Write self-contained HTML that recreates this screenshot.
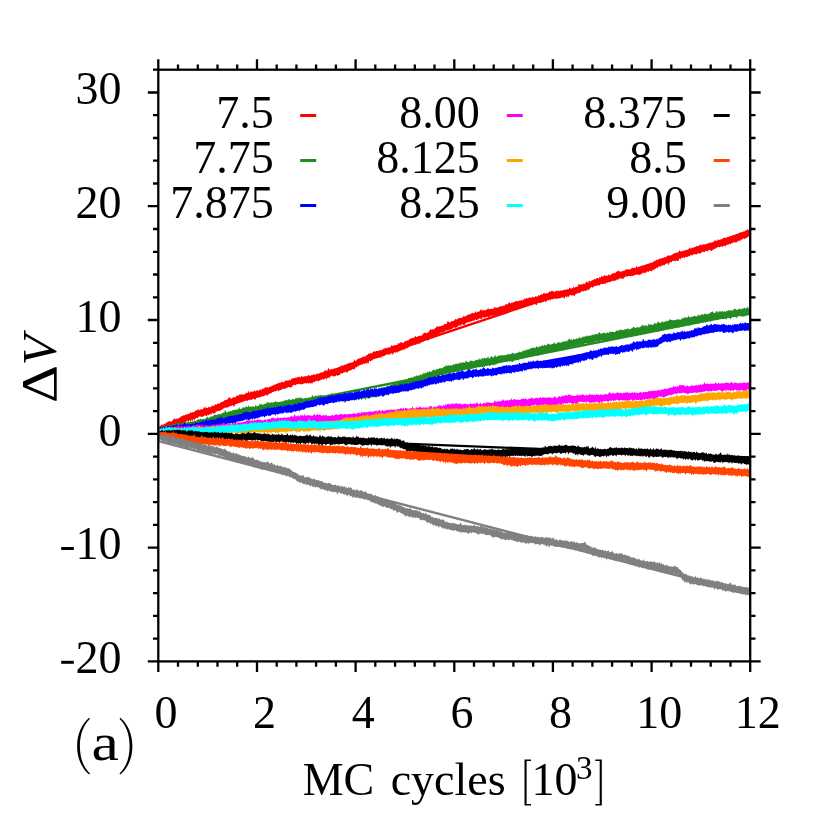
<!DOCTYPE html>
<html><head><meta charset="utf-8"><title>chart</title>
<style>
html,body{margin:0;padding:0;background:#fff;}
body{width:831px;height:831px;overflow:hidden;}
svg{display:block;will-change:transform;}
text{font-family:"Liberation Serif",serif;fill:#000;}
</style></head><body>
<svg width="831" height="831" viewBox="0 0 831 831">
<rect x="0" y="0" width="831" height="831" fill="#fff"/>
<defs><clipPath id="c"><rect x="158.3" y="69.7" width="591.9" height="591.7"/></clipPath></defs>
<g clip-path="url(#c)" fill="none" stroke-linejoin="bevel" stroke-linecap="butt">
<path d="M157.8 426.9l.7-.4l.7 .2l.7-.2l.7-.9l.7-1l.7 .5l.7-.3l.7-.2l.7-.3l.7-.6l.7-.2l.7-.7l.7-.1l.7-.9l.7-.7l.7 .8l.7-.9l.7 .3l.7 .5l.7-.6l.7-.8l.7-1.2l.7 .3l.7-1.5l.7 1l.7 .7l.7-1.6l.7 .8l.7-.5l.7-.2l.7-.1l.7-1.8l.7 .9l.7-1l.7-.2l.7-.3l.7-.8l.7 .8l.7-1.3l.7 .2l.7 .1l.7-.4l.7-.3l.7-.1l.7-.1l.7-.8l.7-1.1l.7 1.1l.7-.4l.7-.3l.7-.3l.7 .2l.7-1.2l.7-.2l.7-.8l.7 .7l.7-1.1l.7-.5l.7 1.1l.7-.1l.7-.9l.7 0l.7 .6l.7-.7l.7-.4l.7-1.2l.7-.2l.7 .1l.7 .2l.7 .5l.7 0l.7-.6l.7-1l.7 .8l.7-.1l.7-.3l.7-1.8l.7 1l.7 .3l.7-1.2l.7 .2l.7-.9l.7-.2l.7 .8l.7-1.9l.7 .5l.7 0l.7-.5l.7 .4l.7-1.4l.7-.1l.7-.2l.7-.7l.7 .3l.7-.9l.7-.6l.7-.2l.7 .2l.7-.2l.7-1l.7-.9l.7-.6l.7 .3l.7 .8l.7 .3l.7-.2l.7-.9l.7-.3l.7 0l.7 0l.7 .2l.7-1.4l.7-.6l.7 .2l.7 0l.7-.5l.7-1.1l.7 .8l.7-1.5l.7 1.3l.7-.2l.7 .1l.7 0l.7-.3l.7-.2l.7-1.5l.7 .7l.7-.6l.7-.2l.7-1.9l.7 2.2l.7-.4l.7-1.1l.7 .7l.7-.5l.7 .1l.7 .1l.7-2l.7 2.1l.7-1l.7-.4l.7-.1l.7 .1l.7 .6l.7-1l.7-.6l.7 .3l.7 .5l.7-2l.7 .9l.7-.3l.7 .3l.7-2.1l.7 .2l.7 .6l.7-.5l.7-.1l.7 .9l.7-1.5l.7 .7l.7-.7l.7-.2l.7-.9l.7 .3l.7-.5l.7-.6l.7 .1l.7-.3l.7-.5l.7-.1l.7-.7l.7 .3l.7-1.1l.7 .5l.7 0l.7-.8l.7 .1l.7-.6l.7 .7l.7 .1l.7-.8l.7-1.5l.7 1.1l.7-.6l.7-.3l.7 .5l.7-.2l.7-1.2l.7 1.1l.7-.5l.7-1.3l.7-.8l.7 1.1l.7-1.3l.7 .5l.7-.2l.7-.4l.7 .3l.7-1l.7 .3l.7-.1l.7-.9l.7 1.5l.7-.4l.7-1.5l.7 .7l.7 .3l.7 .2l.7-1.2l.7 .8l.7-.4l.7 .3l.7-1.1l.7 .8l.7-1.2l.7 0l.7 1l.7-.1l.7-1l.7 .3l.7 0l.7-.6l.7-.4l.7 .6l.7-.4l.7 .3l.7-1.3l.7 .5l.7-.7l.7 1l.7-.7l.7-1.6l.7 1.1l.7-.3l.7-.5l.7 .3l.7-.4l.7-2.3l.7 1.9l.7-2.2l.7 1.2l.7 .2l.7-1.6l.7-1.9l.7 2.1l.7 .4l.7-.7l.7 .3l.7-.5l.7 .2l.7-.4l.7 0l.7 0l.7-.1l.7 0l.7-.2l.7-.3l.7-.9l.7 .2l.7-.8l.7-.7l.7 .8l.7-2.3l.7 1.5l.7-.2l.7-1.1l.7 .3l.7-.4l.7 0l.7-.1l.7-1l.7-.7l.7 .8l.7-.4l.7-.2l.7-1.1l.7 1l.7-.4l.7 0l.7-1.8l.7-1.1l.7 1.9l.7-.9l.7-.4l.7-1.1l.7 .1l.7-.7l.7-.2l.7 .3l.7-.8l.7 .1l.7-1.2l.7 .1l.7-.1l.7 0l.7-.1l.7-.4l.7-1.2l.7 .2l.7-.7l.7-1.2l.7 1.2l.7-1.9l.7 .7l.7 0l.7 .3l.7-1.5l.7-.1l.7-1.6l.7 1.3l.7 .1l.7-.7l.7-.1l.7 0l.7 .3l.7-1.3l.7 .6l.7-.2l.7-.4l.7 0l.7-.2l.7-.8l.7-.6l.7 .1l.7-.8l.7 .9l.7-.9l.7 .3l.7-.9l.7 .6l.7-.4l.7-.1l.7-.6l.7-2l.7 1.2l.7 .3l.7-.6l.7 .1l.7-.5l.7-.1l.7 .1l.7-.1l.7-1.3l.7-1l.7 .8l.7-.1l.7-1.5l.7-.1l.7 1.3l.7 0l.7-.6l.7-.1l.7-1.8l.7 .6l.7-.1l.7-.6l.7-.1l.7 0l.7-.8l.7-.8l.7 .1l.7-1l.7 .3l.7-.2l.7-.4l.7 .6l.7-1.5l.7-.9l.7 1.2l.7-.1l.7-.2l.7-1l.7 .7l.7-.9l.7 .2l.7 .2l.7-.5l.7-.7l.7-.6l.7-1.4l.7 .4l.7-.5l.7 .4l.7 .2l.7-.2l.7-1.1l.7 .3l.7-1.4l.7-1.3l.7-.4l.7 .8l.7-.8l.7 .9l.7-1.3l.7 .8l.7-1.4l.7-.4l.7-.6l.7-1l.7 .5l.7 .7l.7-1.4l.7 .4l.7 0l.7-.5l.7 .1l.7-.6l.7 .1l.7-1.2l.7-.2l.7-.1l.7 0l.7-.7l.7-2.2l.7 .6l.7 .5l.7 .8l.7-.8l.7-.8l.7 .1l.7-.3l.7-.3l.7 .1l.7-.8l.7-1.1l.7 .1l.7 .7l.7-1l.7-.2l.7-.3l.7-.2l.7 0l.7-.2l.7-.2l.7-.3l.7-.3l.7-1.7l.7 1.2l.7 .2l.7-1.4l.7 .8l.7-1.2l.7-.2l.7-.4l.7 0l.7-.4l.7 .2l.7-1.2l.7 .4l.7-.8l.7 .8l.7-.5l.7-.3l.7-1.5l.7 1.8l.7-.6l.7-.8l.7 .4l.7-1.1l.7 1l.7-2.2l.7 .4l.7-.6l.7 1.5l.7-.8l.7 0l.7 .3l.7-.2l.7-.1l.7-.7l.7-.4l.7-1.3l.7 1.6l.7 .3l.7-.5l.7-.3l.7-.1l.7 .5l.7-.4l.7-.6l.7-1.4l.7 1.1l.7-.9l.7 .9l.7-.5l.7-.1l.7 .1l.7-.7l.7-.3l.7-.8l.7 .8l.7-.2l.7-.5l.7 0l.7-.2l.7 .1l.7-2l.7 1.2l.7-.8l.7 .4l.7-1.5l.7-1l.7 1.1l.7 .7l.7-1.2l.7 0l.7 .3l.7-.6l.7-.2l.7 .2l.7-1.1l.7 0l.7-.4l.7 .7l.7-.6l.7 .6l.7-1.1l.7 .2l.7 0l.7-.4l.7 .3l.7-.4l.7-.7l.7-1.1l.7 1l.7-.8l.7-.6l.7 .9l.7-1.1l.7 .8l.7-1.3l.7 .7l.7-.1l.7 .1l.7-1.6l.7 1.4l.7-.2l.7-.4l.7 .1l.7-1.4l.7 1l.7-.3l.7-.2l.7-1.5l.7 1.2l.7-.9l.7-.2l.7-.3l.7-.5l.7 .8l.7-2.1l.7 .5l.7-.1l.7 1l.7-.6l.7-.5l.7 .2l.7-.2l.7-1.5l.7-.1l.7 .5l.7-1.1l.7 .2l.7 0l.7 .2l.7 .8l.7-.1l.7-.6l.7-1.1l.7 .9l.7 .4l.7-1.2l.7 .4l.7 .6l.7-1l.7 .3l.7 .1l.7-.2l.7-.3l.7-.5l.7-.3l.7 .6l.7-.1l.7-.8l.7 .3l.7-.5l.7 .5l.7-2.2l.7 1.1l.7 .1l.7 .4l.7-1.1l.7 .7l.7-2.3l.7 2l.7-.9l.7-.3l.7-.1l.7 .2l.7-.4l.7-2.3l.7-.3l.7 1.1l.7-.7l.7 0l.7-.3l.7 .6l.7-1.5l.7 1l.7-.7l.7-.3l.7-1.7l.7-.1l.7 1l.7 .3l.7-2.7l.7 1.3l.7 .2l.7-.4l.7-.8l.7-.1l.7-.5l.7 .1l.7-1.2l.7 .8l.7-.7l.7-.7l.7-.2l.7 .8l.7-.5l.7-1.1l.7 .8l.7-.9l.7-1.2l.7 .6l.7 .8l.7-1.3l.7-.7l.7 .5l.7 .4l.7-.7l.7 .8l.7-.3l.7-1.9l.7 1.4l.7 0l.7-.3l.7-1.1l.7-.3l.7 .4l.7-1.3l.7 .5l.7-.4l.7 .1l.7-1.5l.7 .7l.7-1.7l.7 .3l.7 .4l.7 .6l.7-.2l.7 .3l.7-.6l.7 .1l.7-.7l.7 .3l.7-.4l.7-.8l.7-.7l.7 .7l.7-.7l.7 .6l.7-.3l.7 .1l.7 .1l.7-.5l.7-1l.7-.3l.7 .5l.7-.1l.7-.3l.7 .8l.7-1.2l.7-2l.7 2.5l.7-.6l.7-.8l.7 .8l.7-.3l.7-.9l.7 .3l.7-1.3l.7 .9l.7 0l.7-.1l.7-.4l.7-.5l.7-.5l.7 .3l.7-.9l.7 .3l.7 .1l.7-.8l.7 .4l.7-1.1l.7 .7l.7-.3l.7-.6l.7-3.2l.7 2.8l.7-1.1l.7-1.5l.7 .7l.7-.3l.7-.7l.7 .2l.7-1.5l.7 .8l.7 0l.7-.5l.7-.5l.7-.1l.7 .2l.7-1.1l.7 .9l.7-1.2l.7 0l.7-.4l.7-.5l.7-.4l.7 .2l.7 .3l.7-.4l.7-.3l.7-.3l.7-.9l.7 .1l.7-.9l.7 0l.7 .3l.7-1l.7 .7l.7-.8l.7-.1l.7-2l.7 1.2l.7 0l.7 .1l.7-.3l.7 .1l.7-1l.7 .5l.7-.3l.7-.4l.7 .1l.7-.9l.7 .8l.7-.8l.7-.6l.7-1.2l.7 1.1l.7 .3l.7-1.2l.7 .2l.7 0l.7-.2l.7-.9l.7 .4l.7-.7l.7-.7l.7 .5l.7 .1l.7-.8l.7-.2l.7-.7l.7 .7l.7-.1l.7-.6l.7-.1l.7-.2l.7 .3l.7-.1l.7-.3l.7 0l.7-.8l.7-.2l.7 .5l.7-1.5l.7 .5l.7 .5l.7-.4l.7-.1l.7 0l.7-.6l.7-1.1l.7-.7l.7 .1l.7 .5l.7 .3l.7-1.9l.7 .2l.7 .9l.7-.5l.7-.2l.7 0l.7-.3l.7-.8l.7-.4l.7-.6l.7 .2l.7 .7l.7-.4l.7-.4l.7-.8l.7 .7l.7-.3l.7-1.4l.7 .8l.7-.4l.7 .3l.7-1.2l.7-.9l.7 1.3l.7-.3l.7-.6l.7-1.4l.7 1l.7-.1l.7-.6l.7-.9l.7-.1l.7-.3l.7-.2l.7 .3l.7 .1l.7-1.2l.7 .1l.7 .3l.7-.6l.7-1.4l.7 .6l.7-1.4l.7 1l.7-.4l.7-.3l.7 .1l.7-1.3l0 7.6l-.7 1.8l-.7-.8l-.7-.6l-.7 1.2l-.7-.3l-.7 .8l-.7 .3l-.7 .3l-.7 .5l-.7-.6l-.7 .2l-.7 .9l-.7 .1l-.7-.1l-.7 2.2l-.7-1.2l-.7-.3l-.7 1.3l-.7-.1l-.7 1.2l-.7-.5l-.7 .6l-.7-.5l-.7 .1l-.7 .2l-.7 .7l-.7-.3l-.7 .9l-.7 .8l-.7-1l-.7 .3l-.7 1.1l-.7-.3l-.7 0l-.7 .3l-.7 1.5l-.7-.6l-.7-.3l-.7 .4l-.7 1.1l-.7-.8l-.7 .2l-.7 .1l-.7 .1l-.7 .7l-.7-.3l-.7-.1l-.7 .5l-.7 .4l-.7 .3l-.7 .6l-.7 .1l-.7 .6l-.7 1l-.7-1.1l-.7 1.9l-.7-.6l-.7-.2l-.7-.8l-.7 .1l-.7 1.4l-.7 0l-.7-.4l-.7 .5l-.7-.4l-.7 1.4l-.7 0l-.7-.6l-.7-.2l-.7 .9l-.7 .8l-.7 0l-.7 .5l-.7-.1l-.7-.7l-.7 .8l-.7 .2l-.7 1l-.7-1.1l-.7 .9l-.7-.8l-.7 .5l-.7 .5l-.7 .5l-.7-.3l-.7 .1l-.7 .5l-.7 1l-.7-.7l-.7 .7l-.7 .3l-.7 .2l-.7-.5l-.7 .7l-.7 .8l-.7-.9l-.7 .5l-.7 .1l-.7-.3l-.7 2.2l-.7-1.4l-.7 .1l-.7 2.3l-.7 .1l-.7 .1l-.7-1l-.7 2l-.7-1.8l-.7 .8l-.7-.1l-.7-.1l-.7 .1l-.7 1.7l-.7-.5l-.7 0l-.7 .6l-.7 3.1l-.7-2.9l-.7 .6l-.7-.1l-.7 .5l-.7 .1l-.7 1.6l-.7-.9l-.7 .8l-.7-.3l-.7 1.2l-.7-1.1l-.7 2l-.7-1.3l-.7 .8l-.7-.2l-.7 1.9l-.7-.9l-.7 .4l-.7 .9l-.7-.2l-.7 .8l-.7 1l-.7-1l-.7 2l-.7-.2l-.7-.5l-.7 .4l-.7-.6l-.7 1.8l-.7-1.1l-.7 .5l-.7 .3l-.7 1.1l-.7-.7l-.7 .8l-.7-1l-.7 1.5l-.7-1l-.7 1.1l-.7 .7l-.7-.4l-.7 1.1l-.7-.8l-.7 .4l-.7-.5l-.7 .2l-.7 .2l-.7 .3l-.7 .5l-.7-.6l-.7 .7l-.7 .6l-.7-.5l-.7 .5l-.7 0l-.7-.3l-.7 0l-.7 0l-.7 .8l-.7-.4l-.7-.2l-.7 .6l-.7 .7l-.7 .1l-.7 1.6l-.7-.3l-.7-1.2l-.7 1.2l-.7-.1l-.7-.5l-.7 .3l-.7 .8l-.7 .5l-.7-.9l-.7 1.5l-.7-.4l-.7 1.7l-.7-1.6l-.7 1.1l-.7-.4l-.7-.1l-.7 .7l-.7 0l-.7 .9l-.7-.3l-.7 0l-.7 .2l-.7 .6l-.7-.4l-.7 1.3l-.7 0l-.7-.4l-.7 .6l-.7 .2l-.7-.1l-.7-.4l-.7 .3l-.7 .7l-.7 1l-.7-.9l-.7 .9l-.7-.6l-.7 1l-.7-.6l-.7 .4l-.7 .3l-.7 .3l-.7 .7l-.7 .6l-.7-.7l-.7 .2l-.7 .5l-.7 .6l-.7 2l-.7-1l-.7 .4l-.7 .2l-.7 1.3l-.7-.6l-.7-.1l-.7 .7l-.7 .3l-.7-.6l-.7 .4l-.7 .1l-.7 .9l-.7 .1l-.7 1l-.7-.6l-.7 0l-.7 .7l-.7 .3l-.7 .2l-.7 1.2l-.7 1.1l-.7-1.6l-.7 1.3l-.7-1l-.7 .7l-.7-.7l-.7-.1l-.7 .5l-.7 1.2l-.7 .5l-.7-1.3l-.7 2.1l-.7-1.7l-.7 .2l-.7 2.2l-.7-.5l-.7-1.1l-.7 .8l-.7-.9l-.7 .9l-.7 .3l-.7 .2l-.7-.1l-.7 .2l-.7-.2l-.7 .9l-.7-.3l-.7-.6l-.7 .9l-.7-1l-.7 1l-.7 0l-.7 0l-.7-.3l-.7 1.5l-.7-.6l-.7-.1l-.7 .7l-.7-.5l-.7 .6l-.7 1.1l-.7 .8l-.7-1.3l-.7 .4l-.7 .6l-.7 0l-.7 .3l-.7-.2l-.7 1l-.7 .1l-.7-1.1l-.7 .9l-.7-.3l-.7 1.1l-.7 1.3l-.7-.3l-.7-1.4l-.7 .4l-.7 .2l-.7-.2l-.7 1l-.7 .7l-.7-1.7l-.7 .5l-.7-.1l-.7 2.1l-.7-1.3l-.7 .2l-.7 .1l-.7 1.3l-.7-.2l-.7-.1l-.7 .2l-.7 0l-.7 .2l-.7 .4l-.7 .9l-.7 .1l-.7 .4l-.7 0l-.7-.8l-.7 .9l-.7 .3l-.7-.8l-.7 1.2l-.7 1.4l-.7-1.5l-.7-.2l-.7 .9l-.7 .9l-.7 .2l-.7-.9l-.7-.1l-.7 1.1l-.7-.7l-.7 .9l-.7 0l-.7 .6l-.7-.5l-.7 2l-.7-1.4l-.7 .4l-.7 .1l-.7 1.7l-.7 0l-.7-.6l-.7 1l-.7-.1l-.7-.5l-.7-.3l-.7 .6l-.7 1.9l-.7-.7l-.7 .3l-.7-.6l-.7 0l-.7 .9l-.7-.8l-.7 .1l-.7 .4l-.7 .4l-.7-.1l-.7 1.4l-.7-.7l-.7-.4l-.7 .6l-.7 0l-.7-.1l-.7 1.2l-.7-1l-.7 0l-.7 .1l-.7 2l-.7-.6l-.7 .1l-.7-.4l-.7 .2l-.7 .7l-.7 .5l-.7-.1l-.7 .2l-.7-.3l-.7 .4l-.7 .4l-.7 .8l-.7-.6l-.7 .3l-.7 .4l-.7 1.2l-.7-1.1l-.7 .4l-.7 .9l-.7-.4l-.7 .1l-.7 .2l-.7 .6l-.7 .7l-.7 1l-.7-.1l-.7 .4l-.7-1.1l-.7 .1l-.7 2l-.7-1.3l-.7 .6l-.7-.1l-.7 1.4l-.7-.3l-.7 .7l-.7 .5l-.7 .1l-.7-.1l-.7-.5l-.7 .5l-.7 .7l-.7 .3l-.7 .5l-.7-.1l-.7 2.2l-.7-1.2l-.7-.7l-.7 1.3l-.7-.8l-.7 .6l-.7 .2l-.7 .8l-.7-.1l-.7 1l-.7 0l-.7-.1l-.7 .8l-.7-.5l-.7 .8l-.7 1.1l-.7-.8l-.7 .6l-.7 .3l-.7 .7l-.7 .1l-.7 .5l-.7-.1l-.7 .5l-.7 0l-.7 1.9l-.7-1.2l-.7 1.3l-.7-.7l-.7 1.6l-.7 1.2l-.7-1.1l-.7 2l-.7-2l-.7 .5l-.7 .1l-.7 .5l-.7 .2l-.7 1.6l-.7-1l-.7 1.3l-.7-.5l-.7 1.5l-.7 .6l-.7-1l-.7 1.2l-.7-.9l-.7 1.3l-.7-.7l-.7 1l-.7-.3l-.7 .5l-.7-.2l-.7 .8l-.7 .3l-.7-.5l-.7 .8l-.7 .2l-.7 .2l-.7 .7l-.7-.1l-.7 1.8l-.7-1.5l-.7 .2l-.7 2.5l-.7-1.4l-.7 .2l-.7 1l-.7-.2l-.7 .3l-.7 .3l-.7 .3l-.7 .3l-.7 .1l-.7 1.5l-.7-1.2l-.7 .4l-.7 1.6l-.7-1.5l-.7-.2l-.7 2.2l-.7-1.4l-.7 2.5l-.7-1.9l-.7-.1l-.7 1l-.7 .9l-.7-1.1l-.7 .5l-.7 .2l-.7-.3l-.7 .4l-.7 .3l-.7 1l-.7 0l-.7 .2l-.7 .2l-.7-.2l-.7 2.1l-.7-1.4l-.7 .8l-.7-.4l-.7 .7l-.7-.1l-.7 .3l-.7 .1l-.7 0l-.7 .9l-.7-.5l-.7 .4l-.7 .7l-.7 1.1l-.7-1l-.7 1.7l-.7-1l-.7 .4l-.7 2.7l-.7-1.6l-.7 2l-.7-1.3l-.7-.1l-.7 .9l-.7 .5l-.7-.7l-.7 .2l-.7 .7l-.7 .4l-.7-.1l-.7 .4l-.7 .1l-.7 .5l-.7 1.2l-.7-.8l-.7 1.5l-.7-.6l-.7 1l-.7 1.7l-.7-.7l-.7 .2l-.7-.3l-.7 1.1l-.7 0l-.7 1.1l-.7-.8l-.7 .9l-.7-.5l-.7 2.3l-.7-.9l-.7 .5l-.7-1.1l-.7 .7l-.7 .6l-.7-.2l-.7 .9l-.7-.1l-.7-.4l-.7 .8l-.7 1.2l-.7 .1l-.7 .1l-.7 1.1l-.7-1.1l-.7-.2l-.7 1.3l-.7-.4l-.7 .7l-.7-.4l-.7 .2l-.7-.8l-.7 .1l-.7 .7l-.7 .2l-.7 1.8l-.7-1l-.7 .7l-.7-.1l-.7 1.8l-.7-1.8l-.7 .8l-.7-.1l-.7 1.3l-.7-1l-.7-.1l-.7 .8l-.7 .7l-.7-.6l-.7 .7l-.7 1.3l-.7-.8l-.7-.3l-.7 .4l-.7 0l-.7 .2l-.7 1l-.7 0l-.7-.5l-.7 1.8l-.7-.4l-.7 0l-.7 .3l-.7-.7l-.7 .5l-.7 .7l-.7-1.2l-.7 .4l-.7 0l-.7 .4l-.7-.4l-.7 0l-.7 .6l-.7 .2l-.7 .5l-.7 0l-.7-.8l-.7 .6l-.7 .2l-.7-.7l-.7 .4l-.7-.1l-.7 .4l-.7 1.1l-.7-.6l-.7-.4l-.7 .2l-.7 .6l-.7 1.2l-.7 .5l-.7 .6l-.7-.5l-.7-.2l-.7-.1l-.7 .6l-.7 .1l-.7 .4l-.7-.2l-.7 1.5l-.7-.5l-.7 .3l-.7-.6l-.7 .3l-.7 .9l-.7-.2l-.7 .9l-.7-.7l-.7 2.1l-.7-1l-.7-.7l-.7 .3l-.7 .7l-.7 .4l-.7-.5l-.7 .4l-.7 .4l-.7 .3l-.7 .3l-.7 .8l-.7 .4l-.7 0l-.7 .2l-.7 .7l-.7 .8l-.7 .4l-.7-.6l-.7-.5l-.7 1.2l-.7-.1l-.7 .7l-.7-.3l-.7 .3l-.7 .1l-.7 .4l-.7 .3l-.7 .4l-.7-.3l-.7 .4l-.7 .4l-.7-.4l-.7 .9l-.7 1.7l-.7-1l-.7-.2l-.7-.5l-.7 .9l-.7 .6l-.7-.7l-.7 0l-.7 1.1l-.7-.4l-.7 0l-.7 1.3l-.7-1.5l-.7 .3l-.7 0l-.7 .2l-.7 1l-.7-.3l-.7 .2l-.7 .6l-.7 .3l-.7 .3l-.7 .2l-.7 .6l-.7-.3l-.7-.4l-.7 1.9l-.7-1.1l-.7 .7l-.7 1.3l-.7 1l-.7 .2l-.7-2.1l-.7 1.2l-.7 0l-.7 .4l-.7-.6l-.7 .9l-.7 1l-.7-1.1l-.7 1.9l-.7-.6l-.7-.4l-.7-.1l-.7 .5l-.7 .8l-.7 .3l-.7 1.4l-.7-.6l-.7 1.3l-.7-.4l-.7 .3l-.7 .6l-.7-.4l-.7 0l-.7 .8l-.7-.3l-.7 2l-.7-.5l-.7 .7l-.7 .1l-.7-1.1l-.7 1l-.7 1.8l-.7-2l-.7 .8l-.7 .8l-.7 .4l-.7-.7l-.7 1.4l-.7-.2l-.7-.7l-.7 .4l-.7 .5l-.7 .1l-.7 1l-.7-.6l-.7 .5l-.7-.6l-.7-.2l-.7 .3l-.7 .1l-.7 1.3l-.7 .3l-.7-.4l-.7 .6l-.7 .6l-.7 1.8l-.7-2.2l-.7 2.4l-.7-1.4l-.7 0l-.7 2.4l-.7-1.9l-.7 .3l-.7 1.8l-.7-1.7l-.7 .4l-.7 .2l-.7 1.1l-.7 .5l-.7 .5l-.7-.9l-.7 1.6l-.7-1l-.7 .9l-.7 .3l-.7 .1l-.7 .9l-.7 .4l-.7 .2l-.7 1.1l-.7-.7l-.7-.1l-.7 .9l-.7-.3l-.7 .8l-.7 1.1l-.7-.8l-.7 .4l-.7 1l-.7 .4l-.7-.4l-.7 0l-.7 .1l-.7-.2l-.7 .4l-.7 .3l-.7 0l-.7 .3l-.7 1.1l-.7-.5l-.7 .2l-.7-.1l-.7 1.5l-.7-.8l-.7 .1l-.7 .8l-.7-.5l-.7-.1z" fill="#ff0000" stroke="none"/>
<line x1="158.3" y1="428.6" x2="750.2" y2="231.0" stroke="#ff0000" stroke-width="2.4"/>
<path d="M157.8 428.1l.7-.3l.7 .1l.7-.9l.7 .7l.7-1.2l.7-.1l.7 0l.7 .3l.7-1.2l.7 .7l.7-.9l.7-.2l.7 .8l.7-.1l.7-1.3l.7 .8l.7-1.1l.7 .9l.7 .2l.7-.4l.7-.9l.7 .4l.7-.5l.7 .1l.7-.1l.7-.8l.7 .4l.7-1.8l.7 1.8l.7-.5l.7 .3l.7-.7l.7 .6l.7-.9l.7 .8l.7-.2l.7-.5l.7 .5l.7-1.9l.7 1.6l.7-.1l.7 .2l.7-1.1l.7 .5l.7 .3l.7-.6l.7 0l.7 .7l.7-2.8l.7 2.5l.7-.2l.7-1.2l.7 .8l.7-.7l.7-.6l.7 .2l.7-1.1l.7-.4l.7 .6l.7 0l.7-1.1l.7 .9l.7-.3l.7 .3l.7-.8l.7 .3l.7 0l.7-.2l.7-.5l.7-1.3l.7-.4l.7 1.2l.7 .2l.7-.7l.7-.2l.7-1l.7 .7l.7-.2l.7-.5l.7-.9l.7 .2l.7-1.1l.7 .8l.7 0l.7-.4l.7-.1l.7-.8l.7 .9l.7-.4l.7-.4l.7-.2l.7-.2l.7-.6l.7-.2l.7 .2l.7-2.6l.7 .3l.7 1.9l.7-.1l.7 0l.7-.7l.7 0l.7-.6l.7 .3l.7-.1l.7-.8l.7 0l.7-.6l.7-.1l.7 .6l.7-.6l.7-.4l.7 .8l.7-1.1l.7 .8l.7-3.1l.7 1.8l.7 .4l.7 0l.7-.5l.7-.6l.7-.5l.7-.1l.7 .5l.7-.1l.7-1.5l.7 .6l.7 .5l.7-.9l.7-1l.7 1.7l.7-.2l.7-.3l.7 .3l.7-.4l.7 0l.7-.1l.7 .7l.7-.8l.7-1.7l.7 2.1l.7-.4l.7-.8l.7 .8l.7-1.4l.7-1.6l.7 1.6l.7-1l.7 .8l.7 .3l.7-.3l.7-.6l.7-.5l.7 .7l.7-.8l.7-1.8l.7 1.5l.7-1.4l.7 1.7l.7-1l.7 .4l.7-.7l.7 .7l.7-.3l.7 0l.7-.4l.7 .1l.7-1.3l.7 .6l.7 .6l.7 .1l.7-.5l.7 .2l.7 .1l.7-.1l.7-.3l.7-.3l.7 .1l.7-.1l.7-1.1l.7 .9l.7-.6l.7-.8l.7 .2l.7 .5l.7-.3l.7-1.1l.7 .3l.7 .2l.7 .4l.7 .1l.7-.9l.7-.5l.7 1.1l.7-.4l.7-.1l.7-1.5l.7 .2l.7 .8l.7-1.2l.7 0l.7 1.3l.7-1.4l.7 .2l.7-.1l.7 1.2l.7-.7l.7 .8l.7-.2l.7-.7l.7 0l.7-.4l.7 1l.7-.4l.7-.6l.7 .1l.7-.4l.7 .4l.7-.2l.7-1.4l.7-.9l.7 1.1l.7 .5l.7-.2l.7-.9l.7-.1l.7 .7l.7-.3l.7-.1l.7-1.9l.7 2.2l.7-.5l.7-1.2l.7 1l.7 0l.7 .2l.7-.5l.7 .6l.7 0l.7-.3l.7 .2l.7-.3l.7-.9l.7 .2l.7 .3l.7-.1l.7-.4l.7-1.6l.7 1.7l.7-1.6l.7 1.5l.7-.8l.7 .4l.7 .3l.7-1.3l.7 .8l.7-.5l.7 .3l.7 .7l.7-1.6l.7 1.3l.7 .4l.7-.9l.7 .5l.7-.1l.7 0l.7 .8l.7-.3l.7-1.6l.7 .8l.7 .3l.7 .3l.7-.2l.7-.2l.7 0l.7-1.3l.7 .1l.7 .2l.7 .4l.7-.2l.7 .2l.7-.5l.7 .2l.7-2.3l.7 1l.7-1l.7 1.4l.7-1l.7 1.1l.7 .1l.7-1l.7 .3l.7-.3l.7-.6l.7 .1l.7 .9l.7 0l.7-.7l.7-1.5l.7 .5l.7 1l.7-.1l.7-.5l.7-.3l.7-.3l.7 1l.7-1l.7 .1l.7 .1l.7 .1l.7-.7l.7-.1l.7 .6l.7 0l.7-1.3l.7 .5l.7-.2l.7-.1l.7-.8l.7 .1l.7-.6l.7 0l.7-.3l.7 .4l.7-.4l.7-.1l.7-.6l.7-1.5l.7 1.3l.7-.4l.7 .1l.7-.7l.7-.6l.7 .4l.7-.5l.7-.5l.7-.8l.7-.2l.7 1l.7-.5l.7 0l.7-.8l.7 .6l.7-.5l.7-2.3l.7 1.5l.7 0l.7-.2l.7-.5l.7-1.4l.7 .7l.7 .3l.7-1.2l.7 .3l.7-.1l.7-.1l.7-.3l.7-1.7l.7 .5l.7-.5l.7 .6l.7-1.8l.7 1.4l.7-.4l.7 .1l.7-1.7l.7 .5l.7 .2l.7-1.4l.7 .4l.7 .6l.7-1.6l.7 1.6l.7-1.2l.7-.5l.7 0l.7 .6l.7-1.4l.7 .8l.7-2.6l.7 1.8l.7-.8l.7 0l.7 0l.7-1.6l.7 1.1l.7-.5l.7-1.2l.7 1.2l.7 0l.7-.2l.7-1.2l.7-.4l.7-.9l.7 .8l.7 .6l.7-1.5l.7 0l.7 .2l.7-1l.7 .7l.7-.4l.7-1.2l.7 .9l.7-.4l.7 .5l.7-.4l.7-1.2l.7 .3l.7-1.4l.7 .8l.7-1.1l.7-.2l.7 .8l.7-.9l.7 .2l.7 0l.7 .4l.7-.8l.7 .4l.7 0l.7-1.4l.7 .4l.7 .5l.7-1.3l.7 .5l.7-.6l.7 .5l.7-.7l.7 .7l.7-1l.7-.7l.7 1l.7-1.2l.7 1.2l.7-.9l.7-.5l.7 .9l.7-.4l.7-2.1l.7 1l.7 .8l.7 .2l.7-.2l.7-.3l.7-.5l.7-1.1l.7 .9l.7-.9l.7 1.2l.7-.1l.7-.3l.7-.5l.7-.2l.7-.8l.7 .7l.7-.2l.7-.5l.7-1.6l.7 1.8l.7-.4l.7 .1l.7-1.1l.7-.5l.7 1.4l.7-1.8l.7 .7l.7 .2l.7 0l.7 0l.7-1l.7-1.1l.7 2.4l.7 0l.7-1l.7-1.3l.7 .4l.7 0l.7 .7l.7 0l.7-1.6l.7-.8l.7 1.7l.7 .4l.7-.9l.7-1l.7 1l.7-.2l.7-1.1l.7 .3l.7 .4l.7 0l.7-.9l.7 .7l.7 .1l.7-.9l.7 .7l.7-.4l.7-.1l.7-1l.7 .5l.7 .2l.7-.2l.7-.2l.7-.5l.7 .3l.7-1.5l.7 .3l.7 1.2l.7-.3l.7 0l.7-.6l.7-.1l.7-.4l.7-.3l.7 .5l.7-1.4l.7 1l.7-.1l.7-.4l.7-1l.7 .7l.7-1.8l.7 1.1l.7 0l.7-.7l.7-.6l.7 .3l.7-.2l.7-.3l.7 0l.7-1.2l.7 .8l.7-1.2l.7-.2l.7 .6l.7-.2l.7-.9l.7 1l.7-.3l.7-1.7l.7 .8l.7 .6l.7-.5l.7-.4l.7-.2l.7 .1l.7-.7l.7-.1l.7-.6l.7 1.3l.7-.8l.7-1.3l.7 1.3l.7 0l.7-.5l.7-1.3l.7-.2l.7 .5l.7 .4l.7 .3l.7-.1l.7-.7l.7-.1l.7 .1l.7-1.3l.7 0l.7 1.3l.7-.1l.7-.4l.7-.6l.7-1l.7 .7l.7 0l.7 .2l.7-.2l.7-.3l.7-.5l.7 .1l.7-.4l.7-.2l.7 .2l.7-.5l.7 .4l.7-.1l.7-1.9l.7 .5l.7-1.7l.7 2.2l.7-1.1l.7 .3l.7 .4l.7-.2l.7-1.3l.7 1.1l.7 0l.7-.5l.7-.7l.7 .2l.7 .5l.7-1l.7-.9l.7 .8l.7 .1l.7 .1l.7-.6l.7-.7l.7-.4l.7 .9l.7-1.2l.7 .6l.7-.4l.7-1l.7 1.3l.7-.7l.7-.8l.7 .9l.7-.3l.7-.3l.7-.4l.7-.4l.7 .9l.7-1.8l.7 1.4l.7-.8l.7-.5l.7 .1l.7 .5l.7-.6l.7-1.3l.7-.5l.7 1.5l.7 .2l.7-.1l.7-.4l.7 0l.7-.4l.7-.4l.7 1.2l.7-.3l.7 0l.7-1.2l.7 .8l.7 .4l.7-1.5l.7 .8l.7-1.3l.7 .9l.7-.7l.7 .5l.7 .1l.7-.2l.7 .4l.7-.9l.7-1l.7 .1l.7 0l.7 0l.7 .6l.7-1.8l.7 .8l.7-1.1l.7 1.5l.7-.5l.7 .1l.7-.1l.7-1l.7 .6l.7-.5l.7 .2l.7-.5l.7-1l.7 1.9l.7-.4l.7-.3l.7-.4l.7-.2l.7-.7l.7-.2l.7-.7l.7 .1l.7 1.2l.7-.2l.7-.5l.7-1l.7 1.3l.7-.1l.7-.3l.7-.2l.7-.5l.7-.6l.7-1.4l.7 1.4l.7-.5l.7-.5l.7 1.6l.7-1.2l.7-1l.7 1.9l.7-.4l.7-2.4l.7 1.8l.7-1.2l.7 .2l.7 .4l.7 .3l.7-.3l.7-.2l.7-.6l.7-1.3l.7 1l.7 .1l.7-.3l.7-1.1l.7-.8l.7 .5l.7 .9l.7-.2l.7-.1l.7-.6l.7-1.3l.7 1.7l.7-.3l.7 0l.7-.8l.7 .2l.7-.9l.7 .9l.7-1l.7 .3l.7-.9l.7-1.1l.7 1.3l.7 0l.7 0l.7 .4l.7-.6l.7 .4l.7-.5l.7 .2l.7-.6l.7 .2l.7-.7l.7 .9l.7-.5l.7 .6l.7-.4l.7 .1l.7-2l.7 .9l.7 .1l.7-1.5l.7 .7l.7-.8l.7 1.2l.7-1.3l.7 .6l.7-2l.7 1.5l.7 .1l.7 .3l.7-.5l.7-.6l.7 .7l.7-.7l.7 0l.7-.9l.7 1.1l.7-.6l.7 1.1l.7-2l.7 .7l.7-1.6l.7 1.6l.7-.2l.7-.4l.7-.9l.7-.2l.7 .4l.7 .7l.7-1.6l.7 .2l.7 .1l.7 .6l.7-.1l.7-.8l.7 .4l.7-.5l.7-.1l.7-1.4l.7 .2l.7-.4l.7-.4l.7 1.7l.7-.2l.7 .1l.7-.7l.7-1.2l.7 .1l.7 1.4l.7-.2l.7-1.8l.7 1.7l.7-.9l.7 0l.7 .3l.7-.6l.7 1l.7-.6l.7-.4l.7 .9l.7-.7l.7-.5l.7 .3l.7-.8l.7 .1l.7 .3l.7-.1l.7-.4l.7 .6l.7-.5l.7 0l.7-1l.7-.7l.7 .7l.7-.3l.7 1.1l.7 0l.7-.5l.7-.8l.7-.5l.7 1.3l.7-.8l.7 .6l.7-1.4l.7 1.5l.7-1.6l.7-.3l.7 .8l.7 .5l.7-1.2l.7 .6l.7-2.4l.7 3l.7-.3l.7-1.7l.7 1.3l0 6.8l-.7-.5l-.7 1.5l-.7-.8l-.7 .5l-.7 0l-.7 .2l-.7 .7l-.7-1l-.7 .7l-.7 .6l-.7-.6l-.7 .2l-.7 .7l-.7-1.5l-.7 .9l-.7-.8l-.7 1.1l-.7-.8l-.7 .7l-.7 2l-.7-2l-.7 .5l-.7-.1l-.7-.1l-.7 .6l-.7-.7l-.7 .8l-.7 .2l-.7 1.8l-.7-2.3l-.7 1.3l-.7-1.2l-.7 .1l-.7 1.1l-.7 1l-.7-1.1l-.7 .1l-.7 .2l-.7 .2l-.7-.2l-.7-.1l-.7 0l-.7-.2l-.7 .2l-.7-.2l-.7 1.5l-.7-.4l-.7 0l-.7 .1l-.7-.3l-.7-.5l-.7 .2l-.7-.1l-.7 1.4l-.7 .5l-.7-1.2l-.7 2.8l-.7-2.2l-.7-.3l-.7 1.3l-.7-1l-.7 .4l-.7-.2l-.7 .6l-.7 1.6l-.7-1.1l-.7-.2l-.7 1.5l-.7-1.5l-.7 .3l-.7 .7l-.7 .1l-.7 .3l-.7 .6l-.7 .3l-.7-1l-.7 .5l-.7 .7l-.7-.5l-.7 .3l-.7-.1l-.7 0l-.7 1.1l-.7-.9l-.7 .4l-.7-.2l-.7 2.7l-.7-2.5l-.7 1.2l-.7-.3l-.7-.6l-.7-.1l-.7 .3l-.7 1.2l-.7-.7l-.7 .1l-.7 1.6l-.7-.2l-.7-.8l-.7 .5l-.7 1.1l-.7-.3l-.7-.4l-.7 1l-.7-.9l-.7 .3l-.7 .1l-.7 .1l-.7 .3l-.7-1l-.7 1.5l-.7-1l-.7 .8l-.7 .4l-.7-.8l-.7 0l-.7 .3l-.7 .4l-.7 0l-.7 .8l-.7-1l-.7 .4l-.7 .6l-.7-.4l-.7 .4l-.7 .8l-.7-.6l-.7 .1l-.7 .1l-.7 .6l-.7-.8l-.7 2.8l-.7-1.9l-.7-.4l-.7 .9l-.7 .9l-.7-1.2l-.7 1l-.7 .7l-.7-.7l-.7-.1l-.7-.2l-.7 .9l-.7-.3l-.7 .9l-.7-.9l-.7 2.1l-.7-1.4l-.7 1.2l-.7-.7l-.7-.3l-.7 1.7l-.7-.3l-.7 0l-.7-1.1l-.7 .3l-.7 2.2l-.7-.6l-.7-1.1l-.7 .3l-.7 1.2l-.7 .1l-.7 .1l-.7-.7l-.7 1.1l-.7-.5l-.7-.4l-.7 .7l-.7 .1l-.7 1.6l-.7-1.2l-.7-.7l-.7 .2l-.7 .4l-.7-.2l-.7 1.2l-.7-.2l-.7 .1l-.7 .4l-.7 .1l-.7-.9l-.7 .2l-.7 .3l-.7 1.2l-.7-.2l-.7 .2l-.7 .2l-.7-.8l-.7 .4l-.7 .9l-.7-.5l-.7-.3l-.7 .9l-.7 0l-.7 .2l-.7-.6l-.7 0l-.7 1.2l-.7-.4l-.7-.4l-.7 .5l-.7 1.1l-.7-1.2l-.7 .4l-.7 .4l-.7-.3l-.7 .1l-.7 0l-.7 .4l-.7-.4l-.7-.1l-.7 .3l-.7 .3l-.7-.6l-.7 1.1l-.7-.1l-.7-.2l-.7 .5l-.7-.5l-.7 .4l-.7-.1l-.7 .2l-.7 .8l-.7 .2l-.7-.1l-.7 0l-.7 .2l-.7 1.8l-.7-1.7l-.7 .5l-.7-.3l-.7 1.2l-.7-.9l-.7 .1l-.7-.2l-.7 .4l-.7 .3l-.7 .2l-.7 .5l-.7 .2l-.7 .2l-.7 .6l-.7-.3l-.7-.4l-.7 .3l-.7 1.1l-.7-.7l-.7 0l-.7 .4l-.7-.1l-.7 1.5l-.7 0l-.7-.7l-.7-.6l-.7 .4l-.7 .2l-.7 1.1l-.7-.3l-.7-.2l-.7 .7l-.7-.5l-.7 .7l-.7-.2l-.7 1.3l-.7 .2l-.7-.6l-.7 0l-.7 .1l-.7 .7l-.7-.3l-.7 1.6l-.7-.9l-.7 .8l-.7-.1l-.7-.1l-.7-.1l-.7 .7l-.7-.2l-.7-.4l-.7 .9l-.7-.2l-.7 .6l-.7-.5l-.7 1.1l-.7-.3l-.7-.3l-.7-.5l-.7 .1l-.7 .5l-.7 .6l-.7 .1l-.7-.6l-.7 1.2l-.7 .5l-.7-1.1l-.7 .9l-.7 .4l-.7-1.1l-.7 .6l-.7 1.8l-.7-1.2l-.7-.5l-.7 2.6l-.7-1.4l-.7 1.3l-.7-.9l-.7-.6l-.7-.1l-.7 .3l-.7 .1l-.7 .5l-.7 .7l-.7 0l-.7 .2l-.7 0l-.7-.6l-.7 1.2l-.7 .6l-.7-.3l-.7-.1l-.7 .4l-.7 .1l-.7 .8l-.7 .9l-.7-1.3l-.7 .6l-.7 .4l-.7 .5l-.7-.2l-.7 0l-.7 .3l-.7 1.3l-.7-1.1l-.7 .6l-.7-.3l-.7 .8l-.7-1l-.7 1.1l-.7 .1l-.7 1l-.7 .2l-.7-.8l-.7 .1l-.7-.3l-.7 .4l-.7-.6l-.7 .6l-.7 .2l-.7-.3l-.7 .3l-.7 .2l-.7 .2l-.7-.2l-.7 .4l-.7-.3l-.7 .1l-.7 1.1l-.7-.7l-.7 0l-.7 .4l-.7-.3l-.7 1l-.7 .2l-.7 1.4l-.7-1.3l-.7 .8l-.7 1.2l-.7-1.8l-.7 .6l-.7 .5l-.7-.6l-.7 1.2l-.7 .5l-.7-.7l-.7-.7l-.7 .5l-.7 .8l-.7-.7l-.7-.7l-.7 2.3l-.7-.3l-.7-1.3l-.7 1.5l-.7 .3l-.7-.7l-.7 .4l-.7-.7l-.7 1.3l-.7-1.5l-.7 .5l-.7 .2l-.7 .1l-.7 .3l-.7-.1l-.7 1l-.7-.7l-.7 .9l-.7 .2l-.7 .5l-.7-.9l-.7 1.9l-.7-.7l-.7-.3l-.7-.2l-.7-.2l-.7 .5l-.7-.3l-.7-.1l-.7 1.8l-.7-.4l-.7-.3l-.7 2.5l-.7-2.3l-.7 .7l-.7-.9l-.7 .3l-.7 .1l-.7 1.2l-.7 .3l-.7-.4l-.7 .2l-.7-.5l-.7 1.7l-.7-.6l-.7-.3l-.7-.2l-.7 .2l-.7 1.6l-.7-1.3l-.7 2.1l-.7 0l-.7-1.5l-.7 0l-.7 .9l-.7 2.1l-.7-2.4l-.7 .4l-.7 .2l-.7 .9l-.7 .3l-.7-.2l-.7 0l-.7 .4l-.7 0l-.7 1.5l-.7 .2l-.7-.1l-.7-.4l-.7 .1l-.7 .3l-.7 .4l-.7-.1l-.7 1.7l-.7-1.4l-.7 1.1l-.7-.3l-.7 1.2l-.7 0l-.7-.6l-.7 .8l-.7-.2l-.7 0l-.7 1.5l-.7-.9l-.7 1l-.7-.8l-.7 .3l-.7 .5l-.7-.2l-.7 .7l-.7 .4l-.7 1.4l-.7-1l-.7 1l-.7-.2l-.7 1.2l-.7-.6l-.7-.7l-.7 1.1l-.7 1.1l-.7-.4l-.7-.1l-.7-.2l-.7 .5l-.7 .5l-.7 0l-.7 1.1l-.7-.8l-.7-.2l-.7 1.4l-.7-.7l-.7 .4l-.7 1.3l-.7-.6l-.7-.1l-.7 1.5l-.7 .7l-.7-1.4l-.7 .8l-.7 .3l-.7 0l-.7 .1l-.7-.1l-.7 .6l-.7 .1l-.7 .6l-.7 1.1l-.7 .1l-.7 .4l-.7-1.5l-.7 1.1l-.7-.2l-.7 .8l-.7 0l-.7 1.2l-.7-1.4l-.7 1.3l-.7 .3l-.7 .8l-.7-.6l-.7 1l-.7 0l-.7 1.3l-.7-1.2l-.7 .7l-.7-.7l-.7-.6l-.7 2.5l-.7-1.8l-.7 .3l-.7 1.3l-.7 .5l-.7-.9l-.7 .4l-.7 1.1l-.7-.3l-.7-.9l-.7 .3l-.7 .5l-.7-.3l-.7-.1l-.7-.3l-.7 1.2l-.7 .8l-.7-1.1l-.7 1l-.7-.1l-.7-1l-.7 .6l-.7 1.3l-.7-.1l-.7-1.3l-.7 .5l-.7 0l-.7 .6l-.7 1.1l-.7-1.8l-.7 .4l-.7 .8l-.7 0l-.7-1l-.7 .2l-.7 1.6l-.7-.8l-.7-.2l-.7 1.3l-.7-1.1l-.7-.3l-.7 .6l-.7 .6l-.7-.6l-.7 .2l-.7 1.3l-.7-1l-.7 .7l-.7-.2l-.7-.6l-.7 .2l-.7 2.1l-.7 0l-.7-1.8l-.7-.1l-.7 .5l-.7-.6l-.7 .4l-.7 .5l-.7-.1l-.7-.5l-.7 0l-.7 .2l-.7 .3l-.7-.4l-.7-.1l-.7 1.2l-.7-1.7l-.7 .4l-.7 .8l-.7-.9l-.7 .4l-.7-.1l-.7 .8l-.7-.5l-.7 0l-.7 .5l-.7 2.6l-.7-2.3l-.7-.1l-.7 1l-.7-.3l-.7 1.6l-.7-2.1l-.7-.1l-.7 .6l-.7-.2l-.7 .9l-.7 .7l-.7-.9l-.7-.9l-.7 .5l-.7 .1l-.7 .3l-.7-.1l-.7 .1l-.7-.2l-.7 .7l-.7 0l-.7 .1l-.7 1.4l-.7-.8l-.7-.3l-.7 1l-.7-.5l-.7 .7l-.7-.5l-.7 .3l-.7-.2l-.7 .8l-.7-.3l-.7-.5l-.7 .6l-.7-.5l-.7 .1l-.7 .8l-.7-.7l-.7-.2l-.7 .8l-.7-.3l-.7 .7l-.7-.8l-.7 .1l-.7 .9l-.7 .2l-.7 .3l-.7-.2l-.7 .3l-.7-.6l-.7 .6l-.7-.7l-.7 .6l-.7-.1l-.7-.3l-.7 .2l-.7 .4l-.7 1.2l-.7-1.1l-.7 .7l-.7-.1l-.7-.3l-.7 .5l-.7 .4l-.7-.6l-.7 1.3l-.7 1.5l-.7-1.4l-.7-.3l-.7-.2l-.7 .9l-.7 .5l-.7-.4l-.7-.7l-.7 .7l-.7-.7l-.7 .7l-.7 1.3l-.7-1.9l-.7 .7l-.7 .7l-.7-.3l-.7-.8l-.7 1.2l-.7 .8l-.7-.4l-.7-.5l-.7 1.2l-.7-1.2l-.7 1.3l-.7 .7l-.7-1.3l-.7 .5l-.7 .2l-.7 .8l-.7-.5l-.7 .5l-.7 .3l-.7 .5l-.7-.3l-.7 .8l-.7-.7l-.7 .3l-.7 .8l-.7-.7l-.7 .2l-.7-.1l-.7-.8l-.7 .6l-.7 1.1l-.7-1.3l-.7 1.7l-.7-1.5l-.7 1.2l-.7 .9l-.7-1.9l-.7 2.3l-.7-.6l-.7-.9l-.7 .5l-.7 .2l-.7 .5l-.7-.4l-.7 1.7l-.7-1.3l-.7 1.4l-.7-1.2l-.7 .8l-.7 .8l-.7-.4l-.7 1.1l-.7-.5l-.7-.1l-.7-.2l-.7 .7l-.7-.8l-.7 .4l-.7 .3l-.7 .4l-.7-.4l-.7 .1l-.7 1l-.7 .6l-.7-.9l-.7 .6l-.7 .1l-.7 0l-.7 .3l-.7 1l-.7-.1l-.7-.6l-.7 .4l-.7 1.1l-.7-.5l-.7-.2l-.7 1.1l-.7 .4l-.7-.5l-.7 .1l-.7 0l-.7 .9l-.7-.4l-.7 .7l-.7 1.9l-.7-1.8l-.7 .4l-.7 .1l-.7 .1l-.7 .7l-.7 .3l-.7 .2l-.7-.3l-.7 1.1l-.7 .2l-.7-.9l-.7 .3l-.7 .8l-.7-.7l-.7-.3l-.7 2.8l-.7-1.6l-.7 .2l-.7-.3l-.7 .7l-.7 .3l-.7 .6l-.7 .4l-.7-.8l-.7 2.5l-.7-1.1l-.7-.5l-.7 .4l-.7-.5l-.7 .5l-.7 .7l-.7-1l-.7 .1l-.7 .6l-.7-.2l-.7 .5l-.7-.2l-.7-.6l-.7 .3l-.7 1.4l-.7-.6l-.7 .7l-.7-.9l-.7-.4l-.7 .7l-.7 .1l-.7 .9l-.7-1.1l-.7 0l-.7 .7l-.7 .4l-.7 .8l-.7 .6l-.7-.8l-.7-.4l-.7 0l-.7-.1l-.7 .6l-.7 .8l-.7 0l-.7 .6l-.7-.9l-.7 1.2l-.7-1.4l-.7 .6l-.7-.7l-.7 .6l-.7 .5l-.7-.1l-.7-.5l-.7 .5l-.7-.1l-.7 0l-.7 .9l-.7-.8l-.7 .4l-.7-.3z" fill="#228b22" stroke="none"/>
<line x1="158.3" y1="429.8" x2="750.2" y2="312.0" stroke="#228b22" stroke-width="2.4"/>
<path d="M157.8 427.9l.7 0l.7 .1l.7-.2l.7-.2l.7-.3l.7 0l.7-.4l.7 .2l.7-.1l.7-.2l.7-.3l.7 .1l.7-.2l.7-.4l.7 .2l.7-.6l.7 .1l.7 .6l.7-.4l.7-.5l.7 .7l.7-.9l.7-.2l.7 .4l.7-.7l.7 .8l.7-1.9l.7 1.6l.7 0l.7-.2l.7 .1l.7 .3l.7-2.5l.7 2l.7 .2l.7-.9l.7-.1l.7-1.7l.7 1.2l.7 .3l.7 1.1l.7-1.1l.7-.3l.7 1.2l.7-1l.7 .7l.7-.2l.7 .1l.7-.5l.7-.6l.7 .7l.7 0l.7-.3l.7-2l.7 1.8l.7-1.5l.7 1.4l.7-.6l.7 .6l.7-1.7l.7 .4l.7 .5l.7-.9l.7-1.4l.7 1.7l.7-1.3l.7 1.2l.7-2l.7 .7l.7-1.7l.7 1.9l.7-.3l.7-.3l.7-.4l.7 .1l.7 .2l.7 .2l.7-1.3l.7 .7l.7 .3l.7-.6l.7 .2l.7 0l.7-1.3l.7 .5l.7-.6l.7-1.1l.7 0l.7 1.7l.7-1.5l.7-1.1l.7 2.4l.7 0l.7-.2l.7 0l.7-1.5l.7 1l.7-.3l.7-.7l.7-.5l.7-.1l.7-.6l.7 .9l.7-.5l.7-.2l.7-.1l.7-.1l.7-.2l.7 .2l.7-1l.7 .9l.7-.6l.7-.2l.7 .3l.7-.5l.7-.7l.7 .7l.7-.3l.7-.3l.7 .1l.7-.5l.7-.9l.7-.7l.7 .7l.7-1.1l.7 1.2l.7-2.1l.7 1.4l.7 0l.7 .5l.7-.2l.7-.2l.7-.5l.7 .6l.7-.4l.7-1.9l.7 .8l.7 .2l.7 .5l.7-1l.7 .7l.7-.9l.7 0l.7-.9l.7 1l.7-.4l.7-.6l.7 .9l.7-.5l.7-1.1l.7 .5l.7 .1l.7-.1l.7-1.1l.7 .6l.7-.4l.7-.8l.7-.2l.7 1.3l.7-.6l.7-.2l.7-.1l.7-.3l.7 .5l.7-.2l.7-.8l.7 .2l.7 .6l.7-.1l.7-1.3l.7 1l.7-.7l.7-.2l.7 .2l.7-1.1l.7 .5l.7 .9l.7-.5l.7 0l.7-1.2l.7 1l.7-.5l.7-.5l.7 .3l.7-.2l.7-.2l.7-.7l.7 .5l.7 .2l.7-.5l.7 .9l.7-.3l.7 .2l.7-1.1l.7 .2l.7-1.2l.7 .7l.7 .5l.7-.1l.7-.7l.7-1.3l.7 .6l.7-.6l.7 .8l.7-.1l.7 0l.7-.8l.7 .4l.7-1.5l.7 .6l.7-.2l.7-.5l.7-.5l.7 .2l.7 .5l.7-1l.7 .6l.7-.2l.7-.8l.7 0l.7 .5l.7-.4l.7-.3l.7-.5l.7 .4l.7-.4l.7-.3l.7-1.1l.7 .2l.7 0l.7-.1l.7-.6l.7-.1l.7 .5l.7-.6l.7 .5l.7 0l.7-.5l.7-.2l.7-.4l.7 .4l.7-.2l.7-.5l.7-.6l.7 .2l.7 .2l.7-.4l.7-.2l.7-1l.7 1.6l.7-.2l.7-.5l.7 .2l.7-.8l.7-.3l.7 .2l.7 .1l.7-1l.7 .5l.7 0l.7-.3l.7 .8l.7-.6l.7 .3l.7-.8l.7 .1l.7-1.4l.7 .7l.7 .7l.7-.4l.7 .5l.7-1.4l.7 .3l.7 .1l.7-.2l.7 .3l.7-.7l.7 .3l.7 .6l.7-.8l.7-.2l.7 .4l.7-2.8l.7 2.2l.7-.2l.7 .2l.7-1.6l.7 .7l.7 .7l.7-.2l.7-.8l.7 .6l.7-.3l.7-.9l.7-.2l.7 .5l.7-.1l.7-.2l.7-1.1l.7 0l.7-.6l.7 1.5l.7-.2l.7-1.4l.7 1.3l.7-.8l.7 .2l.7 .5l.7-.6l.7-1.4l.7 1.5l.7-1.6l.7 1.9l.7-.1l.7-.1l.7-1.5l.7 .7l.7 .2l.7-.6l.7-.7l.7 1.1l.7 .2l.7-.9l.7-.1l.7 .4l.7-.4l.7-.9l.7 1l.7-.8l.7-.2l.7 .3l.7-1.5l.7 .5l.7-1l.7 1.2l.7 .2l.7-.9l.7 .8l.7-1l.7 .2l.7 .6l.7-.4l.7 0l.7-.2l.7 0l.7-1.3l.7 .7l.7-1l.7-.1l.7 .7l.7 .5l.7-.8l.7-.5l.7-.1l.7 .5l.7-.2l.7-.2l.7 .4l.7-.6l.7-.3l.7 0l.7 .1l.7-1.8l.7 1.3l.7-.9l.7 .4l.7-.5l.7-.6l.7 .4l.7-.8l.7 .7l.7-.3l.7-.8l.7 .7l.7-.7l.7 .8l.7-1l.7 .1l.7 .1l.7-.9l.7 .1l.7-1.1l.7 1l.7-.4l.7-.6l.7-1l.7 .1l.7 .3l.7-1l.7 .8l.7 .2l.7-.8l.7 .2l.7-.5l.7-.8l.7 .8l.7 0l.7 .1l.7-.3l.7-1.5l.7 .6l.7-.1l.7 .4l.7-.1l.7-.1l.7-1.6l.7 1.2l.7-.6l.7 .5l.7-1.4l.7 .9l.7-.2l.7-.2l.7-.2l.7-.5l.7-.3l.7 1l.7-2.1l.7 1.9l.7-.5l.7-.7l.7 .1l.7-1.2l.7 1.5l.7-.1l.7-.4l.7-.5l.7-.4l.7-.3l.7-.1l.7-.2l.7 .9l.7-1.4l.7 .2l.7-.4l.7 .1l.7 .8l.7 .4l.7-.5l.7 .1l.7-.3l.7-.7l.7-1l.7-.4l.7-.3l.7 1l.7 .7l.7 .2l.7-.7l.7-.5l.7-.4l.7 .8l.7-.7l.7 .3l.7-1.5l.7 2.2l.7-.3l.7-.2l.7 .2l.7-.2l.7-1.3l.7 1l.7 0l.7-1.1l.7-1.9l.7 1.8l.7-.2l.7 1.2l.7 0l.7-.5l.7-.6l.7 .2l.7 .1l.7 .7l.7-.1l.7-.3l.7 .2l.7-1.4l.7 .2l.7 .6l.7 0l.7 0l.7-.9l.7 .7l.7-.8l.7 .4l.7-1l.7 .2l.7-.3l.7 .7l.7-.8l.7 .1l.7-1.1l.7 .4l.7-.4l.7 .6l.7-.5l.7-.8l.7 .5l.7 .9l.7-1.4l.7 .9l.7-1.2l.7 1.2l.7 .2l.7-.6l.7-.2l.7-.2l.7-.4l.7 .9l.7-1l.7 .2l.7 .1l.7-.9l.7 1.1l.7-1.8l.7-.4l.7 1.3l.7-.1l.7-.6l.7 .5l.7-1.1l.7-.3l.7 .7l.7-.4l.7 .3l.7-.6l.7 .6l.7-1l.7-1.1l.7 1.5l.7-1l.7-.1l.7 .2l.7 .3l.7-1l.7-.4l.7 1.3l.7-.1l.7-.6l.7 .1l.7-1.8l.7 2.1l.7-1l.7 1.1l.7-.8l.7-.1l.7 .8l.7-.3l.7 0l.7-.8l.7 .6l.7-.4l.7 .3l.7 .5l.7-1.5l.7 1.1l.7 0l.7-.5l.7 .5l.7-.9l.7-.4l.7 1.1l.7-.1l.7 .1l.7 .3l.7-.8l.7-.1l.7-.4l.7-.9l.7 .9l.7 0l.7-.4l.7-.9l.7 .8l.7-.6l.7 .5l.7-.9l.7-.1l.7-.1l.7 .4l.7-.8l.7 .6l.7-.1l.7-.3l.7-.3l.7 .3l.7-1.1l.7-.3l.7-.2l.7-.4l.7 .6l.7 0l.7-.3l.7 0l.7 .3l.7-1.2l.7 .1l.7-1l.7 .8l.7-1.2l.7 1.1l.7-.5l.7-.2l.7-.2l.7 .3l.7-.8l.7-.6l.7 .7l.7-1.1l.7-.2l.7 .4l.7-1.1l.7 .7l.7-.4l.7 .4l.7-1.5l.7-.7l.7 .6l.7-.2l.7 .6l.7 0l.7-2l.7 2l.7-.8l.7-.6l.7 .7l.7 0l.7-1l.7-.7l.7 .9l.7-.7l.7-.9l.7 .9l.7-.5l.7-.1l.7-.5l.7-.4l.7-.3l.7 .8l.7-.3l.7-.3l.7 .4l.7-1.6l.7 1.4l.7-1.2l.7 .6l.7-1.1l.7 1.3l.7-.9l.7 .5l.7-.3l.7 .5l.7-.5l.7-.4l.7 .3l.7 .8l.7-.4l.7-.3l.7-.6l.7 .1l.7-1.1l.7 .2l.7 .5l.7-.3l.7 .1l.7-.1l.7-.5l.7-.6l.7 .7l.7-.6l.7 .3l.7-.2l.7 0l.7-.3l.7-1.2l.7 .8l.7-.4l.7-1.8l.7 .1l.7 .6l.7-.2l.7 .4l.7-.8l.7-.8l.7 1.3l.7-.7l.7 .1l.7-.6l.7 .8l.7-.1l.7 0l.7-2.6l.7 .2l.7 2.1l.7-.9l.7 .3l.7 .5l.7-.3l.7-.9l.7-.2l.7-.6l.7 .9l.7-.2l.7 .3l.7-1.3l.7 1.1l.7-.4l.7-.9l.7 .8l.7 .2l.7-.1l.7-1.4l.7 1.4l.7-.7l.7-1.5l.7 .8l.7-1.3l.7 .4l.7-1.4l.7-1.3l.7 .2l.7-.2l.7-1l.7 .3l.7 .6l.7-.6l.7 .5l.7-1.2l.7 .6l.7 .2l.7-1.1l.7 1.6l.7-.8l.7 .4l.7-.5l.7-1.6l.7 1.1l.7 .4l.7-.4l.7-.4l.7-.3l.7-.7l.7 .5l.7-.1l.7 .6l.7-1.3l.7 .2l.7-1.5l.7 1.6l.7 .3l.7-1.4l.7 1l.7 .5l.7-.6l.7 .2l.7-.9l.7 .6l.7-.2l.7-.7l.7 .7l.7-1.3l.7 .3l.7 .2l.7-.3l.7-.5l.7-1.7l.7 .9l.7-1.5l.7 1.7l.7-.8l.7-1.4l.7 1.5l.7-.8l.7 .5l.7-.1l.7-.1l.7-.6l.7-.6l.7 .1l.7-.6l.7-.3l.7 .4l.7-1.9l.7 .3l.7 1.1l.7-.1l.7-.6l.7 0l.7-.8l.7-.8l.7 1.8l.7-.2l.7-.4l.7-.7l.7 .1l.7 .1l.7 .4l.7 .1l.7-.1l.7-.1l.7 .2l.7 .4l.7-.1l.7-.5l.7-.3l.7 .7l.7-1.3l.7 .8l.7 .2l.7 .6l.7-.4l.7 .7l.7 0l.7-.9l.7 .6l.7-.3l.7-.1l.7 .9l.7-.2l.7-1.3l.7 1.1l.7-.5l.7-1l.7 .5l.7 .3l.7-.3l.7-.5l.7 .8l.7-.3l.7-.5l.7-1.2l.7 .4l.7 1.1l.7-1.2l.7 .6l.7 .1l.7-.3l.7-1.3l.7 .9l.7 .5l.7-.1l.7-.1l.7 .2l.7-.3l.7-1.2l.7 .1l0 7.3l-.7 .5l-.7-.4l-.7 1.5l-.7 0l-.7-.3l-.7 .1l-.7 .1l-.7 .1l-.7 .4l-.7-1.1l-.7 .4l-.7 .2l-.7 0l-.7 0l-.7 .2l-.7-.2l-.7-.2l-.7 1.2l-.7-.5l-.7 .6l-.7 0l-.7-.4l-.7 0l-.7 .7l-.7 1.1l-.7 .4l-.7-1.4l-.7-.1l-.7 .2l-.7 .3l-.7-.7l-.7 1l-.7-1.2l-.7-.2l-.7 1.5l-.7-.9l-.7 .8l-.7-.2l-.7 .6l-.7-1.5l-.7-.1l-.7-.2l-.7 .6l-.7-.8l-.7 .6l-.7-1l-.7 .4l-.7 .3l-.7-.7l-.7 .2l-.7 1.2l-.7-.9l-.7 2l-.7-.8l-.7-.6l-.7 .1l-.7-.1l-.7-.3l-.7 1l-.7-.2l-.7 1.4l-.7-.6l-.7-.7l-.7 .1l-.7 .6l-.7 1.5l-.7-1.2l-.7 .6l-.7 0l-.7 .2l-.7 .2l-.7 1.4l-.7-.9l-.7 .1l-.7 .2l-.7 .7l-.7 .6l-.7-.6l-.7 .1l-.7 1l-.7 0l-.7 .1l-.7-.3l-.7 1.3l-.7-1.3l-.7 .4l-.7 1l-.7 .2l-.7-.4l-.7 0l-.7 0l-.7 .9l-.7-.6l-.7 1l-.7-.4l-.7 .7l-.7-.5l-.7-.2l-.7 0l-.7 2.2l-.7-1.3l-.7-.8l-.7-.2l-.7 .4l-.7 0l-.7 .2l-.7 1l-.7-.5l-.7 .2l-.7-.1l-.7 .8l-.7-.2l-.7-.1l-.7 1.1l-.7 .3l-.7 .2l-.7-1.3l-.7 1.1l-.7 .3l-.7-.6l-.7 .3l-.7-1l-.7 .6l-.7 .3l-.7 .6l-.7 0l-.7 .7l-.7 .8l-.7-.3l-.7 .5l-.7 .6l-.7 .7l-.7 1.7l-.7-.8l-.7 .5l-.7 .2l-.7-.7l-.7 1.3l-.7-.6l-.7 .2l-.7-.4l-.7 .7l-.7 .1l-.7-1.1l-.7 .7l-.7 .8l-.7-.8l-.7 .5l-.7-.3l-.7-.3l-.7 .2l-.7 .5l-.7-.2l-.7 1l-.7-.9l-.7-.2l-.7 .4l-.7 1.3l-.7-1l-.7 1.2l-.7-.3l-.7-.1l-.7 1.5l-.7-2l-.7 .1l-.7 1.3l-.7-.8l-.7 1.1l-.7 1.8l-.7-1.4l-.7-.5l-.7 .1l-.7 .8l-.7 .9l-.7-.4l-.7 0l-.7-.1l-.7-.2l-.7 .3l-.7 1l-.7-.9l-.7 .6l-.7 .7l-.7-1.1l-.7 0l-.7 .9l-.7 .8l-.7 .2l-.7-.1l-.7 .6l-.7-.3l-.7 .2l-.7 1l-.7-1.6l-.7-.1l-.7 .7l-.7-.2l-.7-.4l-.7-.3l-.7 .5l-.7-.1l-.7 0l-.7 1.4l-.7-.8l-.7 0l-.7 .6l-.7 .1l-.7-.6l-.7 .2l-.7 .6l-.7-.4l-.7 .5l-.7 2.1l-.7-1.7l-.7 .3l-.7 .1l-.7 .3l-.7 .8l-.7-.1l-.7 1.1l-.7 .4l-.7-1.1l-.7 .5l-.7 0l-.7 1.7l-.7 .4l-.7-1.5l-.7 1.4l-.7-1.7l-.7 1.1l-.7-.4l-.7-.6l-.7 .2l-.7 1.5l-.7 .2l-.7-.7l-.7 .7l-.7 .9l-.7-.5l-.7-.3l-.7 .1l-.7 .4l-.7 1.8l-.7-1l-.7-.2l-.7 1.9l-.7-1.6l-.7 .9l-.7-.4l-.7 .4l-.7 .1l-.7 .4l-.7 0l-.7 .4l-.7 1.2l-.7-.9l-.7 .1l-.7 .1l-.7 .4l-.7 2l-.7-1.3l-.7 .1l-.7 .9l-.7-1.4l-.7 .4l-.7 1l-.7-.7l-.7 .1l-.7 .7l-.7-1l-.7 .6l-.7 1.5l-.7-1l-.7 .1l-.7-.1l-.7 .4l-.7 1l-.7-1l-.7-.2l-.7 1.9l-.7-1.1l-.7 .5l-.7 .6l-.7-.4l-.7-.9l-.7 1.7l-.7-1.7l-.7 .8l-.7-.4l-.7 .3l-.7-.2l-.7 .1l-.7-.1l-.7 .5l-.7-.2l-.7-.3l-.7 .9l-.7-.7l-.7-.2l-.7 .8l-.7-1.1l-.7 .8l-.7 .8l-.7-.8l-.7 .3l-.7-.6l-.7 .4l-.7-.2l-.7 .4l-.7-.5l-.7 .5l-.7 .5l-.7-.6l-.7 1.3l-.7-1.2l-.7 .6l-.7 .2l-.7-.4l-.7 .3l-.7 1.1l-.7-.9l-.7 1.2l-.7 .2l-.7-.8l-.7-.4l-.7 2.4l-.7-.9l-.7 0l-.7-.2l-.7 .4l-.7-.3l-.7 1.1l-.7-.2l-.7-.6l-.7 .4l-.7 .4l-.7-.2l-.7 1.6l-.7-1.5l-.7 .1l-.7-.3l-.7 2.2l-.7-1.2l-.7 .7l-.7-.7l-.7-.1l-.7 .1l-.7 .2l-.7 .6l-.7-1l-.7 .7l-.7 .6l-.7-.9l-.7 1.6l-.7-1.5l-.7 .8l-.7 .9l-.7-1.1l-.7 .2l-.7 .1l-.7 .1l-.7 .9l-.7 .3l-.7 .4l-.7-.8l-.7-.1l-.7 .9l-.7 .2l-.7-.7l-.7 1.4l-.7-.4l-.7-1l-.7 .1l-.7-.3l-.7 1.2l-.7-.5l-.7-.3l-.7 .3l-.7 .2l-.7-.2l-.7 .7l-.7 .1l-.7-.1l-.7-.5l-.7 1.1l-.7-1.1l-.7 .5l-.7-.3l-.7 1.4l-.7-1.4l-.7 .5l-.7 0l-.7 .2l-.7-.5l-.7 .1l-.7 1.1l-.7 .9l-.7-.6l-.7-.8l-.7 0l-.7 .2l-.7 .3l-.7 0l-.7 1.2l-.7-.5l-.7-.2l-.7 1.2l-.7-1.2l-.7 .4l-.7 .9l-.7 1l-.7-2.4l-.7 .7l-.7-.1l-.7 1.7l-.7-.2l-.7-.6l-.7 1l-.7-1.2l-.7 .4l-.7-.2l-.7 .3l-.7 .3l-.7-.2l-.7 1.5l-.7-1.6l-.7 2.3l-.7-.6l-.7-.6l-.7 .6l-.7-.9l-.7 1.1l-.7-1l-.7 .7l-.7-.6l-.7 .8l-.7 1l-.7 .1l-.7-1.3l-.7 .1l-.7 1.7l-.7-.6l-.7 .3l-.7-.8l-.7 1l-.7 .8l-.7-.9l-.7 .4l-.7 .6l-.7 .7l-.7-1l-.7-.2l-.7 .5l-.7 .9l-.7-.8l-.7 .4l-.7 .2l-.7-.1l-.7 .9l-.7-.4l-.7 .1l-.7 1.2l-.7-.8l-.7 1l-.7-.3l-.7-.1l-.7 .6l-.7 .9l-.7-.2l-.7 1.6l-.7-1.3l-.7 0l-.7 .6l-.7-.4l-.7 1.6l-.7-1.4l-.7 .2l-.7 .2l-.7 .1l-.7 1.4l-.7-1l-.7 .5l-.7 .1l-.7 .6l-.7 0l-.7 0l-.7-.1l-.7 .5l-.7 .7l-.7-.4l-.7 .9l-.7-.9l-.7 .7l-.7-1.1l-.7 1.1l-.7-.1l-.7-.4l-.7 .2l-.7 .4l-.7 0l-.7 .8l-.7-.2l-.7 .9l-.7-.9l-.7 .4l-.7 .4l-.7-.3l-.7 .6l-.7-.4l-.7 1l-.7-1.4l-.7 1.8l-.7-1.1l-.7-.6l-.7 1.4l-.7-.7l-.7 1.6l-.7 .4l-.7-1.1l-.7 .6l-.7-.5l-.7 .1l-.7 0l-.7 1.5l-.7 .7l-.7 0l-.7-1.6l-.7-.2l-.7 .7l-.7 .3l-.7 .3l-.7-.2l-.7 .4l-.7-.7l-.7 .6l-.7 .3l-.7 0l-.7-.3l-.7 0l-.7 .3l-.7 0l-.7 0l-.7-.6l-.7 2l-.7-.9l-.7 1.1l-.7-1.1l-.7 0l-.7 .1l-.7-.6l-.7 .4l-.7 .6l-.7 .1l-.7-.4l-.7 0l-.7 1.1l-.7-.3l-.7 .3l-.7-.3l-.7 1.3l-.7-.1l-.7-1l-.7 .5l-.7 .9l-.7-.1l-.7 1.1l-.7-1.4l-.7 .5l-.7 .3l-.7 0l-.7-.2l-.7-.1l-.7 .5l-.7 .1l-.7 .8l-.7-.5l-.7-.3l-.7 1.1l-.7 .2l-.7-1.4l-.7 1l-.7-.2l-.7 .6l-.7-.9l-.7 0l-.7 .3l-.7-.2l-.7 1.7l-.7-1.4l-.7 .1l-.7 .3l-.7 .7l-.7-.3l-.7 .7l-.7-.3l-.7 .9l-.7-1l-.7 0l-.7 .4l-.7 .1l-.7 .1l-.7-.1l-.7 .5l-.7 .3l-.7 .5l-.7-.4l-.7 0l-.7 .7l-.7 .4l-.7 .5l-.7 .7l-.7-1.9l-.7 .2l-.7 .4l-.7 .1l-.7 .6l-.7-.5l-.7-.4l-.7 .5l-.7 .3l-.7 1.7l-.7-1l-.7 0l-.7 .9l-.7-.1l-.7 0l-.7 .4l-.7-.4l-.7 .4l-.7 .1l-.7 .1l-.7 .2l-.7 0l-.7 0l-.7 .1l-.7 .7l-.7 .7l-.7 .3l-.7 .4l-.7-.7l-.7 .9l-.7-.3l-.7 .7l-.7-.4l-.7 1.9l-.7-1.5l-.7 .1l-.7 .4l-.7 .3l-.7 .6l-.7-.7l-.7 .4l-.7 .2l-.7-.3l-.7 1.3l-.7 0l-.7 .1l-.7-.4l-.7-.2l-.7 .3l-.7 .5l-.7-.7l-.7 1.4l-.7-2l-.7 .9l-.7-.3l-.7 .1l-.7 1.2l-.7-.2l-.7-.2l-.7 0l-.7 .2l-.7-.1l-.7 .5l-.7 .6l-.7-.3l-.7 0l-.7-.3l-.7 2l-.7-1.6l-.7 .2l-.7 0l-.7-.2l-.7 .4l-.7 .2l-.7 1.2l-.7-.2l-.7-.6l-.7 1l-.7-1.1l-.7 .2l-.7 .8l-.7-.1l-.7 1l-.7 .4l-.7-1.6l-.7 .6l-.7 .2l-.7-.1l-.7 0l-.7 .9l-.7 .1l-.7-.3l-.7 2l-.7-1.7l-.7 .3l-.7 1l-.7-.7l-.7 1.1l-.7-1.4l-.7 1.8l-.7-.7l-.7-.2l-.7-.1l-.7 .7l-.7 .5l-.7 .6l-.7-.8l-.7-.5l-.7 .8l-.7-.7l-.7 .3l-.7 .4l-.7 .3l-.7 .1l-.7 .8l-.7-.5l-.7 0l-.7 .8l-.7-.2l-.7 .1l-.7-.1l-.7 .7l-.7-.4l-.7 .9l-.7 1l-.7-.7l-.7-.3l-.7 .7l-.7 1l-.7-.6l-.7-.6l-.7 0l-.7 .8l-.7-.3l-.7-.1l-.7 .7l-.7-.3l-.7 .7l-.7-.5l-.7 .9l-.7 1.2l-.7-1.3l-.7 2l-.7-1.7l-.7 .3l-.7-.3l-.7 .1l-.7-.1l-.7 1.9l-.7-.6l-.7-.7l-.7 .7l-.7-.5l-.7 1.1l-.7 .8l-.7-1l-.7-.2l-.7 .3l-.7-.4l-.7 1l-.7-.4l-.7 1.1l-.7-1.1l-.7 1.2l-.7 1l-.7-1.8l-.7 .4l-.7 1.1l-.7 .2l-.7-.1l-.7-.4l-.7 0l-.7 .4l-.7 0l-.7 1l-.7 .1l-.7-.1l-.7 .4l-.7 .1l-.7 .6l-.7-.5l-.7 .1l-.7 .2l-.7-.7l-.7 .6l-.7 .5l-.7-.5l-.7 .4l-.7 .4l-.7 .2l-.7-.3l-.7 .7l-.7 .1l-.7-1.2l-.7 .3l-.7 .5l-.7-.3l-.7-.7l-.7 1.2l-.7-.4l-.7-.3l-.7 0l-.7 .9l-.7-.4l-.7-.3l-.7 1.6l-.7-.6l-.7-.3l-.7-.5l-.7 .9l-.7-.1l-.7-.4l-.7 2.6l-.7-2.6l-.7-.1l-.7 .3l-.7 0l-.7 .3l-.7 .4l-.7 .3l-.7-.7l-.7 .4l-.7 .1l-.7-.8l-.7 .6l-.7 .6l-.7-.9l-.7 .8l-.7 .5l-.7-1.2l-.7 .6l-.7-.2l-.7 0l-.7 0l-.7 .3l-.7-.1z" fill="#0000ff" stroke="none"/>
<line x1="158.3" y1="431.5" x2="750.2" y2="324.5" stroke="#0000ff" stroke-width="2.4"/>
<path d="M157.8 428.6l.7 0l.7-.2l.7-.1l.7 .4l.7-.7l.7 .8l.7-1l.7 .7l.7-.1l.7 .1l.7-1.4l.7 .5l.7 .3l.7-.3l.7-.4l.7-.5l.7 .9l.7-.5l.7 .5l.7-2.3l.7 2.5l.7-.3l.7-.3l.7 0l.7 0l.7-1.7l.7 1.4l.7-.7l.7-2.2l.7 2.4l.7 .6l.7-.8l.7 .3l.7-1.2l.7 1.6l.7-.6l.7 .7l.7-1l.7 1l.7-.8l.7-.1l.7 .6l.7-2.3l.7 1.5l.7-.6l.7 1.4l.7-.6l.7-.1l.7 .5l.7-1.3l.7-.5l.7 .9l.7 .5l.7-.5l.7-1l.7-.5l.7 1.3l.7-.4l.7 .2l.7 0l.7 0l.7-.1l.7 .4l.7-.2l.7 .5l.7 0l.7-.2l.7-.3l.7-.4l.7 .7l.7-.3l.7 .1l.7 .6l.7-.2l.7-.3l.7 .1l.7-.5l.7-.2l.7-.5l.7-.3l.7 .8l.7-.2l.7-.2l.7-.1l.7 .1l.7-.7l.7 .7l.7 .1l.7 .1l.7-1.7l.7 1.2l.7 .1l.7-2.1l.7 .9l.7-.3l.7 .9l.7 .3l.7 0l.7-1.4l.7 .4l.7 1l.7-.2l.7-1.4l.7 1.1l.7 .5l.7 0l.7-1l.7 .5l.7 0l.7-.6l.7 0l.7 0l.7 .5l.7-.6l.7-.1l.7-.7l.7 .9l.7-.1l.7-.4l.7-.5l.7 .7l.7-1l.7 .3l.7-.3l.7 .5l.7-2l.7 1l.7-.9l.7 .1l.7 .2l.7-.2l.7 .1l.7 1.1l.7-1.5l.7-.7l.7 1.9l.7-.2l.7-2l.7 1.5l.7-.3l.7-.2l.7-.4l.7 .3l.7-.5l.7 .4l.7-.4l.7 .3l.7 .7l.7-.4l.7 .4l.7 0l.7-.9l.7 .2l.7-.5l.7 1.1l.7-.2l.7-1.1l.7 .5l.7-.7l.7-.2l.7 .8l.7-1.4l.7 0l.7-.2l.7 0l.7-.4l.7 1.6l.7-.5l.7-.2l.7 .1l.7-1.8l.7 1.9l.7-.8l.7 .4l.7 0l.7-.6l.7 .4l.7 0l.7 .1l.7-.4l.7-.3l.7-.1l.7 .8l.7-.2l.7-.3l.7-.4l.7 .3l.7 .2l.7-1.1l.7 .3l.7-1.1l.7 1.1l.7-.1l.7-.3l.7-1.7l.7-.8l.7 2.7l.7-.7l.7 .5l.7-1l.7-.2l.7 1.3l.7-.3l.7-1.5l.7 1.2l.7-1.6l.7 1.1l.7 .6l.7-1l.7-1l.7 2.1l.7 0l.7-1.4l.7 .8l.7 .1l.7-.6l.7 .5l.7 .2l.7-.4l.7 .6l.7 .1l.7-.9l.7 0l.7-1.5l.7 2.2l.7-.9l.7-.2l.7-.4l.7 .1l.7 .8l.7-.9l.7 1.2l.7-1.3l.7 1.7l.7-.1l.7-1l.7 .4l.7 .4l.7 .1l.7-1.5l.7 1.4l.7-.2l.7 .8l.7-.6l.7 .5l.7 .1l.7-.6l.7-.1l.7-.4l.7-.3l.7 1.2l.7-.5l.7-1.2l.7 .6l.7-.4l.7-.5l.7 1l.7 .2l.7-1l.7 .7l.7-1.4l.7 .6l.7 .2l.7 .2l.7 0l.7 0l.7-.4l.7-.4l.7 .7l.7 .2l.7-.2l.7-.4l.7 .2l.7-.8l.7 .6l.7 .2l.7-.3l.7 .1l.7-.7l.7 .1l.7 .1l.7 .2l.7-.1l.7 .1l.7-.1l.7-.7l.7-.4l.7 .6l.7 .2l.7-.1l.7-1.7l.7 1.2l.7-.7l.7 .8l.7-.9l.7 0l.7 .9l.7-.8l.7 .5l.7-.4l.7-.3l.7-.2l.7 .1l.7-.1l.7-.2l.7 .6l.7-.2l.7 0l.7-1.5l.7 1.4l.7-1.2l.7 .9l.7-1.3l.7 1.2l.7 .2l.7-2.1l.7 .7l.7 1.3l.7-.2l.7-1l.7-.1l.7 .8l.7-.1l.7-.1l.7 .1l.7-.3l.7-.5l.7 0l.7-.4l.7 .9l.7-.6l.7-.6l.7 .5l.7-.2l.7 .4l.7-.2l.7-.5l.7 .8l.7-.2l.7-.4l.7-.1l.7 .4l.7-.7l.7-.2l.7 .4l.7-.3l.7-1.3l.7 .6l.7 .4l.7 .4l.7-2.2l.7 2.7l.7-1.3l.7-.4l.7 .4l.7-.1l.7 .6l.7 .5l.7-1l.7 .5l.7-1.1l.7 .7l.7-.2l.7-2.1l.7 2.1l.7 .4l.7-.1l.7-.2l.7-1l.7 .1l.7 .7l.7-.8l.7 .8l.7-1.9l.7 1.1l.7 0l.7 .4l.7 0l.7-.1l.7-.4l.7 .6l.7-.3l.7 .2l.7-.4l.7-.1l.7 .4l.7 .1l.7-1.2l.7-1l.7 1.3l.7-1.1l.7 1.5l.7 .5l.7-.4l.7-.7l.7 0l.7 .6l.7-.6l.7 .1l.7-1.2l.7 .7l.7-2.3l.7 2.5l.7-1.4l.7 .8l.7 .5l.7-.1l.7-1.1l.7-.1l.7 1l.7-2.4l.7 2.2l.7-1.7l.7-.2l.7 .2l.7-.8l.7 1.6l.7-.4l.7-1.1l.7 .2l.7 .1l.7-.1l.7 .8l.7-.9l.7-.4l.7 1.4l.7-2.1l.7 1.6l.7-.2l.7-.2l.7 .7l.7-.9l.7-.2l.7 1.3l.7 .2l.7-.8l.7 .4l.7-.8l.7 .5l.7-.5l.7 .9l.7-.2l.7-.3l.7 .8l.7-.5l.7-.7l.7-.1l.7 .3l.7 .4l.7-.4l.7 .6l.7-1.6l.7 1.3l.7-.4l.7-.1l.7-2.2l.7 2.6l.7 .6l.7-1.6l.7 1.4l.7-2l.7 1.7l.7 .1l.7 0l.7-1l.7-.4l.7 .5l.7 .4l.7-1.1l.7-.5l.7 .7l.7-.6l.7 .6l.7 0l.7 .2l.7-.4l.7 .4l.7 0l.7-.1l.7 0l.7-2.5l.7 .4l.7 1.6l.7-.7l.7 .1l.7-.7l.7 .7l.7-.6l.7-.2l.7 .7l.7-.8l.7-.1l.7-1.9l.7 1.4l.7 .9l.7-.7l.7 0l.7 .2l.7-.4l.7-.3l.7 1.1l.7-1.6l.7 .9l.7-.3l.7-1.9l.7 1.7l.7 .4l.7-.7l.7-.7l.7 .5l.7 .5l.7 0l.7-.3l.7 0l.7 .4l.7-.2l.7 .3l.7-.1l.7-1.3l.7 .1l.7 .6l.7-.7l.7 .1l.7 .1l.7-.2l.7 0l.7 1l.7-.1l.7-.3l.7-.7l.7 .3l.7 0l.7-.6l.7-.9l.7 .5l.7 1l.7-.1l.7-.2l.7-.8l.7 .5l.7-.7l.7 .6l.7-.1l.7 .2l.7-.2l.7-.6l.7-.7l.7 1.5l.7-.1l.7-1.5l.7 .8l.7 .5l.7-.8l.7 1l.7-.3l.7-.4l.7 .1l.7 .2l.7-.5l.7 .1l.7 .7l.7-.6l.7 .6l.7 .3l.7-.5l.7-1.5l.7 1.2l.7-1.7l.7 2.4l.7-.2l.7-.3l.7-1.2l.7 .3l.7-.7l.7 .8l.7 .2l.7-1l.7-.5l.7 1l.7-.9l.7-.3l.7 .1l.7-.2l.7-.2l.7 .9l.7-1.5l.7-.1l.7 .3l.7-.1l.7 .6l.7 .9l.7-.5l.7 0l.7 .3l.7 .1l.7 .1l.7-.3l.7 0l.7-1.2l.7 .5l.7 .6l.7-1.1l.7 .6l.7 .4l.7-.5l.7-.7l.7-.1l.7 .3l.7 .8l.7-.2l.7 .2l.7-.9l.7 .8l.7-.4l.7 .6l.7-1l.7-1l.7 1.7l.7-1.1l.7 1.2l.7-1.1l.7 .7l.7 .4l.7-.7l.7 .1l.7 .8l.7-2l.7 1.2l.7 .6l.7-1l.7 1.1l.7-1.5l.7 .7l.7 .4l.7 .1l.7-.4l.7-.3l.7 .4l.7-1.1l.7 .4l.7 .4l.7-.1l.7-.5l.7-.3l.7-1.6l.7 .4l.7 1.1l.7 .2l.7-.6l.7 .1l.7 .1l.7 .3l.7-.3l.7 .2l.7 .1l.7-1.8l.7 1l.7 0l.7 .8l.7-1.1l.7 .6l.7-.3l.7 .6l.7 0l.7-.9l.7 .6l.7-.4l.7 0l.7-.8l.7 1.2l.7-1.2l.7 .9l.7 .8l.7-1.3l.7 .9l.7-.4l.7 .3l.7-1.3l.7 1.2l.7 .4l.7-1.8l.7 .9l.7 .4l.7-.5l.7 .8l.7-.4l.7 .5l.7-.5l.7-1.2l.7 .7l.7 .7l.7-.7l.7 .7l.7-1.1l.7 .4l.7 0l.7-.5l.7 .5l.7-.2l.7-.1l.7-1.1l.7 0l.7 .3l.7 .1l.7-.3l.7-.8l.7 1.2l.7-1l.7 .1l.7 .5l.7-.2l.7-.1l.7 .3l.7-1.3l.7 .8l.7-.9l.7 .8l.7-.2l.7-.4l.7-.7l.7 .8l.7-.6l.7 .3l.7-1.4l.7 .7l.7 0l.7-.3l.7 .3l.7-.2l.7-1.1l.7 .4l.7 .2l.7-.9l.7 .3l.7-.1l.7-.6l.7-1.3l.7 1.3l.7-.4l.7 .3l.7 .3l.7-1.4l.7 1.1l.7-.1l.7-1.6l.7 0l.7 .1l.7 .1l.7 .3l.7-.8l.7 .5l.7 .1l.7 .8l.7 .1l.7 .1l.7-.8l.7-.1l.7 .8l.7 .1l.7-.3l.7 .3l.7-.9l.7-1l.7 1.6l.7-.1l.7-.5l.7-.1l.7 .3l.7-1.2l.7 .9l.7 0l.7-.4l.7-.4l.7 .7l.7-1.5l.7 1.4l.7-.5l.7-.6l.7 .7l.7-1.2l.7-1.5l.7 1.9l.7-.1l.7-.1l.7-.7l.7 1.1l.7-.1l.7-.2l.7 0l.7-1l.7 .9l.7 .1l.7-.7l.7 .6l.7 .1l.7-.9l.7-.7l.7 .9l.7 .5l.7 .1l.7-1.1l.7 .3l.7 .9l.7-.7l.7 .1l.7 .1l.7-.3l.7 .5l.7-.5l.7 .1l.7-.5l.7-.5l.7 .7l.7-.3l.7 .7l.7-.8l.7 1l.7-.2l.7-1.6l.7 .3l.7 1.1l.7 .1l.7 0l.7-.6l.7-.2l.7 .8l.7-.4l.7 .2l.7 .7l.7-1.1l.7 .9l.7-.8l.7 .4l.7-.1l.7 .2l.7 0l.7-1.1l.7 .1l.7 .7l.7 .2l.7-.3l.7 0l.7-.8l.7 .4l.7 .1l.7 .4l.7-.2l0 8.7l-.7-.7l-.7 .2l-.7-.3l-.7-1l-.7-.4l-.7 2.1l-.7-.5l-.7-.3l-.7 .2l-.7-.3l-.7 .5l-.7-.9l-.7 .1l-.7 .1l-.7-.3l-.7 2l-.7-2.1l-.7 .4l-.7 .3l-.7 .6l-.7-1.6l-.7 .2l-.7 0l-.7 .2l-.7 1.4l-.7-1.1l-.7 .4l-.7-.4l-.7 1.2l-.7-1.1l-.7 .1l-.7-.1l-.7 .2l-.7-.8l-.7 .1l-.7 1.2l-.7-.4l-.7-.4l-.7 .6l-.7 1.1l-.7-.5l-.7-.4l-.7-.4l-.7-.5l-.7-.2l-.7 .3l-.7-.2l-.7 .6l-.7 .3l-.7-.1l-.7 0l-.7 .4l-.7-.4l-.7-.2l-.7 .1l-.7 .9l-.7-.3l-.7-.1l-.7-.1l-.7 .6l-.7-.4l-.7 0l-.7-.6l-.7 .2l-.7 .6l-.7 .3l-.7-.2l-.7 .3l-.7-.2l-.7 .4l-.7-.1l-.7 .2l-.7 .5l-.7-.9l-.7 1.5l-.7-1.2l-.7 1.1l-.7-.2l-.7-.3l-.7-.4l-.7 .1l-.7 .9l-.7-.3l-.7 0l-.7-.3l-.7 .2l-.7 .2l-.7 .6l-.7-.2l-.7 1l-.7-1.3l-.7 .9l-.7-1.3l-.7 .2l-.7 .3l-.7-.9l-.7 .3l-.7 .1l-.7 .7l-.7-.4l-.7 .2l-.7 .1l-.7-.3l-.7 .1l-.7 .1l-.7 .9l-.7-.2l-.7-.3l-.7-.3l-.7 1.4l-.7-.5l-.7 .1l-.7 1.2l-.7-.7l-.7-.4l-.7 1l-.7-.3l-.7-.3l-.7 1l-.7 .2l-.7-.1l-.7 .8l-.7 .2l-.7 .4l-.7 .2l-.7-1.1l-.7 .1l-.7 .1l-.7 .1l-.7-.3l-.7 .3l-.7-.1l-.7 .9l-.7 .7l-.7-.3l-.7 .5l-.7 .9l-.7-.9l-.7 .9l-.7-.4l-.7-.4l-.7-.5l-.7 .3l-.7 .5l-.7 .3l-.7-.8l-.7 .6l-.7-.1l-.7 .2l-.7-.4l-.7 1.4l-.7-.1l-.7-1l-.7 .6l-.7 .9l-.7-.2l-.7-.1l-.7-.1l-.7-.6l-.7 .4l-.7 .4l-.7-.6l-.7 .3l-.7-.2l-.7-.1l-.7 .4l-.7 .2l-.7 .2l-.7 .8l-.7-1.9l-.7 .3l-.7 0l-.7 .6l-.7 .1l-.7 0l-.7-.5l-.7 .7l-.7 .1l-.7-.4l-.7 .3l-.7-.4l-.7 .1l-.7 .5l-.7-.9l-.7 .1l-.7 0l-.7 .5l-.7 .2l-.7-.5l-.7 0l-.7-.5l-.7 .1l-.7 1l-.7-.2l-.7-.3l-.7 1.3l-.7-1.6l-.7 .5l-.7 .6l-.7-.1l-.7-.8l-.7 .8l-.7 .8l-.7-.1l-.7-.1l-.7-.6l-.7 .1l-.7 .2l-.7-.1l-.7 .1l-.7 .1l-.7 .7l-.7 1.2l-.7-1.6l-.7-.1l-.7 2.1l-.7-1.7l-.7 .5l-.7-.4l-.7-.5l-.7 .3l-.7 .7l-.7-.5l-.7 .9l-.7-.5l-.7-.6l-.7 .5l-.7 .5l-.7-.6l-.7 1.9l-.7-2.6l-.7 .4l-.7-.2l-.7-.1l-.7 .7l-.7-.9l-.7 1.1l-.7-.3l-.7 0l-.7-.3l-.7-.2l-.7-.1l-.7 0l-.7 .1l-.7 .2l-.7 .2l-.7 .9l-.7 1.2l-.7 .8l-.7-1.2l-.7-.6l-.7-.8l-.7 2l-.7-.7l-.7-.1l-.7-.9l-.7 .3l-.7 0l-.7-.3l-.7-.1l-.7 .1l-.7 1.1l-.7-.9l-.7 .8l-.7-.5l-.7-.3l-.7 .5l-.7 .5l-.7-.7l-.7 1.4l-.7-.1l-.7 .4l-.7-1.4l-.7 .4l-.7 1.8l-.7 0l-.7-1.3l-.7 0l-.7 1.8l-.7-1.6l-.7 0l-.7 .2l-.7-.2l-.7 .6l-.7 .3l-.7 .8l-.7-1.6l-.7 .3l-.7 1.4l-.7-.9l-.7-.9l-.7-.4l-.7 .5l-.7-.4l-.7 .1l-.7 .7l-.7-.4l-.7 1l-.7-.7l-.7-.5l-.7 1.1l-.7 .5l-.7-.1l-.7-.9l-.7 1.5l-.7-1.2l-.7-.7l-.7-.2l-.7 1.5l-.7-.6l-.7-.3l-.7 .4l-.7-.2l-.7 .1l-.7 1.7l-.7-1.2l-.7 .8l-.7-.8l-.7 .4l-.7-.2l-.7-.3l-.7 1l-.7-.8l-.7 1.8l-.7-1.9l-.7 .8l-.7 .2l-.7 .5l-.7-.7l-.7-.1l-.7 1.4l-.7-1.6l-.7 .7l-.7-.5l-.7-.5l-.7 .9l-.7-.7l-.7 1l-.7 .4l-.7-1.4l-.7 1.8l-.7-1.4l-.7 1.9l-.7-.7l-.7-.9l-.7 .8l-.7-.6l-.7 .6l-.7-.9l-.7 1.3l-.7-1l-.7 1.9l-.7-1.3l-.7 .6l-.7 .4l-.7-.7l-.7-.2l-.7 .2l-.7 .7l-.7-1l-.7 2.2l-.7-1.1l-.7-.7l-.7 1.1l-.7-.3l-.7 .4l-.7 0l-.7 .1l-.7 .7l-.7 .5l-.7 0l-.7-1.5l-.7 1l-.7-.3l-.7 1l-.7-.3l-.7-.3l-.7-.6l-.7 .3l-.7 1.3l-.7-1l-.7 1l-.7-1.1l-.7-.2l-.7 1.2l-.7 .2l-.7-.4l-.7 .1l-.7 0l-.7 .7l-.7-.5l-.7-.8l-.7 .5l-.7 2.7l-.7-3.3l-.7 .1l-.7 0l-.7 .3l-.7 1.2l-.7-.9l-.7 2l-.7-1.6l-.7-.2l-.7 1.2l-.7-1l-.7-.7l-.7 1.4l-.7-1.2l-.7 .3l-.7-.1l-.7 .6l-.7-1l-.7 .4l-.7-.3l-.7 .9l-.7-.1l-.7-1l-.7 .9l-.7-.4l-.7 .8l-.7-.6l-.7-.9l-.7 1.2l-.7-.6l-.7 1.1l-.7 .1l-.7-1.6l-.7 .6l-.7 .4l-.7 .1l-.7 0l-.7 .7l-.7-.1l-.7-.2l-.7 .3l-.7 0l-.7-.5l-.7 .2l-.7 .4l-.7 1.2l-.7-.2l-.7-.3l-.7-.1l-.7 1l-.7-1.5l-.7 1.6l-.7-1.5l-.7 2.1l-.7-1.2l-.7 1.2l-.7-.7l-.7 0l-.7-.6l-.7 1.3l-.7 0l-.7-.4l-.7 .7l-.7-.2l-.7-.2l-.7-.2l-.7-.4l-.7 .7l-.7-.9l-.7 1.3l-.7-1.1l-.7 .6l-.7 .9l-.7-.8l-.7-.8l-.7-.1l-.7 2l-.7-.4l-.7-1l-.7 1.2l-.7-1.1l-.7-.3l-.7 .4l-.7-.1l-.7 1.7l-.7-1.8l-.7 .2l-.7 1.5l-.7-.7l-.7 .2l-.7-.8l-.7 .2l-.7 1.5l-.7-.8l-.7 .1l-.7-.5l-.7 .5l-.7 0l-.7 1l-.7-1.4l-.7 2.2l-.7-1.6l-.7-.3l-.7 1l-.7-1.7l-.7 1.2l-.7-.1l-.7-.4l-.7-.3l-.7 .8l-.7 .5l-.7 0l-.7 .2l-.7-.6l-.7-.1l-.7 .2l-.7 1.2l-.7-1.3l-.7-.2l-.7 .1l-.7 .2l-.7 1.2l-.7 .2l-.7-1.1l-.7 .3l-.7-.2l-.7 1.1l-.7-.9l-.7 2l-.7-2.2l-.7 .9l-.7 .1l-.7-.6l-.7 .3l-.7 .1l-.7 .1l-.7 1.7l-.7-1.1l-.7-.8l-.7 1.1l-.7 .5l-.7-1l-.7-.3l-.7 .4l-.7 .7l-.7-.4l-.7 .1l-.7 .2l-.7 1.3l-.7-.6l-.7 .3l-.7-1l-.7 .6l-.7 .5l-.7-.9l-.7 1.5l-.7-1.9l-.7 .3l-.7 0l-.7 .6l-.7 .9l-.7-1.3l-.7 1l-.7 .5l-.7-1.4l-.7 1.1l-.7-.2l-.7-.2l-.7-.2l-.7 .7l-.7-.4l-.7 .5l-.7 0l-.7 1.3l-.7-1.3l-.7 0l-.7 .3l-.7-.6l-.7 .4l-.7-.4l-.7 1.4l-.7-.6l-.7-.4l-.7 .6l-.7-.2l-.7 .3l-.7-.8l-.7 .4l-.7 1.3l-.7-1l-.7 .5l-.7 .3l-.7 .5l-.7-.6l-.7 .6l-.7-.6l-.7-.3l-.7 .2l-.7 .8l-.7-1.2l-.7 .2l-.7 .2l-.7 .1l-.7 .4l-.7-.2l-.7 .9l-.7-.1l-.7-.2l-.7 .2l-.7-.7l-.7-.1l-.7-.2l-.7 .2l-.7-.3l-.7 1.1l-.7-.8l-.7-.3l-.7-.1l-.7 .6l-.7 1.3l-.7-.8l-.7-.2l-.7-1.1l-.7 .2l-.7 .4l-.7-.3l-.7 0l-.7 .3l-.7 .1l-.7 .6l-.7-.5l-.7 1.9l-.7-.6l-.7-1l-.7-.8l-.7 .1l-.7 .1l-.7 0l-.7 .3l-.7 .1l-.7 .3l-.7 .1l-.7-.4l-.7 .8l-.7-.3l-.7-.3l-.7 .3l-.7 1.1l-.7-.1l-.7-1.6l-.7 .6l-.7-.1l-.7 0l-.7 1.3l-.7-1.1l-.7 .9l-.7-.2l-.7-.8l-.7 .2l-.7-.2l-.7 .5l-.7 .4l-.7 .5l-.7-.9l-.7 .3l-.7 .7l-.7 .1l-.7-.5l-.7 .1l-.7-.1l-.7 .8l-.7-.1l-.7-.8l-.7 1.3l-.7-.7l-.7 .7l-.7-.6l-.7 .4l-.7-.4l-.7 .4l-.7 1.5l-.7-1.6l-.7 .7l-.7-.3l-.7-.6l-.7 .4l-.7 2l-.7 .2l-.7-1.8l-.7-.2l-.7 .5l-.7 .9l-.7-.5l-.7-.4l-.7 .4l-.7 .3l-.7-.4l-.7 .5l-.7 .5l-.7-.2l-.7-.2l-.7-.3l-.7 1l-.7-.9l-.7 0l-.7 .5l-.7-.6l-.7 .5l-.7-.2l-.7 .5l-.7-.5l-.7 1.1l-.7 .2l-.7-1.2l-.7 0l-.7 .5l-.7 .6l-.7 0l-.7 .4l-.7-.5l-.7 1.1l-.7-1.7l-.7 .1l-.7 1.1l-.7-.5l-.7 1.3l-.7 .9l-.7-.9l-.7 .4l-.7-1l-.7 1l-.7 .4l-.7-.3l-.7-.1l-.7-.7l-.7-.2l-.7 1.5l-.7-1.1l-.7 .2l-.7 .1l-.7 1l-.7 1.1l-.7-1.6l-.7-.5l-.7 1.1l-.7-.2l-.7-.2l-.7 1.1l-.7-.9l-.7-.2l-.7 .7l-.7 .6l-.7-1.2l-.7 .7l-.7 .4l-.7-.9l-.7 .7l-.7 1.1l-.7-1.7l-.7 .4l-.7 0l-.7-.3l-.7 .6l-.7-.2l-.7 .6l-.7 0l-.7 .4l-.7-.9l-.7 .5l-.7-.4l-.7 .2l-.7 0l-.7 .1l-.7 .1l-.7 0l-.7 .1l-.7 .7l-.7 0l-.7-.6l-.7 .6l-.7-.2l-.7 .1l-.7 1l-.7-1l-.7 .8l-.7-.5l-.7-.3l-.7 .6l-.7 1.1l-.7-1.2l-.7-.3l-.7-.5l-.7 .1l-.7 1.3l-.7-1.3l-.7 1.3l-.7-1.1l-.7 0l-.7 .4l-.7-.4l-.7 .4l-.7 .4l-.7-.6l-.7-.1l-.7 1.4l-.7-.5l-.7 .7l-.7-.7l-.7-.5l-.7-.3l-.7 .2l-.7 0l-.7 1.9l-.7-1.2l-.7 .5l-.7-.7l-.7 1l-.7-1l-.7-.4l-.7 1l-.7-.9l-.7 1.8l-.7-.8l-.7-.4l-.7 .1l-.7 .3l-.7 .1l-.7-.5l-.7 .2l-.7 .9l-.7-1.2l-.7 .6l-.7-.4l-.7 .2l-.7 .2l-.7 .5l-.7-.6l-.7 .5l-.7 .5l-.7-1.1l-.7 2.1l-.7-1.4l-.7-.1l-.7-.2l-.7 0l-.7-.2l-.7 .6l-.7 .3l-.7-.9l-.7 .7l-.7 .3l-.7-.9l-.7-.3z" fill="#ff00ff" stroke="none"/>
<line x1="158.3" y1="432.0" x2="750.2" y2="385.5" stroke="#ff00ff" stroke-width="2.4"/>
<path d="M157.8 430.2l.7-1.3l.7 1l.7-.5l.7 .2l.7-.2l.7-.4l.7 .6l.7-.5l.7 .8l.7-.3l.7 .1l.7-.5l.7 .3l.7-1.6l.7-.3l.7 1.1l.7-.1l.7-1l.7 .6l.7-1.4l.7 1.7l.7 .3l.7-2.1l.7 0l.7 .8l.7 .7l.7 .6l.7-.4l.7 .5l.7 .1l.7-1l.7 .1l.7-.7l.7 .9l.7-.3l.7 .8l.7-.2l.7 .9l.7-1.4l.7 .6l.7-.7l.7-.1l.7 .5l.7-.5l.7 .3l.7-.3l.7-.3l.7 .7l.7-.9l.7 .5l.7 .5l.7-.8l.7-.5l.7 .3l.7-.1l.7-.2l.7 .5l.7-1.8l.7 .9l.7-1.2l.7 2.6l.7-1.4l.7 1l.7-.4l.7 .3l.7 0l.7 .1l.7-.9l.7 .1l.7-.1l.7-.1l.7 .3l.7-.5l.7 .3l.7-.2l.7-.1l.7 .1l.7-.9l.7 .3l.7 .1l.7 .5l.7-.1l.7-.1l.7-1.3l.7 1l.7-.6l.7 .2l.7-.1l.7 .1l.7 .8l.7-.9l.7 .7l.7 .3l.7-1.1l.7-.5l.7 1l.7-.1l.7-1.2l.7 .9l.7 0l.7-1.4l.7 1.8l.7-1.4l.7 .6l.7 .8l.7-1.1l.7-.3l.7 .6l.7 .9l.7-1.2l.7 0l.7 .7l.7 0l.7-.2l.7 1l.7-1l.7 .6l.7-1.4l.7 1l.7-1.5l.7 .8l.7 1.1l.7 .3l.7-.5l.7-.1l.7-1l.7-.7l.7 1l.7 .7l.7-1.4l.7 .6l.7-.4l.7 .7l.7 .3l.7-.6l.7 .6l.7-.4l.7-.8l.7 .4l.7 .2l.7 .5l.7-.2l.7-.1l.7-.5l.7 1.1l.7-.7l.7-1.9l.7 1.9l.7-.3l.7 .3l.7-.3l.7-.2l.7 1l.7-.1l.7 .2l.7 .1l.7 0l.7-1l.7 .7l.7 .1l.7-.1l.7 .2l.7 .1l.7-.8l.7 .3l.7-1.4l.7 1.4l.7-.7l.7 .5l.7-.3l.7 .5l.7 .5l.7-2.4l.7 1.8l.7-.3l.7 0l.7 .2l.7-.3l.7-1.5l.7 1.4l.7-.4l.7-.3l.7-.3l.7-.5l.7 .8l.7 .7l.7-.1l.7-1l.7 .4l.7-.3l.7-.2l.7 1l.7 0l.7-.3l.7-.1l.7-.2l.7 .2l.7-.1l.7 .5l.7-.6l.7 .7l.7 .3l.7-.2l.7 .2l.7-.6l.7-.6l.7 .8l.7 .2l.7-1.9l.7-.1l.7 2l.7 .1l.7-.4l.7-.6l.7-.3l.7 .4l.7 .3l.7-.8l.7 .5l.7-1.3l.7 .1l.7 .8l.7 .2l.7-.2l.7-.4l.7-.1l.7 .4l.7-.3l.7 .9l.7-.7l.7-1.6l.7 1.9l.7 .3l.7-.4l.7-2.6l.7 2.9l.7-1.8l.7-.9l.7 1.6l.7 .2l.7-.4l.7 .9l.7-.6l.7 0l.7-.3l.7 .7l.7-.2l.7-1.2l.7 .8l.7-1.6l.7 1.1l.7-1l.7 .8l.7 0l.7 0l.7 .6l.7-.7l.7-.3l.7-.7l.7-.2l.7-.7l.7-.2l.7 .1l.7-.7l.7-1.1l.7 .4l.7-.2l.7-.3l.7-.7l.7 1l.7-1.1l.7 .8l.7 0l.7-.2l.7 .5l.7-.6l.7-.5l.7-.3l.7 .9l.7-.2l.7 .4l.7-.7l.7-.3l.7-.2l.7 0l.7 .7l.7-.2l.7-.8l.7 .2l.7-.4l.7-.2l.7 .3l.7-1.5l.7 .3l.7 1l.7-.7l.7 .1l.7-.3l.7 .1l.7-1.1l.7 1.6l.7 .2l.7-.1l.7-.8l.7 .4l.7-.3l.7-1.2l.7 .9l.7 0l.7-.2l.7-.6l.7-2.1l.7 2.7l.7-.4l.7-.6l.7 .2l.7 0l.7 0l.7-1.9l.7 .5l.7 1.5l.7 0l.7-.8l.7 .9l.7-.2l.7-.3l.7-.4l.7 .2l.7-1l.7-.2l.7 1l.7-1.8l.7 1.3l.7-1.2l.7 1.1l.7-1.2l.7 .9l.7-.6l.7 0l.7-1.3l.7 .2l.7-.2l.7 .9l.7-.6l.7 .3l.7-.7l.7 1l.7-.6l.7-.1l.7 .3l.7-.4l.7-.7l.7-.1l.7 .9l.7 .1l.7-.1l.7-.2l.7-.6l.7-1.2l.7 1.4l.7-.7l.7 .2l.7-.1l.7 0l.7 .1l.7 .1l.7-1.3l.7-.8l.7 1.9l.7-.5l.7 1l.7-.5l.7 .4l.7-.2l.7 .1l.7-.2l.7-.2l.7-.3l.7-.1l.7 .2l.7-.6l.7 1.1l.7-.1l.7-.4l.7-.9l.7 .9l.7-.4l.7 .5l.7-.3l.7 .4l.7-.7l.7-1.4l.7 1.1l.7 .2l.7 .2l.7 .3l.7 .1l.7-1.8l.7 .4l.7 1.3l.7-.2l.7-1l.7 1.2l.7 .1l.7-.1l.7 .7l.7-1.9l.7 0l.7 1.4l.7-.7l.7 .9l.7-.1l.7-.5l.7-.1l.7-.1l.7 .8l.7-.2l.7-.5l.7-.3l.7 .9l.7-.1l.7-1.1l.7 .6l.7 .4l.7 .1l.7-2l.7 1.7l.7-.5l.7 1l.7-.3l.7-1.2l.7 1.2l.7-.1l.7-.2l.7-.1l.7 0l.7-1.2l.7 1.2l.7-.1l.7-.9l.7 0l.7 .3l.7-.1l.7-.9l.7-1l.7 .7l.7 1.3l.7-.2l.7 .1l.7-.4l.7 .1l.7 .4l.7-.5l.7 0l.7-.4l.7-.1l.7-1l.7 .4l.7-1.1l.7 .8l.7 1l.7-1.7l.7 1.3l.7-.7l.7-.1l.7 .7l.7 0l.7-.8l.7 .3l.7 .7l.7 0l.7-1.8l.7 1.7l.7-.9l.7 .9l.7-.8l.7 1.1l.7-2.2l.7 .3l.7 .8l.7 .4l.7-.1l.7-.4l.7 .5l.7 .4l.7-.2l.7-.3l.7 .8l.7 .2l.7-.2l.7-1.2l.7 1.5l.7-2.1l.7 2l.7 .2l.7 0l.7-.3l.7 .3l.7-2l.7 1.9l.7 0l.7 .1l.7 .2l.7-.3l.7-1l.7-.1l.7 0l.7 .2l.7 0l.7 .4l.7-2.4l.7 2.8l.7-1.8l.7 1.6l.7-.9l.7-1l.7 .6l.7 .7l.7-.8l.7 .9l.7-.3l.7 .6l.7-.7l.7 0l.7-.2l.7 .4l.7-1.5l.7 1.4l.7-.1l.7 .4l.7-.5l.7 .3l.7-.3l.7-.3l.7 .8l.7-.1l.7-.9l.7-1l.7 1.3l.7-.1l.7-.1l.7 .5l.7-.4l.7 0l.7-.3l.7-.3l.7-.1l.7 .8l.7-.6l.7 .2l.7-1.2l.7 1l.7 .2l.7-.4l.7-1.3l.7 1l.7 .5l.7 .5l.7-1.6l.7 .8l.7 .5l.7-.9l.7 .8l.7 0l.7-.4l.7-.6l.7 1.2l.7-.3l.7 .4l.7-1.4l.7 0l.7 1.3l.7-1.5l.7 .6l.7 .6l.7-.4l.7 .2l.7-.1l.7-.7l.7 .1l.7 .4l.7 .2l.7-.4l.7 .2l.7 .5l.7 0l.7-.6l.7-.8l.7 1.2l.7 .1l.7-2.5l.7 1.2l.7 .4l.7 0l.7 .2l.7-.1l.7-.3l.7-.3l.7-1l.7 .3l.7 .2l.7 .7l.7-.3l.7 .2l.7-.7l.7 .9l.7-.8l.7-.2l.7 1l.7 .1l.7-.9l.7-1.2l.7 1.1l.7 .5l.7 0l.7 .4l.7-.2l.7 .1l.7-.2l.7 .1l.7-.5l.7 .4l.7-.3l.7 0l.7-.3l.7 .8l.7-1.2l.7 1.4l.7-2.1l.7 1.3l.7-.2l.7 .3l.7-1.1l.7 .9l.7 0l.7-.8l.7 .9l.7 .3l.7-.9l.7 .6l.7 .3l.7-.9l.7 .3l.7-.7l.7 1.2l.7-.9l.7-.1l.7 .7l.7-.8l.7 .5l.7-.6l.7-.5l.7 .4l.7 .3l.7-1l.7 0l.7 .8l.7 .5l.7-1.3l.7 .4l.7-.2l.7 .2l.7 0l.7-.2l.7 0l.7 .1l.7-1l.7 1.1l.7-1.3l.7 .4l.7-.4l.7-.7l.7 1.3l.7-1.4l.7 2l.7-.4l.7-.5l.7 1l.7-.1l.7-.5l.7 .4l.7-2.4l.7 2.4l.7-.8l.7 .3l.7 .6l.7-.3l.7-.5l.7-.7l.7 .9l.7 0l.7-1.8l.7 1.9l.7-.2l.7-.2l.7-.3l.7-.6l.7 .3l.7-1.5l.7 .5l.7-.2l.7 .5l.7-.1l.7-.3l.7 .3l.7-.6l.7 0l.7-.6l.7 1.2l.7-1l.7 .1l.7-.7l.7-.5l.7-.1l.7 .6l.7 .6l.7-.7l.7 1l.7-2.6l.7 2.2l.7 .1l.7-.2l.7 0l.7 0l.7-.5l.7-.2l.7 .7l.7 .1l.7-.2l.7-.3l.7-.7l.7 .5l.7-1.2l.7 .6l.7 .2l.7-.6l.7 .4l.7 .1l.7-.5l.7-.8l.7 0l.7-1.8l.7 2.7l.7-1.1l.7 .8l.7-1.2l.7 .8l.7-1.2l.7 1l.7-.5l.7 .3l.7-.4l.7 .6l.7-.8l.7 1.2l.7-1.1l.7 1l.7-.9l.7 .5l.7 .2l.7-.9l.7 .8l.7 0l.7-1.3l.7 .8l.7-.9l.7 .9l.7-1l.7 1.2l.7-.4l.7-.5l.7 .1l.7-.3l.7 .1l.7-.5l.7-1.2l.7 .3l.7 .7l.7-.3l.7 .6l.7-.5l.7-.3l.7-.7l.7 .6l.7-.9l.7-.2l.7 1l.7-.6l.7 .5l.7-1l.7 1l.7-.6l.7-.3l.7 1l.7-1l.7 .6l.7 0l.7 .3l.7 .1l.7-2.5l.7 1.7l.7 .1l.7-.5l.7 .6l.7 .5l.7-2l.7 1.1l.7 .3l.7 .1l.7-.1l.7 .6l.7-3.2l.7 2.2l.7 .1l.7-.7l.7 .4l.7 .2l.7-.1l.7 1l.7-.2l.7 0l.7-1.3l.7 1.1l.7-1.3l.7 1l.7 0l.7-1.2l.7 .5l.7-1.6l.7 1.6l.7-.3l.7-.2l.7 .8l.7-.1l.7-.8l.7 .1l.7 .2l.7 .1l.7 0l.7-.5l.7-1.4l.7 1.6l.7-.8l.7-.6l.7 1.5l.7-.6l.7 .4l0 6.7l-.7 .7l-.7-.1l-.7-.8l-.7 0l-.7 1.9l-.7-.4l-.7-1.1l-.7 .9l-.7-.5l-.7 0l-.7 .1l-.7 .4l-.7-.3l-.7 .4l-.7 .2l-.7-1l-.7 .8l-.7-.8l-.7 1l-.7-.6l-.7 1l-.7-.6l-.7 .2l-.7 .6l-.7-.6l-.7 1.1l-.7 1l-.7-2l-.7 .4l-.7-.2l-.7-.6l-.7 .1l-.7-.1l-.7 1.3l-.7-.8l-.7 .9l-.7-.4l-.7-.5l-.7-.1l-.7 .2l-.7 .3l-.7-.4l-.7 .2l-.7 1.9l-.7-1.9l-.7 0l-.7 0l-.7 .3l-.7 .7l-.7-1.2l-.7 1.6l-.7-1.3l-.7 .6l-.7 .2l-.7 .3l-.7-1l-.7 .4l-.7-.1l-.7-.2l-.7 1.7l-.7-1.1l-.7 1.2l-.7-1l-.7 .4l-.7 0l-.7-.2l-.7-.5l-.7 1.2l-.7-.5l-.7 0l-.7 .5l-.7 0l-.7 .9l-.7-1.3l-.7 .8l-.7-.4l-.7 2.3l-.7-.9l-.7 1.8l-.7-2.9l-.7 .1l-.7 .5l-.7 .7l-.7-.4l-.7-.2l-.7 .5l-.7 .1l-.7 .2l-.7-.9l-.7 1l-.7-.1l-.7 .7l-.7-1.4l-.7 0l-.7 .3l-.7 1l-.7-1.4l-.7 .1l-.7 .3l-.7 .1l-.7-.1l-.7 .2l-.7 .8l-.7 1.2l-.7-1.6l-.7 .6l-.7-.6l-.7 .9l-.7-.7l-.7 .2l-.7 .1l-.7-.1l-.7 .4l-.7-.2l-.7 2l-.7-.8l-.7 .7l-.7-1l-.7-.2l-.7 .2l-.7-.1l-.7 .5l-.7 .6l-.7-.4l-.7 .1l-.7 .6l-.7 1l-.7-1l-.7-.5l-.7 1.3l-.7-2l-.7 .2l-.7 .4l-.7 .3l-.7-.7l-.7-.2l-.7 .6l-.7 1.1l-.7 .6l-.7-1.6l-.7 .1l-.7 1.3l-.7-1.4l-.7 1.8l-.7 .2l-.7-1.3l-.7 .4l-.7 .7l-.7-.2l-.7-.1l-.7 .9l-.7-.7l-.7 .8l-.7-.5l-.7 1.5l-.7-1.3l-.7 .7l-.7-.2l-.7-.8l-.7 .8l-.7-.3l-.7 1.1l-.7-1.2l-.7 0l-.7 .2l-.7 0l-.7 0l-.7 .1l-.7-.2l-.7-.1l-.7 .5l-.7-.1l-.7 .2l-.7 .8l-.7-1.3l-.7-.3l-.7 .9l-.7 .5l-.7 1l-.7-1.7l-.7-.2l-.7 .2l-.7-.1l-.7-.1l-.7 2.9l-.7-2l-.7-.5l-.7 .6l-.7 .8l-.7-.6l-.7 .6l-.7 0l-.7-.8l-.7 .7l-.7-.3l-.7 .2l-.7 .6l-.7-.4l-.7 1.4l-.7-1.4l-.7 .6l-.7-1l-.7 .9l-.7-.6l-.7 .6l-.7-.9l-.7 1.1l-.7-.5l-.7 0l-.7 .9l-.7-1.6l-.7 .5l-.7 .1l-.7-.5l-.7 1.5l-.7-1.5l-.7 .9l-.7-.4l-.7 .2l-.7 .1l-.7-.3l-.7 1.1l-.7 .1l-.7-1.4l-.7 1.3l-.7-1.2l-.7 2l-.7-1.9l-.7 .3l-.7 .7l-.7 .2l-.7-1.1l-.7 1.4l-.7-1.1l-.7 1.5l-.7-1.6l-.7-.3l-.7 .7l-.7 .9l-.7-1.5l-.7 .1l-.7 2.6l-.7-2.4l-.7-.3l-.7 .5l-.7 .3l-.7 1.1l-.7-.6l-.7-.6l-.7-.1l-.7 1.4l-.7-1.1l-.7 .1l-.7-.1l-.7-.4l-.7 .1l-.7 .1l-.7 1.4l-.7-.5l-.7-.5l-.7 1.1l-.7 0l-.7-.5l-.7-.7l-.7 0l-.7 .8l-.7-.4l-.7-.4l-.7 .1l-.7 .9l-.7-.4l-.7-.4l-.7 0l-.7 .2l-.7 .2l-.7 .8l-.7 .1l-.7-.1l-.7-.2l-.7-.4l-.7-.7l-.7 .7l-.7-.4l-.7 .4l-.7 .6l-.7-1l-.7-.3l-.7 1.7l-.7-.7l-.7-.7l-.7 0l-.7 1.4l-.7-.2l-.7-.8l-.7 .2l-.7 .6l-.7 0l-.7-.8l-.7 1l-.7 .8l-.7-.9l-.7-.8l-.7 .4l-.7-.4l-.7 .5l-.7 .3l-.7 .7l-.7-1.6l-.7 .1l-.7 1.1l-.7 .1l-.7-.8l-.7 0l-.7 .4l-.7-.6l-.7 .1l-.7 1l-.7-.8l-.7 .5l-.7 .2l-.7-.7l-.7 .5l-.7-.7l-.7 .9l-.7-.4l-.7 .1l-.7 .5l-.7-.2l-.7-.1l-.7 .7l-.7 .4l-.7-1.4l-.7 .7l-.7 .8l-.7-1l-.7-.2l-.7 .6l-.7 .9l-.7-1.2l-.7 1.9l-.7-1.7l-.7 1.8l-.7-1.6l-.7-.3l-.7 1.1l-.7-.2l-.7-.5l-.7 .8l-.7-1l-.7 2.5l-.7-1.5l-.7-.9l-.7 .4l-.7-.4l-.7-.5l-.7 .6l-.7-.7l-.7-.1l-.7 .8l-.7 .8l-.7-1.2l-.7-.2l-.7 .1l-.7 .2l-.7 0l-.7 .1l-.7-.4l-.7-.5l-.7-.1l-.7 .1l-.7 .1l-.7 1.8l-.7-1.4l-.7-.2l-.7 .1l-.7 .5l-.7-.9l-.7 1.6l-.7-1.7l-.7 .8l-.7-.5l-.7 .4l-.7-.6l-.7 .3l-.7-.3l-.7 1.1l-.7 .8l-.7 .2l-.7-.1l-.7-1.2l-.7 .2l-.7 .5l-.7 .5l-.7-.6l-.7 .4l-.7-.1l-.7-.3l-.7 2.1l-.7-.5l-.7-1.8l-.7 .2l-.7 .8l-.7-.1l-.7 1l-.7-1.5l-.7 1.7l-.7-1.7l-.7 .2l-.7 .1l-.7 .1l-.7 .5l-.7 .1l-.7 0l-.7 .5l-.7 .2l-.7-1l-.7 .4l-.7 .4l-.7-.8l-.7 .5l-.7-.4l-.7 .5l-.7 .6l-.7-.1l-.7-.6l-.7-.3l-.7 1.3l-.7-.9l-.7-.1l-.7-.4l-.7 .6l-.7 .9l-.7-1.1l-.7 1.4l-.7-.7l-.7 0l-.7-1l-.7 0l-.7 .8l-.7-.3l-.7 .1l-.7 .3l-.7-.6l-.7-.1l-.7 .6l-.7 .9l-.7-1l-.7-.9l-.7 .9l-.7-.1l-.7-.2l-.7 .1l-.7-.6l-.7 .6l-.7 .4l-.7-1l-.7 .9l-.7 .3l-.7-.9l-.7 .1l-.7 .6l-.7-.3l-.7 .1l-.7-.1l-.7 0l-.7-.2l-.7-.2l-.7 .1l-.7 .6l-.7-.4l-.7 1.5l-.7-.4l-.7 .6l-.7-.3l-.7-.3l-.7-.3l-.7-.7l-.7 .6l-.7 .1l-.7-.4l-.7 0l-.7 .3l-.7 .2l-.7-.8l-.7 .4l-.7 .6l-.7-.1l-.7-.3l-.7 .2l-.7 0l-.7 .3l-.7 .6l-.7-.9l-.7 .8l-.7-.6l-.7 .5l-.7 1.3l-.7 0l-.7-1.4l-.7 .2l-.7 .1l-.7 .1l-.7-.4l-.7 .1l-.7 .3l-.7 .9l-.7-.3l-.7-.4l-.7 .6l-.7 .7l-.7-1l-.7 .2l-.7 .4l-.7 1.6l-.7-1.1l-.7 .7l-.7-.9l-.7 2.1l-.7-.9l-.7 1l-.7-1.5l-.7 .3l-.7-.1l-.7 .7l-.7 0l-.7-.7l-.7 .2l-.7-.1l-.7 0l-.7 .9l-.7-.2l-.7-.7l-.7 1.3l-.7 .5l-.7-1.2l-.7 1.3l-.7-1.3l-.7 .4l-.7 1l-.7-.4l-.7 1l-.7-1.2l-.7 .8l-.7-.3l-.7 .4l-.7 .2l-.7-.2l-.7-.4l-.7 2.2l-.7-1.3l-.7 0l-.7 .7l-.7 .2l-.7 .1l-.7-1l-.7 1.1l-.7-.3l-.7 .1l-.7 .7l-.7-.2l-.7-.5l-.7-.3l-.7 1l-.7-.5l-.7-.4l-.7 .5l-.7 1.2l-.7 .3l-.7-1.5l-.7 1.5l-.7-.3l-.7-.9l-.7 .7l-.7 .1l-.7-.1l-.7 .3l-.7-.9l-.7 .3l-.7 1.4l-.7-.7l-.7 .4l-.7-.7l-.7 .7l-.7 .1l-.7 .7l-.7 1.2l-.7-.7l-.7 0l-.7 .4l-.7 .5l-.7 2l-.7-1.2l-.7 0l-.7-.5l-.7 1.4l-.7-1.2l-.7 .4l-.7 0l-.7 .6l-.7 .1l-.7-.7l-.7 1.1l-.7-1.1l-.7 .8l-.7-.3l-.7 0l-.7 .2l-.7 0l-.7 1.1l-.7-.3l-.7 .4l-.7-1.3l-.7 .2l-.7-.1l-.7 2.7l-.7-2.3l-.7 .1l-.7 .4l-.7 .3l-.7-.8l-.7-.1l-.7-.5l-.7 1.6l-.7-.9l-.7-.6l-.7 .9l-.7-.8l-.7 1.4l-.7-.4l-.7 .7l-.7 0l-.7-.5l-.7 .8l-.7-.9l-.7 .1l-.7 .1l-.7 .9l-.7-.7l-.7 .5l-.7-1.1l-.7 .3l-.7 .1l-.7-.3l-.7 1.1l-.7-.2l-.7 .9l-.7-1.9l-.7 1.1l-.7 1l-.7-1.2l-.7-1l-.7 .3l-.7 0l-.7-.2l-.7 .6l-.7 0l-.7 .5l-.7-1l-.7 .5l-.7-.1l-.7 .6l-.7-.5l-.7 1.1l-.7 .8l-.7-.6l-.7-1.4l-.7 .7l-.7-.1l-.7-.3l-.7 .7l-.7-.7l-.7 .2l-.7 .2l-.7 .5l-.7 .1l-.7 .6l-.7-.3l-.7-.8l-.7 1.7l-.7-1.9l-.7-.1l-.7 .4l-.7 0l-.7-.4l-.7 2.1l-.7-1l-.7-.6l-.7-.3l-.7 .9l-.7-.1l-.7 0l-.7-.5l-.7-.3l-.7 .7l-.7-.3l-.7-.2l-.7 .7l-.7-1.1l-.7 1.4l-.7-.6l-.7-.1l-.7 0l-.7 0l-.7-.6l-.7 .2l-.7 .2l-.7 .1l-.7-.8l-.7 2.3l-.7-1.1l-.7-.7l-.7 .2l-.7 .5l-.7-.6l-.7 1.1l-.7-1.4l-.7 1.5l-.7-.7l-.7 .3l-.7 .9l-.7-.4l-.7 .1l-.7-.8l-.7 .5l-.7-.5l-.7 .2l-.7 1.6l-.7-1l-.7 .1l-.7-1.1l-.7 .8l-.7 .6l-.7-1.4l-.7 1.3l-.7-1.2l-.7 .6l-.7-1.2l-.7 .9l-.7-.4l-.7-.4l-.7 1.8l-.7-1.4l-.7-.4l-.7 .7l-.7 .1l-.7-.6l-.7 2.4l-.7-1.6l-.7 .2l-.7 .4l-.7 .8l-.7-1.1l-.7-.2l-.7-.3l-.7 1.2l-.7-1.2l-.7 .6l-.7-.4l-.7 0l-.7-.8l-.7 .7l-.7 .8l-.7-1.2l-.7 .3l-.7-.1l-.7 0l-.7 1.2l-.7-.8l-.7-.1l-.7 0l-.7-.3l-.7 1l-.7-.1l-.7 .1l-.7 2l-.7-1.7l-.7 .4l-.7 .1l-.7-.5l-.7 .7l-.7-.9l-.7 1.1l-.7-1l-.7 1.9l-.7-1.6l-.7-.2l-.7 0l-.7 .4l-.7 .3l-.7-.8l-.7 0l-.7 .2l-.7 0l-.7 .5l-.7 .7l-.7-.8l-.7-.2l-.7 .2l-.7 1.6l-.7-1.4l-.7 .5l-.7-.5l-.7-.1l-.7 .8l-.7-.4l-.7 .2l-.7 1.8l-.7-1.6l-.7 .2l-.7-.3l-.7 1.1l-.7-.3l-.7-.1l-.7-.8l-.7-.1l-.7 0l-.7 1l-.7-1.3l-.7 .2l-.7 .3l-.7-.2l-.7 .6l-.7-.1l-.7-.2l-.7 .6l-.7-.1l-.7-1.3l-.7 .1l-.7 .8l-.7 0l-.7-.3l-.7 1.6l-.7-1.3l-.7 0l-.7 .2l-.7 .5l-.7-.6l-.7-.5l-.7 .4l-.7 0l-.7-.5l-.7 1.2l-.7-1.2l-.7 0l-.7 .2l-.7 .3l-.7-.1z" fill="#ffa500" stroke="none"/>
<line x1="158.3" y1="433.0" x2="750.2" y2="395.5" stroke="#ffa500" stroke-width="2.4"/>
<path d="M157.8 429.7l.7-1l.7 .7l.7-1l.7 .7l.7-.9l.7 .3l.7 .4l.7-2.4l.7 2.3l.7-.4l.7-.4l.7-2.2l.7 1.7l.7 .6l.7-.6l.7-.4l.7-.3l.7 1.5l.7-.2l.7 .3l.7-.6l.7-.1l.7 .9l.7 0l.7-.4l.7-.1l.7 .6l.7-.1l.7-1.8l.7 1.9l.7-.2l.7 0l.7 .1l.7 .1l.7 0l.7-.5l.7 0l.7-1.4l.7 .4l.7 .2l.7 .4l.7 .3l.7-.5l.7-.7l.7 1.1l.7-.9l.7 .6l.7-.5l.7-.8l.7-.4l.7 1.5l.7-.9l.7 1l.7-.9l.7 .8l.7 0l.7 .7l.7-.4l.7-.3l.7-.2l.7 .8l.7-1.5l.7 1l.7 .6l.7-.5l.7 0l.7 .1l.7-.3l.7 .4l.7-1.8l.7 1.7l.7-1.2l.7 1l.7-.1l.7-1.3l.7 .8l.7 .2l.7-.6l.7 .7l.7 0l.7-.1l.7-.4l.7-.2l.7 .4l.7 .1l.7-1.2l.7 .2l.7 .3l.7-.4l.7-.7l.7 .1l.7 .6l.7-1.1l.7 .4l.7 .3l.7 .2l.7 .1l.7-1.3l.7 .2l.7-.3l.7 1.3l.7-.3l.7-.1l.7-1.1l.7-.4l.7 1l.7 .1l.7 .1l.7-1.3l.7 1.2l.7 0l.7-.5l.7 .1l.7-1l.7 .9l.7 .4l.7-.5l.7 .3l.7-.5l.7 0l.7-.7l.7-.1l.7 .5l.7 .2l.7-.8l.7 1l.7-1.4l.7 1.3l.7-.3l.7-.4l.7-.2l.7-.8l.7 .8l.7-1.1l.7 .8l.7-.8l.7 .8l.7-.9l.7 .3l.7-.4l.7 .7l.7 .7l.7-1.3l.7 .3l.7 .4l.7-.9l.7 .2l.7 .9l.7-.1l.7 0l.7-1.4l.7 .7l.7-.2l.7 .4l.7-1.2l.7-.1l.7 .8l.7 .5l.7 .1l.7-.5l.7 0l.7-.1l.7-.5l.7 .7l.7-2.1l.7 1.5l.7 0l.7-.1l.7 .3l.7-1.2l.7 1.3l.7-.8l.7 0l.7-1.2l.7 1.5l.7-.5l.7-1.1l.7 1l.7-.4l.7 .2l.7 .3l.7-1.7l.7 1.7l.7 .7l.7-1.8l.7 1.6l.7-1l.7 1l.7-1l.7 1.3l.7-.4l.7 .7l.7-1l.7 .8l.7-.2l.7-.1l.7 .1l.7 .4l.7-.3l.7-.6l.7-1l.7 .6l.7 .2l.7-.1l.7-.6l.7 .9l.7-.1l.7-.2l.7 .9l.7-.3l.7-.3l.7 .4l.7 .2l.7-.4l.7-.9l.7-1.7l.7 1.5l.7 .5l.7 .3l.7-.2l.7 .4l.7-1.3l.7 .6l.7-.2l.7 1l.7-.5l.7 1l.7 .2l.7-.2l.7-.4l.7 .5l.7-1.9l.7 2.3l.7-.1l.7-.5l.7 .5l.7-.5l.7-.5l.7 .4l.7-1l.7 .9l.7 0l.7 0l.7-.3l.7 .7l.7-.1l.7-.6l.7 .7l.7 .1l.7-.5l.7 .3l.7 .1l.7-.8l.7 .7l.7-1.4l.7 1l.7-.2l.7 .4l.7-.2l.7-.5l.7-1l.7 1.6l.7 .2l.7 0l.7-.9l.7-.1l.7 1.2l.7-.4l.7-.4l.7 .1l.7 .7l.7-1l.7 .6l.7 .2l.7-.6l.7 .7l.7-1.4l.7 .9l.7-.4l.7 .2l.7-.1l.7 .4l.7-1.7l.7 2l.7-1l.7 .1l.7 .5l.7 0l.7-.2l.7-.8l.7 .3l.7-.5l.7 .4l.7 0l.7-.8l.7 .5l.7-1.5l.7 1.4l.7-.4l.7 .3l.7-1.4l.7 .9l.7 .2l.7-.1l.7 .5l.7-.9l.7 .5l.7 .4l.7-.9l.7-.3l.7-.6l.7 .9l.7 .3l.7-.4l.7-.2l.7 .8l.7-.7l.7-1.3l.7 1.1l.7-.8l.7 .1l.7 .8l.7-.7l.7-.2l.7 .8l.7-.5l.7-.7l.7 1l.7 .4l.7-.4l.7-.8l.7 .9l.7-.8l.7 1l.7 .2l.7 0l.7-1l.7 .7l.7-.2l.7-.9l.7 .7l.7-1.5l.7 1.4l.7 .2l.7-.5l.7 .4l.7-.8l.7 1l.7-.1l.7-.9l.7 .8l.7 .4l.7-.5l.7 0l.7-.4l.7-.5l.7 .7l.7 .2l.7-.2l.7-.3l.7-.3l.7 .7l.7-.9l.7-.4l.7 1.1l.7-.7l.7 .2l.7 .4l.7-.4l.7 .3l.7-.1l.7 .2l.7-.7l.7 .1l.7-.6l.7 1l.7-.9l.7-.2l.7 .4l.7 .5l.7-1.3l.7-.6l.7 1.9l.7-.7l.7 1l.7-.2l.7-.5l.7 .1l.7-1.4l.7 1.3l.7-.2l.7-.2l.7 .4l.7-1.1l.7 .3l.7 .5l.7-1.2l.7 1.3l.7-.1l.7-1.3l.7 .5l.7 .4l.7 .1l.7-.5l.7 .6l.7-1.1l.7 1l.7-.4l.7-.5l.7-.3l.7 0l.7 .9l.7-.9l.7 .6l.7-.7l.7-1.4l.7 1.1l.7 .2l.7-1.5l.7 1.8l.7 .6l.7-.5l.7 0l.7-1.8l.7 1.2l.7-.7l.7-.6l.7 1.7l.7-.5l.7 .2l.7 .6l.7-1.8l.7 1.7l.7 .1l.7-.2l.7-1.3l.7 .1l.7 1.1l.7-.6l.7-.5l.7 0l.7-.3l.7 1.2l.7-.7l.7-.3l.7 0l.7 .3l.7-1.1l.7 .4l.7 .9l.7-.5l.7 .5l.7-.9l.7 .7l.7-.2l.7 .3l.7-1.1l.7 .7l.7-.6l.7 .1l.7-.4l.7 .6l.7-.1l.7 .1l.7-.6l.7 .7l.7-1.3l.7 .8l.7 .1l.7-.2l.7-1.1l.7-.8l.7 .6l.7 .4l.7 .5l.7-1l.7 .1l.7 .6l.7-.4l.7 1l.7-1.6l.7 1.6l.7-1.3l.7 1.3l.7 .1l.7-.4l.7-.6l.7 1.2l.7-.1l.7-.1l.7-1l.7 .3l.7-.3l.7 .9l.7-.9l.7 .6l.7-.3l.7 .7l.7-1.4l.7 .2l.7 .1l.7 .9l.7 .1l.7-.7l.7 .5l.7 .1l.7 0l.7 .3l.7-.2l.7-1.6l.7 .5l.7 1.1l.7-1l.7-2.1l.7 3.1l.7 .4l.7-.7l.7 .2l.7 .3l.7-1.5l.7 1.1l.7 .1l.7 .4l.7-.4l.7 .1l.7-.3l.7 .2l.7 .3l.7-.5l.7-.5l.7 .5l.7 .4l.7 .2l.7-1.3l.7 1.7l.7 0l.7-.2l.7-1.3l.7 1.3l.7-.7l.7 1l.7-.3l.7-1.1l.7-.8l.7 .6l.7 .9l.7 .3l.7-1.8l.7 1.8l.7-1.2l.7 1l.7-.4l.7-.3l.7 .8l.7-2.1l.7 .3l.7 1.6l.7 .8l.7-.3l.7 .4l.7 .2l.7-.5l.7-.5l.7 .5l.7-.3l.7 .6l.7 .1l.7-.3l.7-.1l.7-.3l.7 .2l.7-1.2l.7-.8l.7 1.3l.7-.8l.7 .6l.7 0l.7-.5l.7-.2l.7 .3l.7 .1l.7-.8l.7 .1l.7 .5l.7 .3l.7-.1l.7-.3l.7-1l.7 .5l.7 .8l.7-.1l.7-1.2l.7 .3l.7 .5l.7 0l.7-1l.7 .9l.7-.4l.7 .6l.7-1l.7 .5l.7-1.2l.7 .6l.7 .8l.7-.4l.7 0l.7-1l.7-.9l.7 1.1l.7-.7l.7-.3l.7 1l.7-1.5l.7 .8l.7 .7l.7-.5l.7 .7l.7 .2l.7-.7l.7-.3l.7 .2l.7 .3l.7 .3l.7-1.4l.7 1.3l.7-.8l.7 .1l.7 .5l.7-.1l.7-1.3l.7 .7l.7-.6l.7-.5l.7 .2l.7 1.1l.7-1.8l.7 1l.7 .7l.7-.7l.7 .7l.7-1.2l.7 1l.7-.6l.7 .8l.7-.2l.7-.4l.7-.1l.7 .3l.7-1.9l.7 .1l.7 2.1l.7-.6l.7 .3l.7 0l.7-.7l.7 0l.7-.6l.7 1.4l.7-1l.7 .5l.7-.9l.7 1.3l.7-.3l.7-.2l.7 .4l.7 .1l.7-.1l.7-.1l.7-.2l.7 .3l.7-.5l.7-.1l.7 .1l.7 .6l.7-.3l.7-1l.7 0l.7-.1l.7 .2l.7-1.1l.7 1l.7-.3l.7 .2l.7-.2l.7-.9l.7-.1l.7 .2l.7 .5l.7 .2l.7-1.3l.7 1.3l.7-.1l.7-2l.7 .6l.7 1.1l.7-1.2l.7 0l.7-1.2l.7 1l.7 .3l.7 .8l.7 0l.7-.5l.7-1.1l.7 .2l.7 .8l.7 .6l.7 .1l.7-.4l.7-.2l.7-1.2l.7 .9l.7 .7l.7-.2l.7 .5l.7 0l.7-2.1l.7 2.3l.7-1.1l.7 1.1l.7-.3l.7-.4l.7 .6l.7-1.1l.7 .8l.7 0l.7 .3l.7 .2l.7-.7l.7 1l.7-.3l.7-.1l.7-.7l.7 .9l.7-.6l.7 .1l.7 .5l.7-1.1l.7 1.1l.7-.2l.7 .6l.7-1l.7 .7l.7-1l.7 .5l.7 .8l.7-1.2l.7-.1l.7 .2l.7 .2l.7-.2l.7 .5l.7 .3l.7 .2l.7-.1l.7-1.8l.7 1.5l.7-1.6l.7 .4l.7 .8l.7-.1l.7 .2l.7 .8l.7-1.8l.7 1l.7 .6l.7-1.3l.7 .6l.7 .5l.7-1l.7 .2l.7 .7l.7-1l.7-.1l.7 1l.7-.2l.7 0l.7 0l.7-.7l.7 .3l.7 .1l.7-.3l.7 .4l.7-1.1l.7 .5l.7-.6l.7 1l.7 0l.7-.2l.7 0l.7-.5l.7-.2l.7 .9l.7-.2l.7-.6l.7-.7l.7 .3l.7 .5l.7-1.2l.7 .2l.7 1.1l.7 .1l.7 .1l.7 .1l.7-.6l.7 .5l.7 0l.7-.8l.7-1.2l.7-.6l.7 1.9l.7 .3l.7-.1l.7-.4l.7-.6l.7 .4l.7-1.1l.7 1.1l.7 .2l.7-.7l.7 1l.7-1.2l.7 1.5l.7 0l.7-.5l.7-.1l.7 0l.7-.3l.7-.2l.7-1.3l.7 1.3l.7-.3l.7-.3l.7-.2l.7-.2l.7 .6l.7 0l.7-1.2l.7 1.2l.7-.4l.7 .5l.7-1.7l.7 .9l.7-.5l.7-.1l.7 .3l.7-1.9l0 8.9l-.7-.4l-.7 .8l-.7-.6l-.7 .9l-.7-.4l-.7 .7l-.7 .2l-.7 .2l-.7-1.3l-.7 .9l-.7-.4l-.7 .3l-.7-.1l-.7 .4l-.7-.3l-.7-.2l-.7 .1l-.7 .8l-.7 .8l-.7 1.3l-.7-2l-.7 .5l-.7 1.5l-.7 .3l-.7-.9l-.7-1.3l-.7 .8l-.7-.6l-.7-.5l-.7 .1l-.7 .7l-.7-.7l-.7 .7l-.7 .3l-.7 1.8l-.7-2.3l-.7 .9l-.7-.5l-.7 .5l-.7-1.1l-.7 1.8l-.7-.7l-.7-.5l-.7 .1l-.7 .3l-.7 .5l-.7-1.1l-.7 1.1l-.7-.1l-.7-.1l-.7-.3l-.7 0l-.7-.2l-.7 .1l-.7 0l-.7-.2l-.7 .5l-.7-.5l-.7 .1l-.7 1l-.7-.5l-.7-.6l-.7 .2l-.7 .1l-.7-.3l-.7 1.1l-.7 .1l-.7-.8l-.7 .7l-.7 .5l-.7-.5l-.7-.5l-.7 .1l-.7 1.4l-.7-1.1l-.7 .1l-.7 .1l-.7 .7l-.7 .3l-.7-1.3l-.7 0l-.7 2.2l-.7-1l-.7-.4l-.7-.4l-.7-.2l-.7-.1l-.7 .1l-.7 .4l-.7-.1l-.7 .3l-.7-.8l-.7 .9l-.7-.2l-.7-.3l-.7-.1l-.7-.4l-.7 .3l-.7 .9l-.7-.6l-.7 0l-.7 .3l-.7-.2l-.7-.5l-.7 .2l-.7 .5l-.7 .5l-.7-.6l-.7 1l-.7-1l-.7 .5l-.7-1.3l-.7 .9l-.7-.6l-.7 .3l-.7-.1l-.7 1.3l-.7 .3l-.7-2.4l-.7 0l-.7 .9l-.7-.5l-.7-.2l-.7-.4l-.7 .6l-.7-.3l-.7 .4l-.7-.8l-.7 .4l-.7-.2l-.7-.2l-.7 .2l-.7 1.4l-.7-1l-.7 .7l-.7-1.2l-.7 .8l-.7 0l-.7 .6l-.7-1.1l-.7-.5l-.7 .9l-.7-1.2l-.7 .4l-.7 .3l-.7-.2l-.7-.1l-.7 .9l-.7 1.5l-.7-1l-.7-.5l-.7-.4l-.7-.3l-.7 .1l-.7 1.4l-.7-.8l-.7-.3l-.7 1l-.7 .4l-.7-1.1l-.7 1.1l-.7-1.1l-.7 .7l-.7-.3l-.7 .2l-.7 1.5l-.7-1.5l-.7 .1l-.7 1.4l-.7-1.3l-.7 .9l-.7 .6l-.7-1.1l-.7 .5l-.7-.4l-.7 1l-.7 .4l-.7 .3l-.7-1.2l-.7 .1l-.7 0l-.7-.6l-.7 1.1l-.7 .1l-.7-.5l-.7 .1l-.7-.8l-.7 .7l-.7 .1l-.7-.6l-.7 .7l-.7-.9l-.7 .9l-.7 .6l-.7-.6l-.7-.1l-.7 .2l-.7-.4l-.7 .1l-.7 0l-.7 .1l-.7 .5l-.7-.3l-.7-.4l-.7 0l-.7 .2l-.7 .9l-.7-1.1l-.7 .7l-.7 1.1l-.7-.1l-.7-.3l-.7-.1l-.7-1l-.7 .6l-.7-.5l-.7 .5l-.7 .1l-.7-.2l-.7 .1l-.7 .2l-.7 .3l-.7-.5l-.7-.3l-.7 .2l-.7 1.8l-.7-1.6l-.7 .2l-.7 .7l-.7-.7l-.7 .4l-.7-.2l-.7 .2l-.7 .8l-.7-.6l-.7 .1l-.7-.6l-.7 .3l-.7 .6l-.7-.6l-.7 1.2l-.7-1.5l-.7 .8l-.7 .2l-.7-.1l-.7 0l-.7 .6l-.7-.4l-.7 .5l-.7-.5l-.7-.1l-.7 .8l-.7-.6l-.7 .1l-.7 .6l-.7-.6l-.7 .3l-.7-.3l-.7 .6l-.7-.8l-.7 .4l-.7 .1l-.7 0l-.7 .7l-.7-1.1l-.7 1.6l-.7 1l-.7-2.4l-.7 .5l-.7-.1l-.7 .7l-.7-.1l-.7-.1l-.7 .3l-.7 0l-.7 0l-.7 .4l-.7-.4l-.7 .2l-.7 1.4l-.7-.2l-.7-.9l-.7 .8l-.7-.8l-.7 1l-.7-1.2l-.7 .2l-.7-.2l-.7 .4l-.7 .2l-.7-.6l-.7-.6l-.7 .4l-.7 0l-.7 .1l-.7-.2l-.7 .6l-.7-.2l-.7-.2l-.7 0l-.7 .1l-.7-.7l-.7 .1l-.7 1.4l-.7-.8l-.7-.4l-.7 .2l-.7 1.3l-.7 .1l-.7-.2l-.7-1.2l-.7-.3l-.7-.1l-.7 .8l-.7-1l-.7 1l-.7 .8l-.7-1.6l-.7-.1l-.7 .3l-.7-.4l-.7 .4l-.7 0l-.7 .2l-.7-1l-.7 2.3l-.7-1.7l-.7-.3l-.7 .5l-.7 .5l-.7-.2l-.7-.2l-.7 .5l-.7-1l-.7 .8l-.7-1.1l-.7 0l-.7 1.5l-.7-1.2l-.7 1.6l-.7-1.6l-.7 .8l-.7-.7l-.7 1.4l-.7-1.5l-.7 2.4l-.7-2.1l-.7 .4l-.7-.6l-.7 .2l-.7 .1l-.7 0l-.7 .9l-.7-1l-.7 2.4l-.7-2.4l-.7-.3l-.7 .8l-.7-.2l-.7-.1l-.7 0l-.7 0l-.7-.4l-.7 .2l-.7 0l-.7-.2l-.7 .3l-.7-.6l-.7 0l-.7 0l-.7 .1l-.7 .2l-.7-.4l-.7 .5l-.7 .3l-.7 .5l-.7-1.2l-.7 .2l-.7-.1l-.7 1l-.7 .8l-.7-1.4l-.7 .4l-.7 0l-.7 .6l-.7 1l-.7-1.7l-.7 .5l-.7 .1l-.7 0l-.7 .3l-.7-.4l-.7 .4l-.7 .5l-.7 .9l-.7-1.5l-.7 1.3l-.7-1.3l-.7 .3l-.7 .2l-.7 .2l-.7 .3l-.7-.9l-.7 .8l-.7 1.3l-.7-1.5l-.7 .8l-.7-1.3l-.7 .1l-.7 .9l-.7-.7l-.7 1.1l-.7-.1l-.7 .3l-.7 .7l-.7-1.8l-.7 0l-.7 .3l-.7-.3l-.7-.2l-.7 .3l-.7 .1l-.7 1.1l-.7 0l-.7-1.1l-.7 .5l-.7 .7l-.7-.6l-.7 .1l-.7-.3l-.7 .6l-.7 .3l-.7-.9l-.7 .2l-.7 .3l-.7 .1l-.7-.3l-.7 0l-.7 0l-.7-.1l-.7 .6l-.7 .5l-.7-.6l-.7 .5l-.7-.8l-.7 0l-.7 .3l-.7-.1l-.7 1.4l-.7-.9l-.7 .3l-.7-.5l-.7 .7l-.7 .1l-.7 1.3l-.7-1.2l-.7 1.4l-.7-1.7l-.7 .4l-.7 .1l-.7-.4l-.7 .6l-.7-.7l-.7 .5l-.7-.4l-.7 0l-.7 1.2l-.7-.9l-.7-.2l-.7 .1l-.7-.3l-.7 1.3l-.7 .7l-.7-1.3l-.7-.4l-.7 .8l-.7 .7l-.7-1.6l-.7 1.4l-.7-1l-.7 .5l-.7-.5l-.7 .5l-.7-.5l-.7 1.3l-.7-.3l-.7-.9l-.7 0l-.7 1.2l-.7 1.1l-.7-1.3l-.7-.2l-.7 1.1l-.7-.5l-.7 .3l-.7-.6l-.7-.5l-.7 .5l-.7 .4l-.7-1.2l-.7-.2l-.7 0l-.7 .6l-.7-.2l-.7 .4l-.7-.9l-.7 .5l-.7 .1l-.7 .5l-.7-.1l-.7 .5l-.7-.8l-.7-.2l-.7 .4l-.7 .2l-.7 .3l-.7-.7l-.7 1.3l-.7 0l-.7-.5l-.7-.6l-.7-.2l-.7 .1l-.7 .8l-.7-.8l-.7 .7l-.7-.5l-.7 .1l-.7 1.7l-.7-1.8l-.7 .8l-.7 .6l-.7-.2l-.7 .9l-.7-1.2l-.7 .1l-.7-.3l-.7 1.6l-.7-1.7l-.7-.1l-.7 .6l-.7 .3l-.7-.9l-.7 .6l-.7 .5l-.7-.6l-.7 1.2l-.7 0l-.7 .3l-.7-1.1l-.7 .4l-.7-1l-.7 .4l-.7 1.7l-.7-.6l-.7-.9l-.7 1l-.7-.1l-.7 .8l-.7-.3l-.7-.2l-.7 .6l-.7-.4l-.7-.5l-.7 .7l-.7 1.5l-.7-1.3l-.7 0l-.7 1.3l-.7-.1l-.7-1.6l-.7-.4l-.7 1.3l-.7-1.4l-.7 1.4l-.7-.5l-.7 .3l-.7-.5l-.7 .5l-.7-.9l-.7 .3l-.7-.2l-.7 .5l-.7-.8l-.7 .7l-.7-.5l-.7 1.6l-.7-1l-.7-.2l-.7-.2l-.7-.2l-.7 .3l-.7-.6l-.7 .3l-.7-.1l-.7 .3l-.7 .4l-.7 .1l-.7-.8l-.7-.1l-.7 .7l-.7-.7l-.7 0l-.7 .5l-.7-.1l-.7 .6l-.7 .6l-.7-.2l-.7-1.4l-.7 .4l-.7 1.2l-.7-1.3l-.7 1l-.7-.8l-.7 2.4l-.7-2.2l-.7 .1l-.7 0l-.7 1l-.7-1.4l-.7 .2l-.7-.3l-.7 .1l-.7-.5l-.7 .4l-.7-.1l-.7 .8l-.7-1.3l-.7 .3l-.7-.7l-.7 0l-.7 1.2l-.7-.4l-.7 1.9l-.7-1.3l-.7-.8l-.7 .1l-.7 1.2l-.7 .2l-.7-1.2l-.7-.3l-.7-.3l-.7 .7l-.7 .5l-.7 .1l-.7-1.6l-.7 .7l-.7 1.7l-.7-.9l-.7-.7l-.7 1l-.7-.4l-.7 1l-.7-1.5l-.7 .2l-.7 1.2l-.7-.5l-.7-.9l-.7 .4l-.7-.3l-.7-.5l-.7 .8l-.7-.4l-.7-.7l-.7 .1l-.7 .6l-.7-.6l-.7 .8l-.7-.2l-.7-.7l-.7 .9l-.7-.6l-.7-.1l-.7-.1l-.7 .8l-.7 .1l-.7-.4l-.7 0l-.7 2.1l-.7-1.2l-.7-.2l-.7-.1l-.7-.4l-.7 .8l-.7 1.2l-.7-1.5l-.7 0l-.7 .3l-.7 .7l-.7-1l-.7 .3l-.7 0l-.7-.2l-.7 0l-.7 1.7l-.7-1.4l-.7 0l-.7 1l-.7-.5l-.7 .4l-.7-.3l-.7-.5l-.7 .2l-.7 .6l-.7 .8l-.7-1.3l-.7-.2l-.7 .3l-.7 .7l-.7-.9l-.7 .4l-.7 0l-.7 .9l-.7-.8l-.7-.1l-.7 .4l-.7 .3l-.7 1.1l-.7-.2l-.7-.9l-.7 1.4l-.7-1.1l-.7 .1l-.7-.1l-.7 .2l-.7-.4l-.7 1.5l-.7-1.1l-.7 .1l-.7 1.4l-.7-1.6l-.7 .8l-.7 0l-.7 .2l-.7 .6l-.7-.3l-.7-.9l-.7 1.1l-.7-.2l-.7-.2l-.7-.4l-.7 0l-.7 .2l-.7 1l-.7-.6l-.7-.4l-.7 .6l-.7-.5l-.7 1.8l-.7-1.3l-.7 .1l-.7 .3l-.7 .3l-.7-.8l-.7 .9l-.7 .5l-.7-1l-.7 2.1l-.7-1.3l-.7 .1l-.7-.2l-.7 .7l-.7-.2l-.7-.5l-.7 .8l-.7-.1l-.7-.4l-.7 1l-.7-.2l-.7-.3l-.7 .5l-.7-.8l-.7 .3l-.7-.1l-.7 1.6l-.7-1.7l-.7-.2l-.7 .4l-.7 .1l-.7-.2l-.7 1.3l-.7 .4l-.7-1.1l-.7-.1l-.7 1l-.7-.4l-.7-1.1l-.7 .1l-.7 1.3l-.7 .1l-.7-1l-.7 .2l-.7-.6l-.7 .4l-.7 .5l-.7-.5l-.7-.8l-.7 .2l-.7 1.4l-.7-1l-.7-.2l-.7 1l-.7-.8l-.7 1.8l-.7-2l-.7 1.1l-.7-.8l-.7 .2l-.7 .9l-.7 .4l-.7 .3l-.7-1.3l-.7 1.7l-.7-1.7l-.7 1.3l-.7-1l-.7 1l-.7-1.7l-.7 .3l-.7 .4l-.7 0l-.7-.5l-.7 .3l-.7-.2l-.7 .6l-.7-.3l-.7 .4l-.7-.4l-.7 .8l-.7-.9l-.7-.1l-.7 1.1l-.7-1.3l-.7 0l-.7-.1l-.7 .5l-.7-.7l-.7-.2l-.7 .7l-.7-.2l-.7 .3l-.7-.4l-.7-.1l-.7 .3l-.7-.7l-.7-.2l-.7 1z" fill="#00ffff" stroke="none"/>
<line x1="158.3" y1="431.5" x2="750.2" y2="408.5" stroke="#00ffff" stroke-width="2.4"/>
<path d="M157.8 430.3l.7-.6l.7 1.3l.7 0l.7 0l.7-.5l.7-1l.7 1.3l.7-.1l.7 .3l.7-.7l.7 .5l.7-.5l.7-.1l.7 .2l.7-.5l.7 .8l.7-.9l.7 .9l.7 .1l.7-1.3l.7 1.3l.7-1.3l.7 1.3l.7-1.3l.7 .4l.7 .7l.7-.8l.7-.3l.7 .8l.7-.4l.7-.1l.7-.6l.7 1.7l.7-.7l.7 .6l.7-1.4l.7 1.2l.7 .2l.7-1.2l.7 1.3l.7 .6l.7 .1l.7-1.1l.7-.6l.7 1.2l.7-1.3l.7 1.2l.7-1.1l.7 1.4l.7-1.6l.7 1.8l.7 .3l.7-1l.7 .1l.7 .3l.7 0l.7 .1l.7 .3l.7-.7l.7 .9l.7 .4l.7-.5l.7 .3l.7 .5l.7-.6l.7 .5l.7-.6l.7 .1l.7 .3l.7-.4l.7 .2l.7 .4l.7 0l.7 0l.7 0l.7-.2l.7-.1l.7 .7l.7 0l.7-.9l.7-.3l.7 .3l.7 .5l.7 0l.7 .3l.7-1l.7 .2l.7 1.2l.7-.2l.7-.2l.7 .3l.7-1.4l.7 1l.7 .6l.7-.7l.7 .7l.7-.4l.7-.8l.7 1.7l.7-.7l.7-.6l.7 .9l.7-.3l.7 .2l.7-.7l.7 .6l.7 .3l.7 .7l.7 0l.7 .3l.7-1.7l.7 1.3l.7-.7l.7 .2l.7 .4l.7 .3l.7-.2l.7 0l.7-.1l.7-.4l.7-1.1l.7 .9l.7 .1l.7-.4l.7 .9l.7-.4l.7 0l.7-.5l.7-1.3l.7 .1l.7 1.8l.7-1.4l.7 1.5l.7-.5l.7 .1l.7-.2l.7-.5l.7-.6l.7 .3l.7 .9l.7 0l.7-.2l.7 .3l.7 0l.7 .4l.7 .1l.7-.5l.7 1l.7-.2l.7 .2l.7-.5l.7-1.2l.7 1.6l.7-.7l.7 .9l.7-1.4l.7 1.4l.7-.7l.7 0l.7 .7l.7 .6l.7 .2l.7-1.1l.7-.4l.7 .6l.7 .8l.7-.8l.7 .5l.7-.4l.7 .2l.7 .6l.7-2.1l.7 1.7l.7-.4l.7 .7l.7-.4l.7-1.5l.7 1l.7 1.2l.7-.8l.7 .7l.7-.2l.7 0l.7-.6l.7-1.6l.7 1.9l.7 .7l.7 .1l.7-.9l.7 0l.7 .7l.7-.7l.7-.6l.7 1.8l.7-.7l.7-.6l.7 .9l.7 .1l.7-.2l.7 1l.7-.2l.7-.2l.7-.6l.7 .3l.7 .5l.7-.4l.7 .5l.7-.4l.7 0l.7 0l.7-.8l.7 .9l.7-2.1l.7 1l.7 .9l.7 .1l.7-1.3l.7 0l.7 1.1l.7 .8l.7 0l.7-1.4l.7 1l.7 .3l.7 0l.7-.3l.7 .7l.7 0l.7 .5l.7-.3l.7-1.5l.7-.5l.7 1.6l.7 .5l.7-1.3l.7-.2l.7 1.1l.7-.2l.7 .8l.7 .1l.7-.9l.7 .8l.7-1.6l.7 .6l.7 .8l.7-.9l.7 .5l.7-.4l.7 .5l.7 .7l.7-.1l.7-.6l.7 .4l.7-.3l.7 .8l.7-.3l.7-.4l.7-1.5l.7 1.3l.7 .1l.7 .1l.7 .3l.7-.1l.7-1l.7 .8l.7-.9l.7 1l.7-.8l.7 1.5l.7-.8l.7 .3l.7-.3l.7 .3l.7-.4l.7 .3l.7 .4l.7-.1l.7 0l.7-1.8l.7 2.1l.7-.1l.7-.1l.7 0l.7-2.4l.7 1.9l.7-.9l.7 1l.7 .8l.7-.1l.7-.7l.7 .7l.7 .2l.7-.3l.7-.6l.7 1.1l.7 .2l.7-.6l.7 .4l.7 .1l.7-.1l.7-1.2l.7 .7l.7-.1l.7 .4l.7-.9l.7 0l.7 .5l.7 .1l.7-1.2l.7 1.6l.7 0l.7-.3l.7-.3l.7 .3l.7 1l.7-.9l.7 .5l.7-.2l.7-.6l.7 0l.7 .9l.7 .1l.7-1.1l.7 .4l.7 .9l.7 0l.7-.6l.7 .2l.7 0l.7 .8l.7-.3l.7-.6l.7 .8l.7-1.7l.7 .6l.7 1.4l.7-.2l.7-1.1l.7 1.5l.7-1.3l.7 .3l.7 .3l.7-.6l.7 .9l.7 .5l.7-1.1l.7 1.4l.7 1l.7-.4l.7-.3l.7 0l.7 .4l.7 .9l.7 1.3l.7-.7l.7 .8l.7-1l.7 2.3l.7-.7l.7 .6l.7 0l.7-.1l.7-.7l.7 1l.7-.6l.7 .3l.7-1.7l.7 1.6l.7 .2l.7 .2l.7-.4l.7 1l.7-1l.7 .2l.7 1.2l.7-.4l.7 .6l.7 0l.7-1.4l.7 0l.7 1.6l.7 .2l.7-1.3l.7 1.6l.7 .2l.7-.2l.7-.9l.7 .5l.7 .9l.7-.3l.7 .3l.7-.9l.7 .8l.7 .7l.7 .1l.7-1.4l.7 1.5l.7-.9l.7 .8l.7-.2l.7 1.1l.7-1.2l.7 1l.7-.6l.7 1.1l.7-.2l.7 .8l.7-.1l.7 0l.7-1l.7 1.1l.7 .2l.7-1l.7 .4l.7 .8l.7 0l.7 .3l.7-1.3l.7 .2l.7-.5l.7-.1l.7 .2l.7 1.2l.7-1.2l.7 .7l.7 .6l.7-1.1l.7-.1l.7 1.2l.7-.5l.7 .3l.7-.2l.7 .4l.7 0l.7 .6l.7-.7l.7 .2l.7-1.3l.7 1.3l.7-1.1l.7 .2l.7-.1l.7-.3l.7 .5l.7 1l.7 .1l.7-.8l.7-.6l.7 .7l.7-.2l.7-.5l.7-1l.7 .9l.7 .9l.7-.1l.7-.2l.7-.9l.7 1.2l.7-.4l.7 .4l.7-1.3l.7 1.4l.7 .4l.7 0l.7-.1l.7-.8l.7 0l.7-.1l.7 .7l.7-.5l.7 .7l.7-.6l.7 .3l.7-.3l.7-.4l.7 1l.7-1.6l.7 .2l.7 .7l.7 .7l.7-.3l.7-.1l.7 .1l.7 .4l.7-.2l.7-1l.7 1.1l.7-.3l.7 .2l.7-.1l.7-.2l.7-.1l.7-.6l.7-.6l.7 1.4l.7-.8l.7 .5l.7-.6l.7 .7l.7-1l.7 .4l.7 .7l.7-2.3l.7 1.4l.7-1.6l.7 1.3l.7-.3l.7 .9l.7-.3l.7 .2l.7-.2l.7-.8l.7 .6l.7-.4l.7-.3l.7 1l.7-.5l.7 0l.7 1l.7-.5l.7-1.9l.7 1.9l.7-.1l.7-.1l.7 .5l.7-.4l.7 .1l.7 .2l.7 .3l.7-.5l.7 .1l.7-.7l.7-.3l.7 .7l.7 .4l.7-1l.7 1.1l.7 .2l.7-.3l.7-1.6l.7 .8l.7-.2l.7 .9l.7-1.2l.7 1.1l.7-.3l.7-.4l.7 .1l.7-.7l.7-.3l.7 .3l.7 .1l.7-2l.7 .3l.7 1.2l.7 0l.7-.4l.7-1.1l.7 .4l.7 .3l.7-.9l.7 .6l.7 .2l.7 0l.7 .4l.7-1.9l.7 1.2l.7-.2l.7 .1l.7-.4l.7 .5l.7-.9l.7 .9l.7-2l.7 1.6l.7 .4l.7-.5l.7 .3l.7-.5l.7 1l.7-1.2l.7-.1l.7-.2l.7-.1l.7 .7l.7 .6l.7 .1l.7-.3l.7 .4l.7-.6l.7-.1l.7 .3l.7 0l.7-.6l.7 .6l.7 .1l.7 0l.7 .9l.7 .2l.7-1.6l.7 .2l.7 1.4l.7-.3l.7 .9l.7-.8l.7 .9l.7-.6l.7 .4l.7-.3l.7-.8l.7 1.2l.7-.8l.7-1.1l.7 1.6l.7-1.7l.7 2.6l.7 .2l.7-.2l.7-.6l.7 .2l.7-1.2l.7 1l.7 .7l.7 .4l.7-2.5l.7 2.3l.7 .4l.7-.7l.7 .5l.7-.3l.7 .9l.7-.5l.7 .1l.7 .5l.7-.1l.7-.1l.7-.2l.7 .1l.7-.7l.7 .8l.7 .2l.7-.5l.7-.4l.7 .3l.7-1.5l.7 .4l.7-.9l.7 1.2l.7-.5l.7 1.1l.7-.5l.7 .1l.7-1.1l.7 1.4l.7-1.7l.7 1.1l.7 .3l.7-.8l.7 .6l.7 .3l.7-.3l.7-.7l.7 1l.7-.8l.7 .7l.7 0l.7-1.2l.7 1.1l.7 0l.7 .2l.7-.5l.7 .9l.7-.9l.7-.2l.7 .2l.7-.1l.7 .5l.7 .2l.7-.6l.7 .7l.7 .1l.7 .9l.7-.7l.7-.9l.7 1.5l.7 0l.7-2.4l.7 2.1l.7-1.2l.7 1.3l.7-1.2l.7 .8l.7 .1l.7 0l.7 .1l.7-.7l.7 1l.7-.6l.7 .4l.7-1l.7 1.3l.7 .1l.7-.3l.7-1.4l.7 2l.7-.3l.7 .1l.7-2l.7 2.1l.7 0l.7-.1l.7-1.6l.7 .9l.7 .2l.7-.6l.7 1.2l.7 .1l.7-.9l.7 .4l.7-1.5l.7 2.4l.7-.2l.7-.6l.7 .4l.7-.5l.7 1.1l.7-.8l.7 .4l.7 .5l.7-1.2l.7 1.3l.7-.8l.7-.4l.7 .5l.7 0l.7 .9l.7-.3l.7-.6l.7 1l.7 .2l.7-.3l.7 .4l.7-.4l.7 .1l.7 .3l.7-.4l.7 0l.7 .4l.7-.6l.7 .8l.7 .1l.7-.8l.7 .5l.7 .2l.7 .2l.7-.1l.7 .9l.7-1.1l.7 .2l.7 .2l.7 .2l.7-.4l.7 1.2l.7-.4l.7-.5l.7 .1l.7 0l.7 1l.7-.4l.7-1.4l.7 1.8l.7-.6l.7 .9l.7 0l.7-.3l.7 .2l.7-.8l.7 0l.7 .5l.7-.6l.7 .8l.7 .2l.7 .6l.7-1.9l.7 2.6l.7 0l.7-1.4l.7 .9l.7-.4l.7-.3l.7 .9l.7 0l.7 .7l.7-.1l.7 0l.7 .1l.7-1.4l.7 .5l.7 1.1l.7-.2l.7-1.1l.7 .7l.7-1.2l.7-1l.7 1.1l.7 1.7l.7 0l.7 0l.7-.8l.7 .8l.7-.4l.7-.5l.7 1.2l.7-2.3l.7 2.2l.7-1.8l.7 2l.7-.1l.7-.9l.7 .8l.7-.1l.7 .4l.7 .5l.7-1.1l.7 .9l.7 .3l.7 .2l.7-.2l.7-.9l.7 .1l.7 1.6l.7-.2l.7-.1l.7 .3l.7-.3l.7-.2l.7 0l.7-.7l.7 .4l.7 .9l.7 .2l.7-1l.7-.4l.7 1.3l.7 .1l.7 .2l.7-2.6l0 9.7l-.7 0l-.7-.6l-.7 .1l-.7 1.1l-.7-1.2l-.7 1.1l-.7-.9l-.7-.3l-.7 .4l-.7-.7l-.7-.5l-.7 .5l-.7 1l-.7-.3l-.7-1.2l-.7 .3l-.7-.3l-.7 .8l-.7-1.1l-.7 0l-.7 .4l-.7-.5l-.7 .3l-.7-.2l-.7-.3l-.7 .1l-.7 1.4l-.7-2l-.7 .3l-.7 .9l-.7-1.4l-.7 1.7l-.7-1.6l-.7 .5l-.7-.4l-.7-.2l-.7 .4l-.7-.4l-.7 .8l-.7 .6l-.7-1.6l-.7 0l-.7 1.4l-.7-1.2l-.7 .8l-.7-.3l-.7-.4l-.7 .1l-.7-.4l-.7 .8l-.7 .5l-.7-.5l-.7 .5l-.7-1.5l-.7-.5l-.7 .8l-.7-.2l-.7 .2l-.7 .4l-.7-1.3l-.7 .4l-.7 .1l-.7-.4l-.7 .9l-.7-1.4l-.7 1.7l-.7-1.2l-.7-1.1l-.7 1.7l-.7-1.7l-.7-.2l-.7 .2l-.7 .4l-.7-.3l-.7 .8l-.7-.3l-.7-1l-.7-.1l-.7 1.8l-.7-1.5l-.7 .2l-.7-.4l-.7 1.1l-.7 0l-.7-.7l-.7 0l-.7-1.3l-.7 .1l-.7 1.2l-.7-.2l-.7-1.2l-.7 .6l-.7 1.4l-.7-2l-.7 .2l-.7 1.3l-.7-1.3l-.7 .2l-.7-.6l-.7 .2l-.7-.1l-.7-.7l-.7 .7l-.7-.2l-.7 1.4l-.7-1.1l-.7-.8l-.7-.4l-.7 .4l-.7 0l-.7 .2l-.7-.7l-.7-.3l-.7 1.2l-.7-.8l-.7-.2l-.7 .7l-.7 .2l-.7-.7l-.7-.5l-.7 .4l-.7 .2l-.7-.5l-.7 0l-.7 .6l-.7 .5l-.7-.9l-.7-.6l-.7 .2l-.7-.4l-.7 .9l-.7-.4l-.7-.2l-.7 .6l-.7 0l-.7-.5l-.7 .2l-.7 .2l-.7 .4l-.7-.4l-.7-.8l-.7 .1l-.7 0l-.7 .5l-.7 1.1l-.7-.6l-.7-1l-.7-.7l-.7 1.5l-.7-.2l-.7-.8l-.7-.7l-.7 .6l-.7 1.3l-.7-1.8l-.7 .5l-.7 .8l-.7-1.1l-.7 .6l-.7 0l-.7-.7l-.7 .4l-.7 .3l-.7-.7l-.7 .1l-.7-.3l-.7 .2l-.7 0l-.7 .7l-.7-.2l-.7-.7l-.7 .9l-.7-1l-.7-.3l-.7 1.2l-.7-1l-.7-.1l-.7-.5l-.7 2.1l-.7-1.8l-.7-.1l-.7 0l-.7 .3l-.7 .4l-.7-.2l-.7-.2l-.7-.3l-.7 0l-.7 .3l-.7-.3l-.7-.1l-.7 2l-.7-1.1l-.7-.5l-.7 .2l-.7 .5l-.7 .3l-.7-.6l-.7-.7l-.7 .7l-.7-.3l-.7 0l-.7 1.5l-.7-1.1l-.7 .4l-.7 1.9l-.7-2.3l-.7 0l-.7 .3l-.7 .5l-.7-.2l-.7-.4l-.7 .6l-.7-.1l-.7 1.2l-.7-.5l-.7-1.2l-.7 1l-.7-.7l-.7-.3l-.7 .8l-.7 .4l-.7-.5l-.7-.5l-.7-1.2l-.7 .1l-.7-.2l-.7 .3l-.7 .6l-.7 0l-.7 .3l-.7-.9l-.7 .4l-.7-1.1l-.7 .4l-.7-.5l-.7 .2l-.7 .2l-.7 1.3l-.7-.6l-.7-.5l-.7 .1l-.7 .1l-.7-.9l-.7-.3l-.7 .9l-.7-.6l-.7 1.8l-.7-2.3l-.7 1.6l-.7-.8l-.7-1.4l-.7 1l-.7-1.1l-.7 0l-.7-.4l-.7 .1l-.7 0l-.7-.2l-.7 2.1l-.7-1.2l-.7-1.3l-.7 .2l-.7 .7l-.7 1.1l-.7-1.4l-.7 .4l-.7-.2l-.7 .3l-.7 1l-.7-1l-.7 1.1l-.7-1.5l-.7-.2l-.7-.1l-.7 1.1l-.7-.8l-.7 1.1l-.7-.7l-.7 0l-.7-.4l-.7 .9l-.7 1l-.7-1.2l-.7 .2l-.7-.4l-.7-.2l-.7 .7l-.7 .2l-.7 .5l-.7-.7l-.7 .8l-.7-.5l-.7 .1l-.7 .4l-.7 .2l-.7-.2l-.7 2.1l-.7-1.2l-.7 .7l-.7-.2l-.7-.2l-.7 .4l-.7-.7l-.7 0l-.7 .7l-.7-.8l-.7 1.3l-.7-.4l-.7-.1l-.7-.3l-.7 1.2l-.7 0l-.7-1.1l-.7 .4l-.7-.3l-.7 .1l-.7-.2l-.7 .9l-.7-1.6l-.7 .6l-.7 1.2l-.7-.4l-.7-1.1l-.7 .7l-.7-.6l-.7 1l-.7-1.1l-.7 .6l-.7-.1l-.7-.1l-.7-.3l-.7 .5l-.7-.7l-.7 .4l-.7 .4l-.7-.8l-.7 .2l-.7 .8l-.7-.4l-.7-.6l-.7 .5l-.7-.1l-.7 1.5l-.7-1.1l-.7 .1l-.7 0l-.7 .6l-.7-.6l-.7 1l-.7-.5l-.7-.2l-.7-.5l-.7 1.5l-.7-.4l-.7-.8l-.7 .7l-.7 .1l-.7-.7l-.7 1.4l-.7 .7l-.7-1.9l-.7 1.3l-.7-.6l-.7-.5l-.7-.1l-.7-.3l-.7 0l-.7 .1l-.7 .5l-.7-.4l-.7 .8l-.7-1.1l-.7 1.2l-.7-1.1l-.7 .6l-.7-.9l-.7 0l-.7 .2l-.7 0l-.7 0l-.7-.1l-.7 .3l-.7 2l-.7-2l-.7 .9l-.7-1.1l-.7 .1l-.7 1l-.7 .5l-.7-1.6l-.7 .1l-.7 .9l-.7-.2l-.7-.2l-.7-.3l-.7-.1l-.7-.1l-.7 .5l-.7 1l-.7-1.4l-.7-.1l-.7 1l-.7-.6l-.7-.8l-.7 .2l-.7 .4l-.7 .1l-.7 1.5l-.7-1l-.7 .4l-.7-1l-.7 .2l-.7 .7l-.7 0l-.7-.9l-.7 .8l-.7-.9l-.7 1.1l-.7-1.5l-.7 0l-.7 .8l-.7-.5l-.7 .5l-.7 .4l-.7-.6l-.7 .1l-.7 .2l-.7-.8l-.7 .8l-.7 .7l-.7-1.6l-.7 .9l-.7-1.1l-.7 .3l-.7 .9l-.7-.9l-.7 0l-.7-.6l-.7 .5l-.7-.7l-.7 .1l-.7 .8l-.7-.6l-.7-.7l-.7 0l-.7 0l-.7-.4l-.7 .1l-.7 .1l-.7 1l-.7-1.8l-.7 .8l-.7-.5l-.7-.9l-.7 1.9l-.7-2.1l-.7 .2l-.7-.2l-.7 .4l-.7-.1l-.7-.5l-.7-.3l-.7 .8l-.7 .5l-.7-1.4l-.7 1.1l-.7-1l-.7-.5l-.7 .4l-.7 0l-.7-.8l-.7-.2l-.7 1.6l-.7-1.8l-.7 .7l-.7 .3l-.7-1.3l-.7 0l-.7 1l-.7-.4l-.7-.2l-.7-.6l-.7-.1l-.7-.3l-.7 1l-.7-.8l-.7 .6l-.7-.8l-.7 1l-.7-.3l-.7-.1l-.7-1.6l-.7-.3l-.7 0l-.7-.4l-.7-.1l-.7-.3l-.7-.9l-.7 .8l-.7-.5l-.7-1.1l-.7-.2l-.7-.2l-.7 .3l-.7-.9l-.7 .5l-.7 1.8l-.7-1.8l-.7 0l-.7-.6l-.7 .7l-.7 .1l-.7-.2l-.7 1.9l-.7-1.9l-.7 .3l-.7-.6l-.7 .7l-.7-.1l-.7-1.1l-.7 .9l-.7-1.3l-.7 0l-.7 .2l-.7-.1l-.7 .2l-.7-.2l-.7-.3l-.7 .2l-.7-.1l-.7 .2l-.7 .1l-.7 .2l-.7 0l-.7-1l-.7 .8l-.7-.7l-.7 .4l-.7-.8l-.7 .5l-.7 1.7l-.7-1.7l-.7-.2l-.7 .1l-.7 1l-.7-.5l-.7 .5l-.7-.7l-.7-.1l-.7 .5l-.7-.1l-.7 .2l-.7 0l-.7 .8l-.7-1.2l-.7-.2l-.7-.4l-.7-.3l-.7 .7l-.7-.2l-.7 .1l-.7 .4l-.7 0l-.7-.1l-.7 .1l-.7 0l-.7-1.2l-.7 1l-.7 0l-.7-.9l-.7 .7l-.7-.7l-.7 0l-.7 .4l-.7 0l-.7 .1l-.7 1.4l-.7-1l-.7-.4l-.7-.6l-.7-.3l-.7 .1l-.7 .4l-.7-.2l-.7 .1l-.7 .4l-.7-.4l-.7 .8l-.7-.6l-.7-.2l-.7 .1l-.7 .3l-.7 .3l-.7-.7l-.7 .2l-.7 .5l-.7 .6l-.7-.8l-.7 .6l-.7 .1l-.7-1.7l-.7 .5l-.7 .1l-.7-.2l-.7 1l-.7-.6l-.7 .6l-.7-1.1l-.7 .2l-.7 .3l-.7 3.2l-.7-2.9l-.7-.1l-.7-.5l-.7 .7l-.7 1.1l-.7-1.4l-.7-.7l-.7 0l-.7-.1l-.7 0l-.7 .8l-.7-.3l-.7-1l-.7 1.5l-.7-.6l-.7 .1l-.7-1.5l-.7 0l-.7 .2l-.7 1.2l-.7-1l-.7-.5l-.7 1.3l-.7 .6l-.7-1.2l-.7 .6l-.7-.3l-.7-.9l-.7 .3l-.7 0l-.7 1.5l-.7-1l-.7-.7l-.7 1.3l-.7-1.3l-.7 1.5l-.7-.1l-.7-1.9l-.7 .7l-.7-.9l-.7 1.2l-.7-.6l-.7-.2l-.7 .1l-.7 1.2l-.7-1.7l-.7 .1l-.7 .8l-.7-.6l-.7-.8l-.7 2.3l-.7-1.3l-.7 0l-.7-.3l-.7-.5l-.7 .6l-.7-.8l-.7 .1l-.7-.3l-.7 .7l-.7 .9l-.7-.6l-.7-.3l-.7-.5l-.7 .8l-.7 .4l-.7-1.1l-.7-.4l-.7 .5l-.7 .9l-.7-.7l-.7-.1l-.7 0l-.7 .4l-.7-.1l-.7-.1l-.7-.3l-.7-.6l-.7 1.6l-.7-1.7l-.7 0l-.7 .4l-.7-.6l-.7 .5l-.7 0l-.7 .3l-.7-.7l-.7 .2l-.7-1l-.7 0l-.7-.1l-.7 .9l-.7-.6l-.7-.7l-.7 .3l-.7 1l-.7-.9l-.7 0l-.7 1.1l-.7-.5l-.7-.6l-.7 0l-.7 .3l-.7-.3l-.7-.3l-.7 .7l-.7 .1l-.7 .7l-.7 .4l-.7-1.4l-.7-.1l-.7-.3l-.7 .9l-.7 1.2l-.7-1.1l-.7-.3l-.7 .9l-.7-.2l-.7 .5l-.7-.2l-.7-1.2l-.7 .9l-.7 .5l-.7-.7l-.7-.2l-.7-.2l-.7-.1l-.7-.2l-.7-.1l-.7 .6l-.7-.3l-.7-.3l-.7 .6l-.7 1.9l-.7-2.1l-.7-.3l-.7 .1l-.7-.6l-.7-.3l-.7 1.6l-.7-.9l-.7 0l-.7 .5l-.7-1.5l-.7 1.5l-.7-.3l-.7-.3l-.7-1l-.7 .6l-.7-.4l-.7-.3l-.7 1.1l-.7-.9l-.7 .1l-.7 .2l-.7 .1l-.7-.5l-.7 .8l-.7-1l-.7 1.1l-.7-.1l-.7 .3l-.7-1.4l-.7 0l-.7 .3l-.7-.5l-.7 1.2l-.7-.9l-.7 .4l-.7-.1l-.7 .5l-.7 .6l-.7-1.3l-.7 .1l-.7-.6l-.7 .6l-.7-.8l-.7 .7l-.7-.7l-.7 .4l-.7-.5l-.7 1.5l-.7-.9l-.7-.7l-.7 .9l-.7-.8l-.7 1.7l-.7-1.8l-.7-.1l-.7 .5l-.7-.1l-.7 .1l-.7-.3l-.7-.1l-.7 .1l-.7 .4l-.7-.6l-.7 0l-.7 .7l-.7 .6l-.7-1.9l-.7 1.3l-.7-1.7l-.7 .7l-.7-.4l-.7-.2l-.7 1.7l-.7-1.8l-.7 .3l-.7-.2l-.7 1l-.7-.8l-.7 .1l-.7-.1l-.7 3.2l-.7-2.7l-.7-.6l-.7 0l-.7 1.8l-.7-1.9l-.7 .6l-.7-.5l-.7-.2l-.7 0l-.7-.1l-.7-.1l-.7-.2l-.7 .4l-.7-.6l-.7 .5l-.7-.5l-.7-.2l-.7-.3l-.7 .1l-.7 .4z" fill="#000000" stroke="none"/>
<line x1="158.3" y1="433.8" x2="750.2" y2="457.5" stroke="#000000" stroke-width="2.4"/>
<path d="M157.8 432.2l.7-1.1l.7 1.2l.7-1.5l.7 1.5l.7-.3l.7-.7l.7 1.2l.7-1.3l.7 1l.7 .1l.7-1.2l.7 .6l.7 1.1l.7-.1l.7-.3l.7 .3l.7 .4l.7-.1l.7-.8l.7 .9l.7-.7l.7-1.6l.7 2.5l.7-.5l.7-.2l.7 1.1l.7-1.5l.7 1.6l.7 .3l.7-.2l.7-.2l.7 .4l.7-.4l.7 .3l.7 .3l.7 0l.7 .4l.7-.5l.7 .5l.7 .4l.7-1.1l.7 1.3l.7 .2l.7-.1l.7-.2l.7 .6l.7 .2l.7-.8l.7 .6l.7-.4l.7 .2l.7-2.2l.7 2.4l.7 .8l.7-.1l.7 .6l.7-.4l.7 .2l.7 .4l.7 0l.7 0l.7-1.7l.7-.2l.7 .9l.7 .8l.7-.1l.7-.5l.7 1l.7-1.1l.7 1.5l.7-.2l.7-.3l.7 .6l.7-.2l.7-.7l.7 .8l.7 0l.7 .1l.7-1.7l.7 1l.7 .8l.7 .6l.7-1.6l.7 1.2l.7-1.3l.7 .9l.7 .5l.7-1.1l.7 .3l.7 1l.7 0l.7-1.4l.7 .1l.7 1l.7 .7l.7 .3l.7 0l.7-1.4l.7 .9l.7 .4l.7-.9l.7 .4l.7 .1l.7 .1l.7 .6l.7-1.5l.7 .9l.7 .9l.7 .3l.7-.6l.7-.2l.7 1l.7 0l.7-1.3l.7 1.1l.7-.7l.7 .7l.7-.7l.7 1.2l.7 .3l.7-1.1l.7-.3l.7-.4l.7 1.7l.7 .3l.7-.2l.7-.5l.7 .1l.7-.1l.7 1.3l.7 0l.7-1.5l.7 1.9l.7-2.5l.7 2.2l.7-.1l.7-.3l.7-.2l.7-.6l.7-1.4l.7 2.2l.7-1.4l.7 .2l.7 1.5l.7-.6l.7 .4l.7 .1l.7-1.2l.7 1.2l.7 .1l.7-1.3l.7 1.4l.7 0l.7 .2l.7 .6l.7 0l.7-.8l.7 .8l.7-2.1l.7 1.4l.7 .8l.7-1.2l.7 .2l.7 1l.7-.2l.7-.2l.7 0l.7-.3l.7 .2l.7 .1l.7 .2l.7 .5l.7 .1l.7-.1l.7 .4l.7-.1l.7-1.2l.7 .6l.7-1.3l.7 .9l.7 .3l.7-.9l.7 .8l.7-.3l.7 1.3l.7 0l.7 .1l.7 .3l.7-.1l.7 0l.7-.2l.7 .4l.7-.2l.7 .6l.7 0l.7-.4l.7 .5l.7 .2l.7-.1l.7-.2l.7-1.9l.7 1.7l.7 .5l.7 0l.7 .2l.7-.5l.7 .6l.7-.6l.7-.9l.7 .7l.7 1.1l.7-.8l.7 .8l.7-.7l.7-1l.7 1.7l.7 .1l.7 .1l.7-.5l.7-1.5l.7 2.1l.7-.5l.7-.2l.7-.7l.7 1.1l.7-2.1l.7 2.1l.7 0l.7 .5l.7-.8l.7 .1l.7 .1l.7 0l.7 .3l.7 .2l.7 .7l.7-1.7l.7 1.4l.7-.3l.7-.8l.7 1l.7-.5l.7 .8l.7-.1l.7-1.2l.7 .2l.7 .6l.7-.4l.7 .9l.7 0l.7 0l.7-1.4l.7 1.5l.7-.5l.7-.3l.7 .5l.7-.4l.7 .2l.7-.6l.7 .6l.7 .5l.7 .1l.7-.4l.7-.6l.7 .5l.7 .6l.7-.1l.7 .3l.7 .3l.7 .2l.7-1.8l.7 .9l.7 1l.7-.1l.7 .1l.7-1l.7 .7l.7-.3l.7 .6l.7-.4l.7-.3l.7 .9l.7-.7l.7 1.2l.7-.6l.7 .5l.7 0l.7 .5l.7-1.5l.7-1l.7 .7l.7 2.4l.7-.7l.7-.7l.7 1.3l.7-1.7l.7 1.8l.7-1.1l.7 .1l.7-1.3l.7 2.4l.7-.5l.7 .4l.7 .3l.7-.7l.7-.8l.7 1.2l.7-.3l.7-.4l.7 .8l.7 .4l.7 .4l.7-.8l.7 .7l.7-2.1l.7 1.2l.7-1.3l.7 2l.7 .3l.7 .1l.7-1.2l.7 .7l.7 .1l.7-.3l.7-.8l.7 1l.7-.7l.7-.8l.7 .6l.7-.6l.7 2.2l.7-.9l.7 .5l.7 .1l.7 1.1l.7-.7l.7 1.1l.7-.2l.7-1.1l.7 .5l.7 .7l.7 .4l.7-.1l.7-1.2l.7 .2l.7 .6l.7-1l.7 1.7l.7 .2l.7-1.3l.7 1l.7 .1l.7-1.8l.7 1.8l.7-.5l.7 1.1l.7-.1l.7-1l.7 .6l.7 .7l.7-.1l.7 .1l.7-1.1l.7 1.1l.7-.9l.7 .5l.7-.5l.7 .6l.7-.4l.7 .2l.7 1l.7-.4l.7-.2l.7 .1l.7-.9l.7 1.3l.7 .1l.7-1.7l.7 .5l.7 1l.7 .3l.7-.9l.7 .8l.7 .3l.7-1.6l.7 1.1l.7 .2l.7-.4l.7 .5l.7-.4l.7-.2l.7 .5l.7 .2l.7-1.4l.7 .6l.7 1.1l.7-1.1l.7 1.3l.7-2.1l.7 1.6l.7 .4l.7 .4l.7-2l.7 1.3l.7 .5l.7-.5l.7-.1l.7 1.2l.7-.5l.7 .3l.7 .1l.7 .6l.7-.3l.7 .1l.7 .2l.7-1.1l.7 1.1l.7-.4l.7 .2l.7 .1l.7 .6l.7-.3l.7 .5l.7-1.7l.7 .7l.7 1.5l.7-1.2l.7 1.2l.7-.4l.7-.8l.7 1.1l.7-1.2l.7 1.5l.7-1.3l.7 .8l.7 .1l.7-.8l.7 .5l.7-1l.7 1.5l.7-1.9l.7 .8l.7 0l.7 1.6l.7-1.6l.7 1.5l.7-1.1l.7 .5l.7-.3l.7-.7l.7 1.2l.7-1.1l.7-.8l.7-.4l.7 2.3l.7-1.3l.7-.2l.7 .4l.7-.7l.7 1l.7-.2l.7-.3l.7 .8l.7-2.3l.7 2.1l.7 0l.7 .3l.7-.4l.7 .1l.7-.8l.7 1.3l.7-.7l.7-.3l.7 .7l.7-.3l.7 .2l.7 .6l.7 0l.7-.4l.7-1.6l.7 .9l.7 .8l.7-.2l.7 .6l.7-.6l.7 .9l.7-1.5l.7 .9l.7 .7l.7-.3l.7 .4l.7 .4l.7-.6l.7-.2l.7 1.1l.7-.1l.7 .8l.7-.3l.7-.7l.7 .8l.7 .3l.7-2l.7 2.5l.7-.1l.7 .4l.7 0l.7-1.4l.7-1.3l.7 1l.7 1l.7-.7l.7 1.4l.7-1.6l.7 1.4l.7-.3l.7 .5l.7-.7l.7 .1l.7-.8l.7-.3l.7 1l.7 0l.7-.1l.7-.3l.7-.7l.7 1l.7-.4l.7-.5l.7-.2l.7 .6l.7-.9l.7 .7l.7-.6l.7 0l.7 .9l.7 .2l.7-.2l.7-.1l.7-.4l.7 .4l.7-.3l.7-.1l.7-.3l.7 .1l.7-1.1l.7 1.8l.7 .2l.7-.6l.7 .2l.7-1.3l.7 1.4l.7-.5l.7 0l.7 0l.7 .1l.7-.2l.7-.1l.7 .6l.7-1.9l.7 .6l.7 .7l.7-1l.7 1.2l.7-.4l.7 .4l.7-1.3l.7 1.6l.7-2.8l.7 .7l.7 .9l.7 .6l.7 0l.7 .4l.7 0l.7-.1l.7 .8l.7-.2l.7 .4l.7 0l.7-.9l.7-.6l.7 1.8l.7-.1l.7-.9l.7-.6l.7 .6l.7 0l.7-.1l.7 1.5l.7-1.5l.7 1.7l.7 .2l.7-.8l.7 .7l.7 .2l.7-.1l.7 .3l.7-1.2l.7 1.1l.7 .2l.7 0l.7-.8l.7 .4l.7 .5l.7-.8l.7-.1l.7 .7l.7 .4l.7-.4l.7 .5l.7-.5l.7 1l.7-.6l.7-.8l.7 .8l.7 .2l.7-1.3l.7 1.6l.7 .5l.7-.1l.7-1l.7 1.2l.7-.6l.7 .9l.7-.4l.7 .3l.7-.7l.7 1.2l.7-1.6l.7 1.3l.7-.4l.7-.3l.7-.7l.7 1.5l.7-.3l.7 .2l.7-1l.7 .4l.7 .5l.7-.7l.7 .3l.7 0l.7 .4l.7 .1l.7-.4l.7 .3l.7-1.2l.7 .5l.7-.9l.7 1.7l.7-.6l.7 .7l.7 .4l.7-.2l.7 .6l.7-.9l.7-.8l.7 .8l.7 .7l.7-.7l.7 .7l.7-.1l.7 .4l.7 .2l.7-.3l.7 .3l.7-1.3l.7 1l.7-1.5l.7 1.9l.7-.9l.7 .2l.7-.1l.7 .1l.7 .5l.7-.9l.7 .3l.7-.6l.7 .4l.7-.2l.7 1.2l.7-.1l.7 0l.7-1.3l.7-.2l.7-.1l.7 1.5l.7 .2l.7-1l.7 1l.7-.1l.7-.5l.7 .6l.7-.4l.7-1.6l.7 2.1l.7-1.1l.7 .6l.7 .3l.7 .1l.7-.9l.7 .2l.7 0l.7-.2l.7 .9l.7-.7l.7 .7l.7-.2l.7-.1l.7-.2l.7 1.4l.7-.7l.7-.8l.7 .6l.7 1l.7-.4l.7 .3l.7 .5l.7-1.4l.7 .6l.7 .8l.7 .1l.7 .2l.7 .1l.7-.1l.7 .4l.7-.3l.7 .2l.7 .1l.7-.2l.7-.9l.7 1.1l.7 .2l.7-.4l.7 .6l.7 .4l.7 .3l.7-1.9l.7 1.8l.7-.2l.7 .3l.7-2l.7 1.3l.7 .9l.7-1l.7-.1l.7 .3l.7 .4l.7 .3l.7-.2l.7-1.2l.7 1.5l.7-.5l.7 .1l.7-.1l.7-.9l.7 1.2l.7-.2l.7 .1l.7-.9l.7-.4l.7 .7l.7 .8l.7 .4l.7-.4l.7-.2l.7 .8l.7 .1l.7-.4l.7 0l.7-.1l.7 .2l.7 0l.7-1l.7 1l.7-.1l.7 .4l.7-.5l.7 0l.7 1.1l.7-1.2l.7 1.1l.7-.3l.7-1.5l.7 1.1l.7-.1l.7 .6l.7-1.1l.7 1.3l.7 .3l.7-1.5l.7-.4l.7 1.7l.7 0l.7-1.1l.7 .6l.7-1.2l.7 1.1l.7-.2l.7 .6l.7-.2l.7-.3l.7 .6l.7 0l.7-.2l.7-.3l.7 .7l.7-.7l.7-.7l.7 .2l.7 1.2l.7 .6l.7-.2l.7 .1l.7-.2l.7-.1l.7 0l.7 .4l.7-1l.7 .2l.7-.3l.7 .9l.7 .1l.7 .2l.7 .3l.7 .4l.7-.1l.7-.2l.7-.4l.7-.8l.7 .9l.7 .8l.7-.7l.7 .2l.7 .4l.7-.3l.7 .4l.7-1.5l.7 1l.7 .4l.7 .1l.7-1.9l.7 1.6l.7 .6l.7-1.7l.7 1.3l.7 .3l0 6.5l-.7 1.5l-.7-1.6l-.7 .7l-.7 1l-.7-1.6l-.7 .5l-.7-.5l-.7 .1l-.7-.5l-.7 1l-.7-.7l-.7 .1l-.7 1.6l-.7-2l-.7-.2l-.7 .4l-.7-.4l-.7-.1l-.7 1.3l-.7-.4l-.7-.7l-.7 .7l-.7-1.2l-.7 .1l-.7 .7l-.7-.6l-.7-.1l-.7 1.2l-.7-1l-.7-.8l-.7 1.5l-.7-.6l-.7-.9l-.7 .1l-.7 .1l-.7 .6l-.7-.3l-.7-.2l-.7 1.1l-.7-1.5l-.7 .9l-.7-1.1l-.7 1.5l-.7-1.5l-.7 0l-.7 2l-.7-1.7l-.7-.1l-.7-.1l-.7 .5l-.7-.9l-.7 .5l-.7-.2l-.7-.4l-.7 .4l-.7 .1l-.7 .6l-.7 .6l-.7-1.6l-.7-.1l-.7 0l-.7 .1l-.7 0l-.7 .2l-.7 .7l-.7-.8l-.7 .3l-.7 .4l-.7-.6l-.7 .4l-.7-.2l-.7-.8l-.7 .9l-.7-.4l-.7 .6l-.7-1l-.7 .4l-.7-.4l-.7 0l-.7 .3l-.7-.3l-.7 1.4l-.7-1.8l-.7 1.9l-.7-.5l-.7-1.7l-.7 1.2l-.7-1.2l-.7 .1l-.7 0l-.7-.2l-.7 .7l-.7 1.5l-.7-2l-.7-.2l-.7 .1l-.7-.1l-.7 .3l-.7-.5l-.7 1l-.7 0l-.7-1l-.7 2l-.7-1.4l-.7-.3l-.7 .5l-.7-1l-.7 0l-.7 .4l-.7 .5l-.7-1l-.7 1.1l-.7-1.4l-.7 .3l-.7 .4l-.7-1.1l-.7 1.3l-.7-1.3l-.7 0l-.7 1l-.7 .4l-.7-1.1l-.7-.3l-.7-.1l-.7-.4l-.7-.3l-.7 0l-.7 .8l-.7 .1l-.7-1.1l-.7-.3l-.7 .3l-.7 0l-.7 .6l-.7-.2l-.7 .3l-.7 .1l-.7-1.7l-.7 .2l-.7-.3l-.7 .5l-.7-.9l-.7 .5l-.7-.1l-.7-.3l-.7-.2l-.7 .2l-.7 .3l-.7 2.1l-.7-1.5l-.7-.1l-.7-.6l-.7 1.1l-.7-1.2l-.7-.3l-.7 .9l-.7-.5l-.7 .7l-.7-.6l-.7 .2l-.7 .9l-.7-1.1l-.7 .9l-.7-1.4l-.7 2l-.7-.8l-.7 .6l-.7-1.1l-.7 0l-.7-.2l-.7-.3l-.7 1l-.7 .4l-.7-1.1l-.7-.1l-.7 .4l-.7 .2l-.7-1l-.7 0l-.7 .3l-.7 1.1l-.7-.7l-.7-.4l-.7 1l-.7-.4l-.7 .1l-.7-1l-.7 .7l-.7 .3l-.7 .8l-.7-1l-.7-.1l-.7 .5l-.7-.3l-.7-1.2l-.7 .7l-.7-.5l-.7 .3l-.7-1.1l-.7 .2l-.7-.1l-.7 .5l-.7 .1l-.7-.6l-.7 .3l-.7 .3l-.7-.7l-.7 .1l-.7 .2l-.7 0l-.7-.1l-.7-.1l-.7 .1l-.7 .5l-.7 .1l-.7-.4l-.7 .1l-.7 .1l-.7 .7l-.7-.8l-.7-.6l-.7 .9l-.7-.7l-.7 1.1l-.7-.6l-.7-1l-.7 .1l-.7-.1l-.7 .3l-.7 .7l-.7-.6l-.7 0l-.7-.5l-.7-.3l-.7-.3l-.7 0l-.7 .3l-.7-.4l-.7 1.1l-.7-.5l-.7 .7l-.7-.6l-.7-.3l-.7-.5l-.7-.6l-.7-.1l-.7 .8l-.7-.5l-.7-.5l-.7 .2l-.7 .6l-.7 .7l-.7-1.4l-.7 .9l-.7-.1l-.7-1.1l-.7 1.1l-.7-1l-.7 .9l-.7-.9l-.7-.6l-.7 0l-.7 1.2l-.7-.4l-.7-.1l-.7 .6l-.7-1.1l-.7-.4l-.7 .4l-.7-1.1l-.7 .4l-.7 .8l-.7-1.4l-.7-.1l-.7 1.9l-.7-1.1l-.7-.7l-.7 1.6l-.7-1.4l-.7-.2l-.7 .2l-.7 .2l-.7 .8l-.7-.6l-.7-1.1l-.7 .8l-.7 .4l-.7-.9l-.7 .7l-.7 0l-.7 .5l-.7-.7l-.7 .1l-.7-.3l-.7 1.8l-.7-1.6l-.7 .3l-.7 .3l-.7-.1l-.7 .5l-.7-.7l-.7-.4l-.7-.1l-.7 1.7l-.7-1.8l-.7 .5l-.7 .1l-.7-.5l-.7 0l-.7 .2l-.7 .1l-.7 .6l-.7-.5l-.7-.4l-.7 .1l-.7 .1l-.7 .8l-.7-1.2l-.7 1.5l-.7-1.2l-.7 1.6l-.7-.1l-.7-1.1l-.7 0l-.7 0l-.7 .6l-.7-.7l-.7 1.2l-.7 .5l-.7-1.2l-.7 .5l-.7 0l-.7 1.5l-.7-.9l-.7 .1l-.7-.9l-.7 .7l-.7 .4l-.7-1.2l-.7 .3l-.7 1.4l-.7-.9l-.7-.3l-.7-.4l-.7-.7l-.7-.2l-.7 .5l-.7 1.4l-.7-1.5l-.7-.2l-.7-.3l-.7 .6l-.7 .4l-.7-1.8l-.7 .8l-.7-.9l-.7-.2l-.7-.2l-.7 .3l-.7-.4l-.7-.4l-.7 1l-.7-.2l-.7-1.1l-.7 .7l-.7-.4l-.7 .2l-.7 .6l-.7-1l-.7 .2l-.7 .3l-.7-.1l-.7 .2l-.7 .9l-.7-1.5l-.7 .8l-.7-.8l-.7-.2l-.7 .4l-.7 1.6l-.7-.8l-.7-1.3l-.7 .8l-.7-.7l-.7 .4l-.7 .6l-.7-.6l-.7 0l-.7-.1l-.7 1.7l-.7-1.8l-.7 .4l-.7 0l-.7 .9l-.7-.2l-.7-1.1l-.7 .6l-.7-.2l-.7 .5l-.7-.2l-.7 .8l-.7-1l-.7 .2l-.7-.5l-.7 .4l-.7-.2l-.7-.4l-.7 1.2l-.7-.9l-.7 0l-.7-.5l-.7 1.2l-.7 .2l-.7-.8l-.7 .5l-.7-.1l-.7-.6l-.7 .4l-.7 1l-.7 .1l-.7-1.1l-.7 .2l-.7 1.1l-.7-1.7l-.7 .2l-.7-.5l-.7 .4l-.7-.6l-.7 0l-.7-.6l-.7 2l-.7-2.1l-.7 1.7l-.7-1.6l-.7 .3l-.7 1.5l-.7-1.7l-.7-.2l-.7 1.3l-.7-.9l-.7-1.3l-.7 .4l-.7 1.6l-.7-1.6l-.7 .7l-.7-1.4l-.7 .7l-.7 .1l-.7-.3l-.7-.3l-.7-.5l-.7-.1l-.7 1.2l-.7-.7l-.7 .3l-.7-1.3l-.7 .2l-.7 .4l-.7 0l-.7-.3l-.7 .1l-.7 .1l-.7-.2l-.7 .1l-.7-.1l-.7 .7l-.7-.7l-.7 1.3l-.7-.8l-.7-.2l-.7-.1l-.7 .8l-.7 0l-.7 .3l-.7-.8l-.7-.9l-.7 .4l-.7-.6l-.7-.1l-.7 0l-.7 .1l-.7 1.4l-.7-1.7l-.7 .6l-.7-.1l-.7 .5l-.7 .1l-.7-.8l-.7-.4l-.7 .1l-.7 .5l-.7-.1l-.7 0l-.7-.9l-.7-.1l-.7 .2l-.7 .1l-.7-.3l-.7 .3l-.7 0l-.7-.6l-.7 1.5l-.7-.5l-.7-.6l-.7 1.2l-.7-1.4l-.7 1.8l-.7-1.9l-.7 .3l-.7-.5l-.7-.4l-.7 .2l-.7-.1l-.7-.2l-.7 0l-.7 .3l-.7-.2l-.7-.1l-.7-.6l-.7 .7l-.7-1.1l-.7-.4l-.7 .2l-.7 .9l-.7-.9l-.7 2l-.7-.1l-.7-1.7l-.7 .2l-.7 1.1l-.7-1.4l-.7 0l-.7 .2l-.7 1.1l-.7-1.5l-.7 .1l-.7-.4l-.7 1.7l-.7-1l-.7 .3l-.7-1.2l-.7 .8l-.7 1l-.7-1.6l-.7 1l-.7 1.5l-.7-1.2l-.7-1.8l-.7 .4l-.7 .5l-.7 0l-.7-.2l-.7-.5l-.7 1.3l-.7 .1l-.7-1.7l-.7 2l-.7-1.1l-.7-1.1l-.7-.3l-.7 .3l-.7 .2l-.7 1.1l-.7-1.7l-.7-.1l-.7 .3l-.7-.5l-.7-.3l-.7-.1l-.7 0l-.7 .7l-.7 0l-.7-.3l-.7-.1l-.7-.6l-.7 1.1l-.7-1.3l-.7 .5l-.7 1.4l-.7-1.6l-.7 .2l-.7-.7l-.7 .6l-.7-.5l-.7 .3l-.7-.6l-.7 .4l-.7 .6l-.7-1l-.7-.1l-.7 .3l-.7-.6l-.7 1.4l-.7-1.1l-.7 .1l-.7 .1l-.7 .4l-.7-.8l-.7 .2l-.7-.5l-.7 .4l-.7 1.3l-.7-1.5l-.7 1.3l-.7-1.1l-.7 .6l-.7-.6l-.7-.2l-.7 .3l-.7 0l-.7 .4l-.7-.1l-.7-.8l-.7 .5l-.7-.4l-.7 0l-.7-.1l-.7 .1l-.7-.7l-.7 .1l-.7 .4l-.7-.3l-.7 1.2l-.7-1.3l-.7-.1l-.7 .2l-.7 1.6l-.7 .2l-.7-1.9l-.7 .3l-.7 .4l-.7 .3l-.7-1.3l-.7 1.2l-.7-.3l-.7-.3l-.7-.6l-.7 1.2l-.7-1.2l-.7 1.3l-.7-1.5l-.7-.2l-.7 .8l-.7-.4l-.7 .1l-.7-.3l-.7 0l-.7-.6l-.7 1.4l-.7-1.6l-.7 .7l-.7-.8l-.7 2.1l-.7-2l-.7 1l-.7-.2l-.7-.4l-.7-.5l-.7 .6l-.7-.7l-.7 .9l-.7 .1l-.7-1.2l-.7-.4l-.7 .6l-.7 .4l-.7-.7l-.7-.1l-.7 .7l-.7-.3l-.7-.5l-.7 .2l-.7-.6l-.7 0l-.7 .3l-.7-.3l-.7 .4l-.7-.4l-.7 .5l-.7 .5l-.7-1.1l-.7-.4l-.7 .7l-.7 .2l-.7-.3l-.7 .4l-.7-.9l-.7 .2l-.7 .7l-.7-.5l-.7 .7l-.7-.5l-.7-.7l-.7-.2l-.7 1l-.7 .8l-.7-.6l-.7-1.5l-.7 .2l-.7 .7l-.7-1.1l-.7-.4l-.7 1.4l-.7-.8l-.7-1l-.7 1.1l-.7-.7l-.7 .3l-.7 .1l-.7-.4l-.7 1l-.7-.5l-.7-.3l-.7 .2l-.7 .7l-.7 0l-.7-1.1l-.7 .4l-.7-.4l-.7 .9l-.7 .2l-.7-1.1l-.7-.1l-.7 .2l-.7 .1l-.7-1.2l-.7 .6l-.7 .3l-.7-1l-.7 1.2l-.7 .1l-.7-1.2l-.7 .4l-.7 .1l-.7-.3l-.7-.6l-.7 .5l-.7-.4l-.7-.1l-.7-.1l-.7-.4l-.7 1.2l-.7-.7l-.7 1l-.7-1.5l-.7-.6l-.7 .1l-.7 .2l-.7 .6l-.7 .1l-.7-.9l-.7 .8l-.7-.5l-.7 .6l-.7-1.3l-.7 .1l-.7 .7l-.7-.8l-.7 2.2l-.7-2l-.7 .3l-.7-.5l-.7-.4l-.7 1.9l-.7-1.8l-.7 .9l-.7-.8l-.7 1.2l-.7-1.3l-.7-.3l-.7 .7l-.7-.5l-.7 .9l-.7-1l-.7 .9l-.7-1.2l-.7-.1l-.7 1.6l-.7-1.4l-.7-.2l-.7 0l-.7 .1l-.7 .5l-.7-.3l-.7 .3l-.7-.4l-.7 .1l-.7 1.2l-.7-1.4l-.7-1l-.7 1.1l-.7-.5l-.7-.9l-.7 1l-.7-.7l-.7 .1l-.7-.6l-.7 .8l-.7-.1l-.7-.6l-.7 .3l-.7 .1l-.7-.2l-.7-1l-.7 .4l-.7-.8l-.7 .2l-.7 .6l-.7 .7l-.7-1.8l-.7 .1l-.7 .8l-.7-.8l-.7-.6l-.7 0l-.7-.2l-.7 .5l-.7-.4l-.7 .7l-.7-.8l-.7-.4l-.7 0l-.7 .3l-.7 .3l-.7-1.1l-.7-.2l-.7 .8l-.7-.7l-.7 .1l-.7 .5l-.7 .2l-.7 .5l-.7-.2l-.7-.9l-.7-.9l-.7 .2l-.7-.9l-.7-.4l-.7 .2l-.7-.3l-.7 .1l-.7 .7l-.7-.6l-.7 .8l-.7-1.6l-.7-.1l-.7-.2z" fill="#ff4500" stroke="none"/>
<line x1="158.3" y1="437.0" x2="750.2" y2="473.0" stroke="#ff4500" stroke-width="2.4"/>
<path d="M157.8 433.8l.7-.4l.7 .6l.7-.3l.7 1.1l.7-.2l.7 .6l.7 0l.7-.7l.7 .7l.7 .2l.7-.1l.7-.1l.7-.1l.7 .7l.7 .2l.7-.5l.7 1.2l.7-.4l.7 .4l.7-.1l.7 0l.7-1.4l.7 .1l.7 1.5l.7 1.3l.7-.4l.7 .7l.7-.8l.7 .4l.7-.1l.7 .1l.7 .9l.7 0l.7-.7l.7 0l.7 .7l.7 .3l.7-.1l.7 .5l.7 .3l.7 .9l.7 .1l.7-.3l.7 .2l.7-.3l.7 .2l.7 .4l.7 .2l.7-.9l.7 1.2l.7 .3l.7 .1l.7-.2l.7 .7l.7-.6l.7 1l.7 0l.7 .1l.7 0l.7-1.2l.7 1.6l.7 .6l.7 .6l.7-.2l.7 0l.7-.5l.7 .8l.7 .4l.7-.3l.7 1.1l.7 0l.7-2.4l.7 1.4l.7 .2l.7 1.1l.7-1l.7 .7l.7 .4l.7-.5l.7 1.4l.7-.6l.7 .8l.7-.3l.7-.5l.7-.4l.7 1.9l.7-.7l.7 .3l.7 .7l.7-.1l.7 .3l.7 .4l.7 .5l.7-.1l.7-.6l.7-.4l.7 1.2l.7 .7l.7 .9l.7-.4l.7 1.1l.7-.7l.7-.2l.7 1.7l.7 0l.7 .2l.7 .4l.7-1.3l.7 1.5l.7 .3l.7-.4l.7-.2l.7 .1l.7 1l.7 0l.7-.1l.7 .7l.7 .4l.7-.2l.7 .6l.7 .5l.7-.1l.7-.4l.7 .3l.7 .9l.7-1l.7 1.7l.7 .2l.7-1.4l.7 .3l.7 .7l.7 .5l.7 .1l.7 0l.7-.4l.7-1l.7 2.2l.7 .8l.7 0l.7 .7l.7-.6l.7 0l.7-.2l.7 1.3l.7 0l.7 .2l.7 .5l.7 .2l.7 .3l.7-.2l.7 .4l.7 .1l.7-.2l.7 .4l.7-.3l.7-.7l.7 .2l.7 .1l.7 1.7l.7 0l.7-.5l.7 0l.7-.9l.7 1.6l.7 1.1l.7-.4l.7 .1l.7 .3l.7 1.1l.7-.1l.7-1.2l.7 1.7l.7-.9l.7 .9l.7-.7l.7 .9l.7-.5l.7 1.1l.7 .4l.7-.7l.7 .1l.7 .3l.7 .3l.7 1.1l.7-.6l.7 .3l.7 0l.7 .3l.7 .8l.7 .1l.7 .6l.7 1.1l.7 .3l.7 .4l.7 .3l.7-.1l.7 .7l.7 .8l.7-1.2l.7 2.1l.7 .4l.7-.8l.7 1.6l.7 .2l.7-.6l.7-.1l.7 .7l.7-1.1l.7 2.2l.7 .1l.7 .3l.7 0l.7-.6l.7 .1l.7-.2l.7 1.1l.7-.4l.7 .1l.7 1.3l.7 .1l.7 .6l.7-1.3l.7 1l.7 0l.7 0l.7 .7l.7 .1l.7 .4l.7-.1l.7-.9l.7 1.8l.7-.2l.7 .6l.7-.5l.7-.3l.7 1.9l.7 .3l.7-.4l.7-.1l.7 1.1l.7-.2l.7-.1l.7 .5l.7-1.2l.7 .4l.7 .4l.7 .2l.7 .9l.7 .2l.7 .2l.7 .3l.7-.2l.7-.2l.7 0l.7 .8l.7 .1l.7-.2l.7 .1l.7-.3l.7 1.2l.7 .1l.7 .1l.7-1.3l.7 1.1l.7 .6l.7-.6l.7-.2l.7 1.6l.7-1.1l.7 .6l.7 .6l.7 .2l.7-1.6l.7 1.5l.7-1.4l.7 1.4l.7 0l.7 1.8l.7 .2l.7-1.3l.7 1.3l.7 .4l.7-.2l.7-1.7l.7 2.2l.7-1.6l.7 1.3l.7 .8l.7-.5l.7-.7l.7 .2l.7 .5l.7 .7l.7 .5l.7-.1l.7-.2l.7-.8l.7 1.6l.7 .4l.7 .8l.7-.2l.7-.1l.7 .3l.7 .2l.7-.5l.7 1.3l.7 .3l.7 1.1l.7-.5l.7-.2l.7-.8l.7 2.5l.7-.8l.7-.5l.7 1.3l.7-.7l.7 1.5l.7 .2l.7 0l.7 .5l.7-1.1l.7 1.8l.7 0l.7-.1l.7 .7l.7-.9l.7 1.3l.7-.2l.7-.4l.7 1.2l.7-.2l.7-.4l.7 1.1l.7-.1l.7-.1l.7 1.2l.7-.3l.7-.5l.7 2.1l.7-.3l.7 1.3l.7-.8l.7 1l.7 .3l.7-.5l.7 1l.7-.2l.7 0l.7 1.1l.7 .5l.7-.3l.7 .6l.7-.2l.7 1.2l.7-.5l.7 .4l.7 .2l.7 .2l.7 .1l.7-1.2l.7 1.1l.7 0l.7 1.3l.7-.2l.7 .6l.7-.6l.7 .8l.7-.6l.7-.2l.7 .8l.7-.1l.7 .6l.7 .6l.7-1.5l.7 1.9l.7-.1l.7 1.2l.7-.2l.7-.4l.7 1l.7 .5l.7-.8l.7-.2l.7 .6l.7 1.5l.7-1.2l.7 .7l.7 .2l.7 .4l.7 .3l.7 1.4l.7 .5l.7-.9l.7 1.2l.7 .2l.7-.3l.7 .3l.7 0l.7-.3l.7 1.2l.7-.4l.7-.8l.7 1.6l.7 .1l.7 0l.7 .4l.7-.2l.7 .2l.7-.2l.7 1.8l.7 .6l.7 .1l.7-1.1l.7 1.5l.7 .2l.7-.1l.7 .3l.7 .2l.7 .3l.7-1l.7 1.3l.7-1.2l.7 .5l.7 .7l.7-.3l.7 .2l.7 .6l.7 0l.7 0l.7 .4l.7-.3l.7-1.3l.7-.7l.7 2.7l.7-.6l.7 .6l.7 .2l.7-.3l.7-.4l.7 .7l.7 .3l.7-1.1l.7 1.2l.7 .2l.7-.4l.7-.4l.7 .3l.7 .4l.7 .2l.7 0l.7-.7l.7-.7l.7 .9l.7 .5l.7 .5l.7 .1l.7-.4l.7-.7l.7 1.6l.7 0l.7-1.6l.7 .9l.7 .3l.7-.8l.7 1.7l.7-.4l.7-.2l.7 .7l.7 .1l.7-.8l.7 .7l.7 .9l.7 .2l.7-.4l.7-.4l.7 1.2l.7 .3l.7-1.6l.7 .2l.7 1.9l.7-.6l.7 1l.7-1.1l.7 .7l.7 0l.7 .3l.7 .5l.7 .2l.7 .7l.7-1.5l.7 .9l.7 1.4l.7-.2l.7 .2l.7 .2l.7-.2l.7 .1l.7-.4l.7-.7l.7 1l.7 .1l.7 .5l.7-2.1l.7 1.8l.7 .4l.7-.5l.7 .5l.7 .1l.7 .3l.7 .1l.7 .4l.7-.2l.7 .9l.7 .4l.7 0l.7 .1l.7 0l.7-.4l.7-.7l.7 1.5l.7-.4l.7-.4l.7 .6l.7 .1l.7 .2l.7 0l.7 .6l.7-1.5l.7 1.2l.7 .2l.7 .1l.7-.9l.7 1.1l.7-.7l.7 .1l.7 .8l.7 .2l.7-.5l.7-.5l.7 .9l.7 .5l.7-.7l.7 .4l.7-.2l.7 .9l.7-.3l.7-.5l.7 .2l.7-.4l.7 .9l.7-.2l.7 .7l.7-.6l.7 0l.7-.1l.7-.5l.7 .7l.7 .1l.7 0l.7 .1l.7-.2l.7 .6l.7 1l.7-1.9l.7 1.8l.7-2l.7 3l.7-.2l.7-.1l.7-.7l.7 1l.7 .6l.7 0l.7-1.5l.7 .5l.7 0l.7 .8l.7-.3l.7 .9l.7-1.2l.7 1.3l.7-.3l.7-1.6l.7 2l.7-.8l.7 .8l.7-.1l.7 .8l.7-.1l.7-.1l.7-1.2l.7 .9l.7 .8l.7-.8l.7 .1l.7 1l.7 .4l.7-1.3l.7 1.1l.7 .5l.7-.3l.7 0l.7 .6l.7-.2l.7-.5l.7 .3l.7-.5l.7 .3l.7-.4l.7-.9l.7 .5l.7 2.2l.7 .6l.7-.5l.7 .9l.7 .3l.7 .7l.7-.8l.7 1.5l.7 .4l.7 .5l.7-.2l.7-1.4l.7 1.9l.7-1l.7 .8l.7 1l.7 .1l.7 0l.7-.1l.7 .8l.7-.4l.7 .5l.7 0l.7-.3l.7 0l.7 1l.7 .4l.7-.4l.7-.5l.7 1.5l.7-.8l.7 .2l.7-1.1l.7 1.9l.7 .5l.7-.7l.7 .5l.7-1.9l.7 1.8l.7 .6l.7 .8l.7-.1l.7 .3l.7-1l.7 .8l.7 .2l.7 .1l.7-.1l.7-1.2l.7 1.7l.7-1.1l.7 0l.7 .9l.7 1.1l.7-.1l.7-.4l.7 .7l.7-.7l.7 1.2l.7 .1l.7-1l.7 1.3l.7 .6l.7-.5l.7 1l.7 .4l.7 .1l.7-.8l.7 .6l.7 .2l.7 .8l.7 0l.7 .5l.7 .4l.7-.1l.7-.8l.7 .4l.7 1.3l.7-.3l.7 .7l.7-.3l.7 .4l.7-1.7l.7 1.8l.7 0l.7 .6l.7 .1l.7-.6l.7-.1l.7 1l.7-.6l.7 .6l.7-.5l.7 .1l.7-.2l.7 .9l.7-.1l.7-.5l.7 0l.7 1.1l.7 .2l.7-.6l.7 .7l.7 .8l.7-2.3l.7 1.2l.7 1.1l.7 .3l.7-1.7l.7 2.2l.7-.3l.7 .1l.7 1l.7 .4l.7-1l.7-.2l.7 1.3l.7-.6l.7 .7l.7 .4l.7 .1l.7-.2l.7 .2l.7 .1l.7 .3l.7-.3l.7-1.2l.7 .9l.7 0l.7 1l.7 0l.7-.2l.7 1.6l.7 .5l.7 .6l.7 .1l.7 1.6l.7 0l.7 1.6l.7-.1l.7 1.2l.7-.3l.7-.1l.7 .3l.7 1.1l.7 .1l.7 .3l.7-.1l.7 .3l.7 .1l.7 .2l.7 .3l.7 .1l.7 .9l.7-.9l.7 1.2l.7-2.2l.7 1.4l.7 1.3l.7-1.5l.7 1.5l.7-.2l.7 .5l.7-1.3l.7 .9l.7-.4l.7 1.3l.7 .2l.7-.9l.7 .7l.7 .5l.7-.6l.7 .4l.7 .8l.7-1.7l.7 1.8l.7-.1l.7-.6l.7 .8l.7 .4l.7-.7l.7 1.1l.7-.6l.7 1l.7-.2l.7-.1l.7 .1l.7-.2l.7-.9l.7 1.9l.7-1.1l.7 1l.7 .5l.7-.7l.7 1l.7-.6l.7 .7l.7 0l.7 .7l.7-.5l.7 .4l.7 1.1l.7-.9l.7 .1l.7 .4l.7-1.4l.7-.6l.7 1l.7 1.7l.7-.2l.7-.3l.7 .3l.7 0l.7-.1l.7 1l.7 .7l.7-.1l.7-.2l.7 .1l.7 0l.7-.6l.7 .8l.7 .9l.7-1.3l.7 1.3l.7-.2l.7 .1l.7 .5l.7-.5l.7-.5l.7 .8l.7 .5l.7-.9l.7 1.5l.7-.3l.7-.2l0 7.5l-.7 .2l-.7-.4l-.7-.3l-.7-.5l-.7-.1l-.7-.1l-.7 1.5l-.7-1.6l-.7 .1l-.7-.2l-.7 .3l-.7 .3l-.7-1l-.7-.5l-.7 .6l-.7 .3l-.7-1.1l-.7 .6l-.7-.6l-.7 .1l-.7-.3l-.7-.8l-.7 1.2l-.7-1l-.7 .8l-.7-.6l-.7-.1l-.7-.6l-.7 .3l-.7-1.4l-.7 .8l-.7-.2l-.7-.1l-.7-.2l-.7 .5l-.7 .3l-.7-1l-.7 0l-.7-1l-.7 1.5l-.7-.9l-.7-1.2l-.7 .2l-.7 0l-.7 .2l-.7-.7l-.7 1.5l-.7-1.4l-.7-.2l-.7-.4l-.7-.1l-.7 1.7l-.7-1.6l-.7-.7l-.7 0l-.7-.2l-.7 .9l-.7-1.2l-.7-.1l-.7 .7l-.7-.7l-.7 0l-.7-.3l-.7-.1l-.7-.5l-.7-.1l-.7 .3l-.7 .1l-.7-.9l-.7-.5l-.7 .2l-.7 .6l-.7-.5l-.7 .4l-.7-.7l-.7 .2l-.7-.3l-.7-.7l-.7-.1l-.7 .4l-.7-.5l-.7 .9l-.7-1.4l-.7 1.2l-.7-1.4l-.7 1.1l-.7-.2l-.7-1.1l-.7-.8l-.7 .2l-.7-.8l-.7 1.6l-.7-1.7l-.7 .1l-.7 1.3l-.7-2.8l-.7-.5l-.7 1l-.7-2.9l-.7-.8l-.7 .3l-.7-1.4l-.7-1.1l-.7 .9l-.7-1.9l-.7 .4l-.7 0l-.7 .4l-.7-1l-.7-.1l-.7-.1l-.7-.3l-.7-.1l-.7 .5l-.7-.7l-.7 .4l-.7 .1l-.7-.9l-.7 0l-.7 .7l-.7-.9l-.7 2l-.7-1.8l-.7-.1l-.7-1.1l-.7 .1l-.7 .1l-.7 1.5l-.7-.6l-.7-1.2l-.7 .1l-.7-.4l-.7 .7l-.7-1.3l-.7-.3l-.7-.4l-.7 0l-.7-.6l-.7 1l-.7-.1l-.7-.9l-.7 .2l-.7-.3l-.7-.2l-.7 .7l-.7 .4l-.7 .9l-.7-2.3l-.7 .5l-.7-1.2l-.7 1.4l-.7-1.7l-.7 .9l-.7-1.3l-.7 1.9l-.7-1.4l-.7-.3l-.7-.1l-.7 1l-.7-1l-.7-.9l-.7 1.1l-.7-.6l-.7-1.4l-.7 .3l-.7 .7l-.7-.5l-.7-.6l-.7-.6l-.7-.3l-.7 .2l-.7 1.1l-.7-1.4l-.7 .1l-.7-1.4l-.7-.1l-.7 .2l-.7-.1l-.7-.8l-.7-.1l-.7 .7l-.7-1l-.7 1l-.7-1.1l-.7 .6l-.7-1.2l-.7 .9l-.7-.8l-.7-.9l-.7 .1l-.7 1.7l-.7-2.2l-.7 .8l-.7 .2l-.7-.3l-.7-.7l-.7-.2l-.7 .9l-.7-1.6l-.7 .5l-.7 .2l-.7-.6l-.7-.5l-.7-.1l-.7-.3l-.7 2.4l-.7-2.9l-.7-.1l-.7 .8l-.7 .2l-.7-1.1l-.7-.5l-.7 1.7l-.7-1.7l-.7 .5l-.7 .3l-.7-.3l-.7-.4l-.7-.5l-.7 .2l-.7-.9l-.7-.2l-.7 .2l-.7-.3l-.7 .1l-.7 .8l-.7-1.5l-.7-.2l-.7-1.4l-.7-.4l-.7 .8l-.7 .3l-.7-.2l-.7-1.8l-.7-.1l-.7-1.1l-.7-.2l-.7 .4l-.7 .5l-.7 .1l-.7 0l-.7 .5l-.7-.7l-.7 .2l-.7-.8l-.7-1l-.7-.2l-.7 .3l-.7 .1l-.7 .3l-.7 .1l-.7-.8l-.7-.4l-.7 .7l-.7-1.1l-.7-.1l-.7 .4l-.7 1l-.7-1l-.7-.5l-.7 .2l-.7-.1l-.7 .7l-.7-1.4l-.7-.3l-.7 .1l-.7 .3l-.7-.3l-.7 .2l-.7-.6l-.7 .6l-.7-.8l-.7 0l-.7-.3l-.7 .1l-.7 .2l-.7-.1l-.7-.1l-.7-.4l-.7-.3l-.7 1l-.7-1.3l-.7-.3l-.7 .2l-.7-.1l-.7-.1l-.7 0l-.7 2.3l-.7-1.9l-.7-1.2l-.7 1.6l-.7 0l-.7-1.5l-.7 .9l-.7-1.3l-.7 .1l-.7-.2l-.7-.5l-.7 .1l-.7 .4l-.7 1.2l-.7-.7l-.7-1.1l-.7 .6l-.7-.4l-.7-.1l-.7 .8l-.7-.8l-.7-.1l-.7-.7l-.7 .1l-.7-.5l-.7 .6l-.7-.2l-.7-.3l-.7 .4l-.7 1.3l-.7-1.9l-.7 .8l-.7-.6l-.7 1.2l-.7-.3l-.7-1.3l-.7 .3l-.7-.5l-.7 .5l-.7-.9l-.7 1.8l-.7-1.4l-.7-.6l-.7 0l-.7 .3l-.7-.4l-.7 .9l-.7-.9l-.7-.5l-.7 0l-.7 .3l-.7-.5l-.7-.5l-.7-.2l-.7-.3l-.7 .3l-.7-.7l-.7 .3l-.7 .7l-.7-.7l-.7-.5l-.7 .2l-.7 .6l-.7 .6l-.7-1.3l-.7-.1l-.7-.1l-.7 .7l-.7-1.5l-.7 1.7l-.7-1.7l-.7-.1l-.7-.5l-.7-.4l-.7 .2l-.7-.6l-.7 .3l-.7-.5l-.7 .5l-.7-.4l-.7 2.3l-.7-3.2l-.7 1.5l-.7-1.7l-.7-.5l-.7-.4l-.7 .8l-.7-.8l-.7 .3l-.7 .3l-.7-.7l-.7 .2l-.7-.5l-.7-.7l-.7 0l-.7 .2l-.7-.1l-.7 0l-.7-.3l-.7-.2l-.7 1.7l-.7-.9l-.7 .1l-.7 0l-.7-1.1l-.7-.2l-.7-.6l-.7 .7l-.7-.7l-.7 .5l-.7-.7l-.7 1.7l-.7-1.5l-.7 1l-.7-.8l-.7 1.7l-.7-.6l-.7-.5l-.7-.8l-.7 0l-.7 1.1l-.7-1.4l-.7-.1l-.7 1.2l-.7-1l-.7-.3l-.7 1.6l-.7-1.3l-.7-.6l-.7 .4l-.7-.5l-.7-.1l-.7 0l-.7-.8l-.7-.3l-.7-.1l-.7 .9l-.7 .1l-.7-1l-.7-.2l-.7 .3l-.7 0l-.7-1.1l-.7 1l-.7-1.3l-.7 .6l-.7 .1l-.7-.7l-.7-.1l-.7-.5l-.7 1.3l-.7-2.2l-.7 1.8l-.7-1.4l-.7-.1l-.7-1.5l-.7 1.1l-.7-1.3l-.7 2.1l-.7-2.6l-.7 .6l-.7 .4l-.7-.7l-.7 .4l-.7-1.6l-.7 1l-.7-.3l-.7-.9l-.7-1l-.7 1.1l-.7-1.2l-.7-.8l-.7 .1l-.7-.2l-.7 1.1l-.7-2l-.7 .6l-.7-1.5l-.7-.2l-.7-.3l-.7 .4l-.7-.7l-.7 .6l-.7-.5l-.7 .3l-.7-1.1l-.7-.9l-.7-.2l-.7 .3l-.7-.6l-.7-.4l-.7 1.4l-.7-1.4l-.7-.5l-.7 1.9l-.7-1.3l-.7 .3l-.7-1.1l-.7 .4l-.7-.9l-.7 1.7l-.7-1.2l-.7-.3l-.7-1.1l-.7 1.4l-.7-.6l-.7 .5l-.7-2l-.7 .2l-.7-.3l-.7-1l-.7 .2l-.7-.5l-.7-.4l-.7-1l-.7 .5l-.7 .2l-.7 1l-.7-1.6l-.7-1.1l-.7-.2l-.7-.5l-.7 1.1l-.7-.5l-.7-1.7l-.7 .1l-.7 .2l-.7 0l-.7-1.3l-.7-.2l-.7 .4l-.7 .2l-.7-1.1l-.7 .8l-.7-.8l-.7-1l-.7 .2l-.7 1.2l-.7-.7l-.7-1l-.7-.1l-.7 .8l-.7-1.8l-.7 .2l-.7-.5l-.7-.1l-.7-.6l-.7-.5l-.7 .6l-.7-.5l-.7-.5l-.7-.4l-.7 0l-.7 0l-.7-1l-.7 .9l-.7-1.8l-.7-.2l-.7 .3l-.7-.1l-.7-.7l-.7-.8l-.7 1l-.7-1.2l-.7 1.1l-.7-.8l-.7-.3l-.7-.1l-.7-.5l-.7 0l-.7 .6l-.7-.5l-.7-.5l-.7 .5l-.7-1.2l-.7 .7l-.7 .1l-.7-.2l-.7-.8l-.7-.3l-.7 .8l-.7 .5l-.7-2.1l-.7 .6l-.7 .1l-.7-1.2l-.7-.4l-.7 .1l-.7 .4l-.7 1.3l-.7-2.1l-.7-.2l-.7 .6l-.7-1.3l-.7 1l-.7-1.3l-.7 .2l-.7-.2l-.7 0l-.7-.7l-.7-.6l-.7 .2l-.7 2.6l-.7-2.5l-.7 .4l-.7-.8l-.7 .1l-.7-.3l-.7 .8l-.7-.3l-.7-.7l-.7-.1l-.7 .3l-.7-.5l-.7-.2l-.7-.8l-.7 .9l-.7 .2l-.7-1.3l-.7 .3l-.7-.6l-.7 .8l-.7-1.3l-.7-.4l-.7 .5l-.7-.1l-.7-.8l-.7 1l-.7-1.5l-.7-.5l-.7-.3l-.7 0l-.7-.3l-.7 .1l-.7 .8l-.7-.8l-.7-.9l-.7 1.2l-.7-.4l-.7-1.4l-.7-.2l-.7 1.6l-.7-1.5l-.7 .1l-.7-.9l-.7-.2l-.7 .9l-.7-1.1l-.7 .2l-.7-.8l-.7 1.1l-.7-.9l-.7-.1l-.7-.9l-.7-.4l-.7 .3l-.7 .2l-.7-.9l-.7-.8l-.7 .7l-.7-.5l-.7-.7l-.7-1.2l-.7-.2l-.7 0l-.7-1l-.7 1l-.7-1.3l-.7-.5l-.7-.4l-.7 .1l-.7 .3l-.7-1.6l-.7 .2l-.7 .1l-.7 0l-.7 0l-.7-1.6l-.7 0l-.7-.3l-.7-.6l-.7 1.8l-.7-.9l-.7 0l-.7-1.5l-.7-.2l-.7 .1l-.7 .3l-.7 .3l-.7-.4l-.7-1.1l-.7 .6l-.7-.8l-.7-.7l-.7 .4l-.7-.1l-.7-.4l-.7 .6l-.7-1.1l-.7 .5l-.7 .2l-.7-1.1l-.7-.8l-.7 .2l-.7-.3l-.7-.1l-.7 .1l-.7-.3l-.7 .8l-.7-.9l-.7 1.1l-.7 .3l-.7-2.4l-.7 .2l-.7 1.2l-.7-.8l-.7-.9l-.7-.2l-.7-.8l-.7 .6l-.7 .1l-.7 .6l-.7-1.2l-.7-.3l-.7-1l-.7-.5l-.7-.1l-.7 0l-.7 .1l-.7-.5l-.7 .2l-.7 .7l-.7-1.5l-.7 1.3l-.7-1.1l-.7-.1l-.7-.5l-.7-.6l-.7 .2l-.7 1.1l-.7-1.6l-.7 1.2l-.7-1.6l-.7 .3l-.7-.6l-.7-1l-.7 .2l-.7 2l-.7-1.7l-.7-.2l-.7 .3l-.7-.4l-.7 0l-.7-.6l-.7 .2l-.7-.5l-.7-1.4l-.7 .3l-.7 0l-.7-.9l-.7 .7l-.7-.4l-.7-.7l-.7 .1l-.7-1.1l-.7 .1l-.7-.1l-.7-.7l-.7 0l-.7 .1l-.7-.8l-.7 .8l-.7 .2l-.7-1.5l-.7-.7l-.7-.1l-.7 1.3l-.7-1.5l-.7 .1l-.7 1.5l-.7-2l-.7 .2l-.7-.1l-.7 1l-.7-.3l-.7-1.2l-.7 .8l-.7-.7l-.7 .6l-.7-.8l-.7-1l-.7 0l-.7 .8l-.7-.1l-.7-1.2l-.7 .5l-.7-.4l-.7-1l-.7 .5l-.7-.1l-.7-.1l-.7-.6l-.7 .8l-.7-.2l-.7-1.9l-.7-.1l-.7 2l-.7-.4l-.7-1.8l-.7 .6l-.7-1.4l-.7 1.9l-.7-1.3l-.7-.6l-.7-.3l-.7 1.1l-.7-1.1l-.7 1.9l-.7-.8l-.7-1.6l-.7-.1l-.7-.2l-.7 .3l-.7-.5l-.7 .1l-.7-.6l-.7 0l-.7-.1l-.7 .9l-.7-1.6l-.7 .3l-.7-.8l-.7-.2l-.7 0l-.7 0l-.7 .3l-.7-1.1l-.7 .3l-.7-.2l-.7 .2l-.7-.7l-.7 1l-.7-1l-.7-.2l-.7 .8l-.7 .2l-.7-2.1l-.7-.3l-.7 1.5l-.7-1.8l-.7-.1l-.7 .7l-.7-.7l-.7-.3l-.7-.7l-.7-.5l-.7-.3l-.7 .8l-.7-1l-.7 .6z" fill="#808080" stroke="none"/>
<line x1="158.3" y1="441.2" x2="750.2" y2="594.3" stroke="#808080" stroke-width="2.4"/>
</g>
<g stroke="#000" stroke-width="2.3" fill="none" stroke-linecap="butt">
<rect x="158.3" y="69.7" width="591.9" height="591.7"/>
<path d="M158.3 661.4V671.9M158.3 69.7V59.2M178.0 661.4V666.7M178.0 69.7V64.4M197.8 661.4V666.7M197.8 69.7V64.4M217.5 661.4V666.7M217.5 69.7V64.4M237.2 661.4V666.7M237.2 69.7V64.4M257.0 661.4V671.9M257.0 69.7V59.2M276.7 661.4V666.7M276.7 69.7V64.4M296.4 661.4V666.7M296.4 69.7V64.4M316.1 661.4V666.7M316.1 69.7V64.4M335.9 661.4V666.7M335.9 69.7V64.4M355.6 661.4V671.9M355.6 69.7V59.2M375.3 661.4V666.7M375.3 69.7V64.4M395.1 661.4V666.7M395.1 69.7V64.4M414.8 661.4V666.7M414.8 69.7V64.4M434.5 661.4V666.7M434.5 69.7V64.4M454.3 661.4V671.9M454.3 69.7V59.2M474.0 661.4V666.7M474.0 69.7V64.4M493.7 661.4V666.7M493.7 69.7V64.4M513.4 661.4V666.7M513.4 69.7V64.4M533.2 661.4V666.7M533.2 69.7V64.4M552.9 661.4V671.9M552.9 69.7V59.2M572.6 661.4V666.7M572.6 69.7V64.4M592.4 661.4V666.7M592.4 69.7V64.4M612.1 661.4V666.7M612.1 69.7V64.4M631.8 661.4V666.7M631.8 69.7V64.4M651.6 661.4V671.9M651.6 69.7V59.2M671.3 661.4V666.7M671.3 69.7V64.4M691.0 661.4V666.7M691.0 69.7V64.4M710.7 661.4V666.7M710.7 69.7V64.4M730.5 661.4V666.7M730.5 69.7V64.4M750.2 661.4V671.9M750.2 69.7V59.2M158.3 661.4H147.8M750.2 661.4H760.7M158.3 638.6H153.0M750.2 638.6H755.5M158.3 615.9H153.0M750.2 615.9H755.5M158.3 593.1H153.0M750.2 593.1H755.5M158.3 570.4H153.0M750.2 570.4H755.5M158.3 547.6H147.8M750.2 547.6H760.7M158.3 524.9H153.0M750.2 524.9H755.5M158.3 502.1H153.0M750.2 502.1H755.5M158.3 479.3H153.0M750.2 479.3H755.5M158.3 456.6H153.0M750.2 456.6H755.5M158.3 433.8H147.8M750.2 433.8H760.7M158.3 411.1H153.0M750.2 411.1H755.5M158.3 388.3H153.0M750.2 388.3H755.5M158.3 365.6H153.0M750.2 365.6H755.5M158.3 342.8H153.0M750.2 342.8H755.5M158.3 320.0H147.8M750.2 320.0H760.7M158.3 297.3H153.0M750.2 297.3H755.5M158.3 274.5H153.0M750.2 274.5H755.5M158.3 251.8H153.0M750.2 251.8H755.5M158.3 229.0H153.0M750.2 229.0H755.5M158.3 206.2H147.8M750.2 206.2H760.7M158.3 183.5H153.0M750.2 183.5H755.5M158.3 160.7H153.0M750.2 160.7H755.5M158.3 138.0H153.0M750.2 138.0H755.5M158.3 115.2H153.0M750.2 115.2H755.5M158.3 92.5H147.8M750.2 92.5H760.7M158.3 69.7H153.0M750.2 69.7H755.5"/>
</g>
<g font-size="46">
<text id="lg_7_5" x="273.8" y="127.5" text-anchor="end">7.5</text>
<line x1="300.2" y1="115.5" x2="316.2" y2="115.5" stroke="#ff0000" stroke-width="3"/>
<text id="lg_7_75" x="273.8" y="172.5" text-anchor="end">7.75</text>
<line x1="300.2" y1="160.5" x2="316.2" y2="160.5" stroke="#228b22" stroke-width="3"/>
<text id="lg_7_875" x="273.8" y="217.5" text-anchor="end">7.875</text>
<line x1="300.2" y1="205.5" x2="316.2" y2="205.5" stroke="#0000ff" stroke-width="3"/>
<text id="lg_8_00" x="479.8" y="127.5" text-anchor="end">8.00</text>
<line x1="506.8" y1="115.5" x2="522.8" y2="115.5" stroke="#ff00ff" stroke-width="3"/>
<text id="lg_8_125" x="479.8" y="172.5" text-anchor="end">8.125</text>
<line x1="506.8" y1="160.5" x2="522.8" y2="160.5" stroke="#ffa500" stroke-width="3"/>
<text id="lg_8_25" x="479.8" y="217.5" text-anchor="end">8.25</text>
<line x1="506.8" y1="205.5" x2="522.8" y2="205.5" stroke="#00ffff" stroke-width="3"/>
<text id="lg_8_375" x="686.8" y="127.5" text-anchor="end">8.375</text>
<line x1="713.7" y1="115.5" x2="729.7" y2="115.5" stroke="#000000" stroke-width="3"/>
<text id="lg_8_5" x="686.8" y="172.5" text-anchor="end">8.5</text>
<line x1="713.7" y1="160.5" x2="729.7" y2="160.5" stroke="#ff4500" stroke-width="3"/>
<text id="lg_9_00" x="686.8" y="217.5" text-anchor="end">9.00</text>
<line x1="713.7" y1="205.5" x2="729.7" y2="205.5" stroke="#808080" stroke-width="3"/>
<text id="yt_50" x="121.6" y="104.3" text-anchor="end">30</text>
<text id="yt_40" x="121.6" y="218.0" text-anchor="end">20</text>
<text id="yt_30" x="121.6" y="331.8" text-anchor="end">10</text>
<text id="yt_20" x="121.6" y="445.6" text-anchor="end">0</text>
<text id="yt_10" x="121.6" y="559.4" text-anchor="end">10</text>
<rect x="61.2" y="547.0" width="12.6" height="3"/>
<text id="yt_0" x="121.6" y="673.2" text-anchor="end">20</text>
<rect x="61.2" y="660.8" width="12.6" height="3"/>
<text id="xt_0" x="165.9" y="728.3" text-anchor="middle">0</text>
<text id="xt_2" x="264.6" y="728.3" text-anchor="middle">2</text>
<text id="xt_4" x="363.2" y="728.3" text-anchor="middle">4</text>
<text id="xt_6" x="461.9" y="728.3" text-anchor="middle">6</text>
<text id="xt_8" x="560.5" y="728.3" text-anchor="middle">8</text>
<text id="xt_10" x="659.2" y="728.3" text-anchor="middle">10</text>
<text id="xt_12" x="757.8" y="728.3" text-anchor="middle">12</text>
<text x="302.7" y="795.2">MC</text>
<text x="390.7" y="795.2">cycles</text>
<text x="531.4" y="795.2">10</text>
<text x="576" y="778.8" font-size="33">3</text>
<path d="M524.5 759.4H531V761.1H526.6V803.9H531V805.6H524.5Z" fill="#000"/>
<path d="M601.8 759.4H595.3V761.1H599.7V803.9H595.3V805.6H601.8Z" fill="#000"/>
</g>
<g font-size="55">
<path d="M89.2 717.8C81.5 724 77.1 734.5 77.1 746.15C77.1 757.8 81.5 768.3 89.2 774.5L90 773.5C83.5 767.5 79.9 758 79.9 746.15C79.9 734.3 83.5 724.8 90 718.8Z" fill="#000"/>
<text transform="translate(91.5,759.8) scale(1.12,0.96)">a</text>
<path d="M89.2 717.8C81.5 724 77.1 734.5 77.1 746.15C77.1 757.8 81.5 768.3 89.2 774.5L90 773.5C83.5 767.5 79.9 758 79.9 746.15C79.9 734.3 83.5 724.8 90 718.8Z" fill="#000" transform="translate(209.5,0) scale(-1,1)"/>
</g>
<g font-size="48">
<text transform="translate(56,402.9) rotate(-90) scale(1.233,1.04)">Δ</text>
<text transform="translate(56.3,365.2) rotate(-90) scale(1.04,1.016)" font-style="italic">V</text>
</g>
</svg>
</body></html>
